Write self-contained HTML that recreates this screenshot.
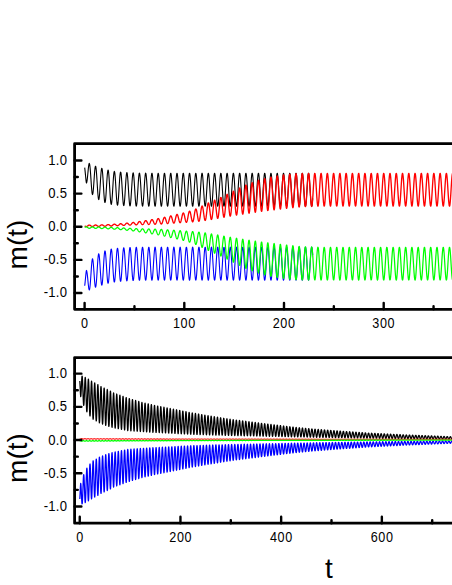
<!DOCTYPE html>
<html><head><meta charset="utf-8"><title>m(t)</title>
<style>html,body{margin:0;padding:0;background:#fff;}body{width:452px;height:585px;overflow:hidden;font-family:"Liberation Sans",sans-serif;}svg{display:block}</style>
</head><body>
<svg width="452" height="585" viewBox="0 0 452 585">
<rect width="452" height="585" fill="#fff"/>
<g fill="none" stroke-width="1.1" stroke-linejoin="round">
<path d="M84.70,167.62 84.90,169.23 85.10,171.08 85.30,173.11 85.50,175.22 85.70,177.32 85.90,179.31 86.10,181.07 86.30,182.51 86.50,182.98 86.70,182.49 86.90,181.62 87.10,180.38 87.30,178.84 87.50,177.04 87.70,175.06 87.90,172.99 88.10,170.91 88.30,168.93 88.50,167.13 88.70,165.61 88.90,164.43 89.10,163.68 89.30,163.41 89.50,163.75 89.70,164.61 89.90,165.97 90.10,167.79 90.30,170.02 90.50,172.58 90.70,175.39 90.90,178.35 91.10,181.35 91.30,184.27 91.50,187.00 91.70,189.44 91.90,191.50 92.10,193.08 92.30,194.12 92.50,194.59 92.70,194.25 92.90,193.33 93.10,191.87 93.30,189.92 93.50,187.58 93.70,184.94 93.90,182.10 94.10,179.19 94.30,176.32 94.50,173.63 94.70,171.22 94.90,169.19 95.10,167.64 95.30,166.63 95.50,166.21 95.70,166.41 95.90,167.21 96.10,168.59 96.30,170.52 96.50,172.92 96.70,175.71 96.90,178.78 97.10,182.01 97.30,185.29 97.50,188.47 97.70,191.44 97.90,194.08 98.10,196.29 98.30,197.98 98.50,199.09 98.70,199.56 98.90,199.35 99.10,198.48 99.30,197.00 99.50,194.98 99.70,192.51 99.90,189.69 100.10,186.62 100.30,183.45 100.50,180.29 100.70,177.28 100.90,174.54 101.10,172.19 101.30,170.32 101.50,169.02 101.70,168.33 101.90,168.30 102.10,168.92 102.30,170.18 102.50,172.03 102.70,174.40 102.90,177.20 103.10,180.32 103.30,183.64 103.50,187.03 103.70,190.36 103.90,193.49 104.10,196.31 104.30,198.70 104.50,200.58 104.70,201.85 104.90,202.48 105.10,202.45 105.30,201.71 105.50,200.35 105.70,198.41 105.90,195.97 106.10,193.15 106.30,190.04 106.50,186.78 106.70,183.51 106.90,180.35 107.10,177.44 107.30,174.89 107.50,172.81 107.70,171.28 107.90,170.37 108.10,170.11 108.30,170.53 108.50,171.59 108.70,173.25 108.90,175.47 109.10,178.15 109.30,181.19 109.50,184.47 109.70,187.86 109.90,191.22 110.10,194.43 110.30,197.36 110.50,199.89 110.70,201.91 110.90,203.36 111.10,204.17 111.30,204.32 111.50,203.77 111.70,202.57 111.90,200.76 112.10,198.43 112.30,195.68 112.50,192.60 112.70,189.34 112.90,186.01 113.10,182.76 113.30,179.72 113.50,177.01 113.70,174.73 113.90,172.99 114.10,171.85 114.30,171.36 114.50,171.54 114.70,172.37 114.90,173.83 115.10,175.86 115.30,178.38 115.50,181.30 115.70,184.49 115.90,187.84 116.10,191.20 116.30,194.44 116.50,197.44 116.70,200.07 116.90,202.24 117.10,203.84 117.30,204.83 117.50,205.16 117.70,204.82 117.90,203.81 118.10,202.18 118.30,200.01 118.50,197.38 118.70,194.40 118.90,191.18 119.10,187.85 119.30,184.56 119.50,181.43 119.70,178.60 119.90,176.16 120.10,174.23 120.30,172.87 120.50,172.16 120.70,172.10 120.90,172.71 121.10,173.96 121.30,175.81 121.50,178.17 121.70,180.96 121.90,184.07 122.10,187.37 122.30,190.72 122.50,194.00 122.70,197.07 122.90,199.82 123.10,202.13 123.30,203.90 123.50,205.08 123.70,205.61 123.90,205.48 124.10,204.68 124.30,203.25 124.50,201.26 124.70,198.77 124.90,195.89 125.10,192.74 125.30,189.44 125.50,186.14 125.70,182.95 125.90,180.01 126.10,177.44 126.30,175.34 126.50,173.80 126.70,172.87 126.90,172.59 127.10,172.97 127.30,174.01 127.50,175.65 127.70,177.84 127.90,180.49 128.10,183.48 128.30,186.71 128.50,190.04 128.70,193.34 128.90,196.47 129.10,199.32 129.30,201.76 129.50,203.70 129.70,205.07 129.90,205.80 130.10,205.87 130.30,205.28 130.50,204.05 130.70,202.23 130.90,199.89 131.10,197.13 131.30,194.06 131.50,190.80 131.70,187.48 131.90,184.24 132.10,181.21 132.30,178.50 132.50,176.23 132.70,174.50 132.90,173.36 133.10,172.86 133.30,173.03 133.50,173.86 133.70,175.32 133.90,177.34 134.10,179.85 134.30,182.74 134.50,185.91 134.70,189.22 134.90,192.53 135.10,195.73 135.30,198.67 135.50,201.25 135.70,203.35 135.90,204.90 136.10,205.84 136.30,206.12 136.50,205.73 136.70,204.70 136.90,203.06 137.10,200.87 137.30,198.24 137.50,195.26 137.70,192.05 137.90,188.75 138.10,185.48 138.30,182.37 138.50,179.56 138.70,177.15 138.90,175.24 139.10,173.91 139.30,173.20 139.50,173.16 139.70,173.77 139.90,175.02 140.10,176.85 140.30,179.19 140.50,181.96 140.70,185.03 140.90,188.28 141.10,191.59 141.30,194.82 141.50,197.84 141.70,200.53 141.90,202.79 142.10,204.52 142.30,205.65 142.50,206.14 142.70,205.97 142.90,205.14 143.10,203.70 143.30,201.69 143.50,199.19 143.70,196.32 143.90,193.17 144.10,189.89 144.30,186.60 144.50,183.43 144.70,180.51 144.90,177.96 145.10,175.87 145.30,174.34 145.50,173.43 145.70,173.16 145.90,173.56 146.10,174.61 146.30,176.26 146.50,178.44 146.70,181.08 146.90,184.06 147.10,187.27 147.30,190.57 147.50,193.84 147.70,196.94 147.90,199.75 148.10,202.16 148.30,204.07 148.50,205.40 148.70,206.10 148.90,206.14 149.10,205.52 149.30,204.27 149.50,202.43 149.70,200.09 149.90,197.32 150.10,194.25 150.30,191.00 150.50,187.70 150.70,184.48 150.90,181.47 151.10,178.78 151.30,176.54 151.50,174.83 151.70,173.71 151.90,173.23 152.10,173.42 152.30,174.26 152.50,175.72 152.70,177.74 152.90,180.24 153.10,183.12 153.30,186.27 153.50,189.56 153.70,192.85 153.90,196.02 154.10,198.93 154.30,201.48 154.50,203.55 154.70,205.08 154.90,205.98 155.10,206.24 155.30,205.83 155.50,204.78 155.70,203.12 155.90,200.93 156.10,198.29 156.30,195.30 156.50,192.10 156.70,188.79 156.90,185.53 157.10,182.44 157.30,179.63 157.50,177.24 157.70,175.34 157.90,174.03 158.10,173.34 158.30,173.31 158.50,173.94 158.70,175.20 158.90,177.05 159.10,179.40 159.30,182.17 159.50,185.25 159.70,188.50 159.90,191.80 160.10,195.02 160.30,198.03 160.50,200.71 160.70,202.94 160.90,204.65 161.10,205.76 161.30,206.23 161.50,206.03 161.70,205.18 161.90,203.71 162.10,201.69 162.30,199.18 162.50,196.29 162.70,193.14 162.90,189.86 163.10,186.57 163.30,183.41 163.50,180.50 163.70,177.96 163.90,175.89 164.10,174.38 164.30,173.49 164.50,173.25 164.70,173.66 164.90,174.73 165.10,176.39 165.30,178.59 165.50,181.24 165.70,184.23 165.90,187.44 166.10,190.74 166.30,194.00 166.50,197.09 166.70,199.89 166.90,202.28 167.10,204.16 167.30,205.47 167.50,206.15 167.70,206.17 167.90,205.53 168.10,204.25 168.30,202.40 168.50,200.03 168.70,197.26 168.90,194.18 169.10,190.92 169.30,187.62 169.50,184.40 169.70,181.40 169.90,178.73 170.10,176.50 170.30,174.80 170.50,173.71 170.70,173.25 170.90,173.46 171.10,174.32 171.30,175.80 171.50,177.83 171.70,180.35 171.90,183.24 172.10,186.39 172.30,189.68 172.50,192.97 172.70,196.13 172.90,199.03 173.10,201.56 173.30,203.62 173.50,205.12 173.70,206.00 173.90,206.23 174.10,205.80 174.30,204.73 174.50,203.05 174.70,200.84 174.90,198.19 175.10,195.20 175.30,191.98 175.50,188.68 175.70,185.42 175.90,182.33 176.10,179.55 176.30,177.16 176.50,175.29 176.70,173.99 176.90,173.33 177.10,173.32 177.30,173.97 177.50,175.26 177.70,177.12 177.90,179.49 178.10,182.27 178.30,185.36 178.50,188.61 178.70,191.92 178.90,195.13 179.10,198.13 179.30,200.79 179.50,203.01 179.70,204.70 179.90,205.79 180.10,206.23 180.30,206.01 180.50,205.14 180.70,203.65 180.90,201.61 181.10,199.09 181.30,196.19 181.50,193.03 181.70,189.75 181.90,186.46 182.10,183.30 182.30,180.40 182.50,177.88 182.70,175.83 182.90,174.34 183.10,173.47 183.30,173.25 183.50,173.69 183.70,174.78 183.90,176.46 184.10,178.68 184.30,181.34 184.50,184.34 184.70,187.55 184.90,190.86 185.10,194.11 185.30,197.20 185.50,199.98 185.70,202.35 185.90,204.22 186.10,205.51 186.30,206.16 186.50,206.15 186.70,205.49 186.90,204.20 187.10,202.32 187.30,199.94 187.50,197.16 187.70,194.07 187.90,190.81 188.10,187.51 188.30,184.30 188.50,181.30 188.70,178.65 188.90,176.43 189.10,174.76 189.30,173.68 189.50,173.25 189.70,173.48 189.90,174.36 190.10,175.86 190.30,177.91 190.50,180.44 190.70,183.34 190.90,186.50 191.10,189.79 191.30,193.08 191.50,196.23 191.70,199.12 191.90,201.64 192.10,203.68 192.30,205.16 192.50,206.02 192.70,206.23 192.90,205.78 193.10,204.68 193.30,202.99 193.50,200.76 193.70,198.09 193.90,195.09 194.10,191.87 194.30,188.57 194.50,185.31 194.70,182.23 194.90,179.46 195.10,177.09 195.30,175.23 195.50,173.96 195.70,173.32 195.90,173.33 196.10,174.00 196.30,175.31 196.50,177.19 196.70,179.58 196.90,182.37 197.10,185.46 197.30,188.73 197.50,192.03 197.70,195.24 197.90,198.23 198.10,200.88 198.30,203.08 198.50,204.75 198.70,205.81 198.90,206.23 199.10,205.99 199.30,205.10 199.50,203.59 199.70,201.53 199.90,198.99 200.10,196.09 200.30,192.92 200.50,189.63 200.70,186.35 200.90,183.20 201.10,180.31 201.30,177.80 201.50,175.77 201.70,174.30 201.90,173.45 202.10,173.25 202.30,173.72 202.50,174.82 202.70,176.53 202.90,178.76 203.10,181.44 203.30,184.44 203.50,187.66 203.70,190.97 203.90,194.22 204.10,197.30 204.30,200.07 204.50,202.42 204.70,204.27 204.90,205.54 205.10,206.17 205.30,206.14 205.50,205.46 205.70,204.14 205.90,202.25 206.10,199.86 206.30,197.05 206.50,193.96 206.70,190.70 206.90,187.40 207.10,184.19 207.30,181.20 207.50,178.56 207.70,176.37 207.90,174.71 208.10,173.65 208.30,173.24 208.50,173.50 208.70,174.40 208.90,175.92 209.10,177.99 209.30,180.53 209.50,183.45 209.70,186.61 209.90,189.90 210.10,193.19 210.30,196.33 210.50,199.22 210.70,201.72 210.90,203.74 211.10,205.20 211.30,206.04 211.50,206.22 211.70,205.75 211.90,204.63 212.10,202.92 212.30,200.68 212.50,197.99 212.70,194.98 212.90,191.76 213.10,188.46 213.30,185.20 213.50,182.13 213.70,179.37 213.90,177.02 214.10,175.18 214.30,173.93 214.50,173.30 214.70,173.34 214.90,174.04 215.10,175.36 215.30,177.27 215.50,179.67 215.70,182.48 215.90,185.57 216.10,188.84 216.30,192.14 216.50,195.34 216.70,198.32 216.90,200.96 217.10,203.15 217.30,204.79 217.50,205.84 217.70,206.24 217.90,205.97 218.10,205.06 218.30,203.53 218.50,201.45 218.70,198.90 218.90,195.98 219.10,192.81 219.30,189.52 219.50,186.24 219.70,183.09 219.90,180.22 220.10,177.72 220.30,175.71 220.50,174.26 220.70,173.43 220.90,173.26 221.10,173.74 221.30,174.87 221.50,176.60 221.70,178.85 221.90,181.53 222.10,184.55 222.30,187.78 222.50,191.08 222.70,194.33 222.90,197.40 223.10,200.16 223.30,202.50 223.50,204.33 223.70,205.57 223.90,206.18 224.10,206.13 224.30,205.42 224.50,204.09 224.70,202.18 224.90,199.77 225.10,196.95 225.30,193.85 225.50,190.59 225.70,187.29 225.90,184.08 226.10,181.11 226.30,178.48 226.50,176.30 226.70,174.66 226.90,173.63 227.10,173.24 227.30,173.52 227.50,174.44 227.70,175.98 227.90,178.07 228.10,180.63 228.30,183.55 228.50,186.72 228.70,190.02 228.90,193.30 229.10,196.44 229.30,199.31 229.50,201.79 229.70,203.80 229.90,205.24 230.10,206.06 230.30,206.22 230.50,205.72 230.70,204.58 230.90,202.85 231.10,200.59 231.30,197.90 231.50,194.87 231.70,191.65 231.90,188.34 232.10,185.10 232.30,182.03 232.50,179.28 232.70,176.95 232.90,175.13 233.10,173.89 233.30,173.30 233.50,173.36 233.70,174.07 233.90,175.42 234.10,177.34 234.30,179.76 234.50,182.58 234.70,185.68 234.90,188.95 235.10,192.25 235.30,195.45 235.50,198.42 235.70,201.04 235.90,203.21 236.10,204.84 236.30,205.86 236.50,206.24 236.70,205.95 236.90,205.02 237.10,203.47 237.30,201.37 237.50,198.81 237.70,195.88 237.90,192.70 238.10,189.41 238.30,186.13 238.50,182.99 238.70,180.13 238.90,177.65 239.10,175.65 239.30,174.22 239.50,173.42 239.70,173.26 239.90,173.77 240.10,174.92 240.30,176.66 240.50,178.93 240.70,181.63 240.90,184.66 241.10,187.89 241.30,191.19 241.50,194.44 241.70,197.50 241.90,200.24 242.10,202.57 242.30,204.38 242.50,205.60 242.70,206.19 242.90,206.12 243.10,205.39 243.30,204.03 243.50,202.10 243.70,199.68 243.90,196.85 244.10,193.74 244.30,190.47 244.50,187.17 244.70,183.98 244.90,181.01 245.10,178.40 245.30,176.24 245.50,174.62 245.70,173.61 245.90,173.24 246.10,173.54 246.30,174.48 246.50,176.04 246.70,178.15 246.90,180.72 247.10,183.66 247.30,186.83 247.50,190.13 247.70,193.41 247.90,196.54 248.10,199.40 248.30,201.87 248.50,203.86 248.70,205.28 248.90,206.07 249.10,206.21 249.30,205.69 249.50,204.53 249.70,202.78 249.90,200.51 250.10,197.80 250.30,194.77 250.50,191.54 250.70,188.23 250.90,184.99 251.10,181.93 251.30,179.19 251.50,176.88 251.70,175.08 251.90,173.86 252.10,173.29 252.30,173.37 252.50,174.11 252.70,175.48 252.90,177.42 253.10,179.85 253.30,182.68 253.50,185.79 253.70,189.06 253.90,192.36 254.10,195.56 254.30,198.52 254.50,201.12 254.70,203.28 254.90,204.88 255.10,205.89 255.30,206.24 255.50,205.93 255.70,204.97 255.90,203.41 256.10,201.29 256.30,198.71 256.50,195.77 256.70,192.59 256.90,189.29 257.10,186.02 257.30,182.89 257.50,180.04 257.70,177.57 257.90,175.59 258.10,174.19 258.30,173.40 258.50,173.27 258.70,173.80 258.90,174.97 259.10,176.73 259.30,179.02 259.50,181.73 259.70,184.77 259.90,188.00 260.10,191.31 260.30,194.55 260.50,197.60 260.70,200.33 260.90,202.64 261.10,204.43 261.30,205.63 261.50,206.20 261.70,206.10 261.90,205.35 262.10,203.97 262.30,202.03 262.50,199.59 262.70,196.75 262.90,193.63 263.10,190.36 263.30,187.06 263.50,183.87 263.70,180.92 263.90,178.32 264.10,176.17 264.30,174.57 264.50,173.58 264.70,173.24 264.90,173.56 265.10,174.53 265.30,176.11 265.50,178.23 265.70,180.82 265.90,183.76 266.10,186.95 266.30,190.24 266.50,193.52 266.70,196.64 266.90,199.49 267.10,201.95 267.30,203.91 267.50,205.31 267.70,206.09 267.90,206.21 268.10,205.66 268.30,204.48 268.50,202.71 268.70,200.42 268.90,197.70 269.10,194.66 269.30,191.42 269.50,188.12 269.70,184.88 269.90,181.83 270.10,179.11 270.30,176.81 270.50,175.02 270.70,173.83 270.90,173.28 271.10,173.38 271.30,174.15 271.50,175.53 271.70,177.49 271.90,179.94 272.10,182.78 272.30,185.90 272.50,189.18 272.70,192.47 272.90,195.66 273.10,198.61 273.30,201.21 273.50,203.34 273.70,204.93 273.90,205.91 274.10,206.24 274.30,205.91 274.50,204.93 274.70,203.34 274.90,201.21 275.10,198.62 275.30,195.67 275.50,192.48 275.70,189.18 275.90,185.91 276.10,182.79 276.30,179.94 276.50,177.49 276.70,175.54 276.90,174.15 277.10,173.39 277.30,173.28 277.50,173.83 277.70,175.02 277.90,176.80 278.10,179.10 278.30,181.83 278.50,184.87 278.70,188.11 278.90,191.42 279.10,194.65 279.30,197.69 279.50,200.42 279.70,202.71 279.90,204.48 280.10,205.66 280.30,206.21 280.50,206.09 280.70,205.31 280.90,203.92 281.10,201.95 281.30,199.49 281.50,196.65 281.70,193.52 281.90,190.25 282.10,186.95 282.30,183.77 282.50,180.82 282.70,178.23 282.90,176.11 283.10,174.53 283.30,173.56 283.50,173.24 283.70,173.58 283.90,174.57 284.10,176.17 284.30,178.31 284.50,180.91 284.70,183.87 284.90,187.06 285.10,190.35 285.30,193.63 285.50,196.75 285.70,199.58 285.90,202.02 286.10,203.97 286.30,205.35 286.50,206.10 286.70,206.20 286.90,205.63 287.10,204.43 287.30,202.64 287.50,200.33 287.70,197.60 287.90,194.55 288.10,191.31 288.30,188.01 288.50,184.77 288.70,181.74 288.90,179.02 289.10,176.74 289.30,174.97 289.50,173.80 289.70,173.27 289.90,173.40 290.10,174.18 290.30,175.59 290.50,177.57 290.70,180.03 290.90,182.88 291.10,186.01 291.30,189.29 291.50,192.58 291.70,195.77 291.90,198.71 292.10,201.29 292.30,203.40 292.50,204.97 292.70,205.93 292.90,206.24 293.10,205.89 293.30,204.89 293.50,203.28 293.70,201.13 293.90,198.52 294.10,195.56 294.30,192.37 294.50,189.07 294.70,185.80 294.90,182.68 295.10,179.85 295.30,177.42 295.50,175.48 295.70,174.11 295.90,173.37 296.10,173.29 296.30,173.86 296.50,175.07 296.70,176.87 296.90,179.19 297.10,181.93 297.30,184.98 297.50,188.23 297.70,191.53 297.90,194.76 298.10,197.79 298.30,200.50 298.50,202.78 298.70,204.53 298.90,205.69 299.10,206.21 299.30,206.07 299.50,205.28 299.70,203.86 299.90,201.87 300.10,199.40 300.30,196.54 300.50,193.41 300.70,190.13 300.90,186.84 301.10,183.66 301.30,180.73 301.50,178.15 301.70,176.05 301.90,174.49 302.10,173.54 302.30,173.24 302.50,173.60 302.70,174.62 302.90,176.23 303.10,178.39 303.30,181.01 303.50,183.97 303.70,187.17 303.90,190.47 304.10,193.74 304.30,196.85 304.50,199.67 304.70,202.10 304.90,204.03 305.10,205.39 305.30,206.12 305.50,206.19 305.70,205.60 305.90,204.38 306.10,202.57 306.30,200.25 306.50,197.50 306.70,194.44 306.90,191.20 307.10,187.89 307.30,184.66 307.50,181.64 307.70,178.94 307.90,176.67 308.10,174.92 308.30,173.77 308.50,173.26 308.70,173.42 308.90,174.22 309.10,175.65 309.30,177.64 309.50,180.12 309.70,182.99 309.90,186.12 310.10,189.40 310.30,192.70 310.50,195.87 310.70,198.80 310.90,201.37 311.10,203.47 311.30,205.02 311.50,205.95 311.70,206.24 311.90,205.86 312.10,204.84 312.30,203.21 312.50,201.05 312.70,198.42" stroke="#000"/>
<path d="M84.70,285.78 84.90,284.17 85.10,282.32 85.30,280.29 85.50,278.18 85.70,276.08 85.90,274.09 86.10,272.33 86.30,270.89 86.50,270.42 86.70,270.91 86.90,271.78 87.10,273.02 87.30,274.56 87.50,276.36 87.70,278.34 87.90,280.41 88.10,282.49 88.30,284.47 88.50,286.27 88.70,287.79 88.90,288.97 89.10,289.72 89.30,289.99 89.50,289.65 89.70,288.79 89.90,287.43 90.10,285.61 90.30,283.38 90.50,280.82 90.70,278.01 90.90,275.05 91.10,272.05 91.30,269.13 91.50,266.40 91.70,263.96 91.90,261.90 92.10,260.32 92.30,259.28 92.50,258.81 92.70,259.15 92.90,260.07 93.10,261.53 93.30,263.48 93.50,265.82 93.70,268.46 93.90,271.30 94.10,274.21 94.30,277.08 94.50,279.77 94.70,282.18 94.90,284.21 95.10,285.76 95.30,286.77 95.50,287.19 95.70,286.99 95.90,286.19 96.10,284.81 96.30,282.88 96.50,280.48 96.70,277.69 96.90,274.62 97.10,271.39 97.30,268.11 97.50,264.93 97.70,261.96 97.90,259.32 98.10,257.11 98.30,255.42 98.50,254.31 98.70,253.84 98.90,254.05 99.10,254.92 99.30,256.40 99.50,258.42 99.70,260.89 99.90,263.71 100.10,266.78 100.30,269.95 100.50,273.11 100.70,276.12 100.90,278.86 101.10,281.21 101.30,283.08 101.50,284.38 101.70,285.07 101.90,285.10 102.10,284.48 102.30,283.22 102.50,281.37 102.70,279.00 102.90,276.20 103.10,273.08 103.30,269.76 103.50,266.37 103.70,263.04 103.90,259.91 104.10,257.09 104.30,254.70 104.50,252.82 104.70,251.55 104.90,250.92 105.10,250.95 105.30,251.69 105.50,253.05 105.70,254.99 105.90,257.43 106.10,260.25 106.30,263.36 106.50,266.62 106.70,269.89 106.90,273.05 107.10,275.96 107.30,278.51 107.50,280.59 107.70,282.12 107.90,283.03 108.10,283.29 108.30,282.87 108.50,281.81 108.70,280.15 108.90,277.93 109.10,275.25 109.30,272.21 109.50,268.93 109.70,265.54 109.90,262.18 110.10,258.97 110.30,256.04 110.50,253.51 110.70,251.49 110.90,250.04 111.10,249.23 111.30,249.08 111.50,249.63 111.70,250.83 111.90,252.64 112.10,254.97 112.30,257.72 112.50,260.80 112.70,264.06 112.90,267.39 113.10,270.64 113.30,273.68 113.50,276.39 113.70,278.67 113.90,280.41 114.10,281.55 114.30,282.04 114.50,281.86 114.70,281.03 114.90,279.57 115.10,277.54 115.30,275.02 115.50,272.10 115.70,268.91 115.90,265.56 116.10,262.20 116.30,258.96 116.50,255.96 116.70,253.33 116.90,251.16 117.10,249.56 117.30,248.57 117.50,248.24 117.70,248.58 117.90,249.59 118.10,251.22 118.30,253.39 118.50,256.02 118.70,259.00 118.90,262.22 119.10,265.55 119.30,268.84 119.50,271.97 119.70,274.80 119.90,277.24 120.10,279.17 120.30,280.53 120.50,281.24 120.70,281.30 120.90,280.69 121.10,279.44 121.30,277.59 121.50,275.23 121.70,272.44 121.90,269.33 122.10,266.03 122.30,262.68 122.50,259.40 122.70,256.33 122.90,253.58 123.10,251.27 123.30,249.50 123.50,248.32 123.70,247.79 123.90,247.92 124.10,248.72 124.30,250.15 124.50,252.14 124.70,254.63 124.90,257.51 125.10,260.66 125.30,263.96 125.50,267.26 125.70,270.45 125.90,273.39 126.10,275.96 126.30,278.06 126.50,279.60 126.70,280.53 126.90,280.81 127.10,280.43 127.30,279.39 127.50,277.75 127.70,275.56 127.90,272.91 128.10,269.92 128.30,266.69 128.50,263.36 128.70,260.06 128.90,256.93 129.10,254.08 129.30,251.64 129.50,249.70 129.70,248.33 129.90,247.60 130.10,247.53 130.30,248.12 130.50,249.35 130.70,251.17 130.90,253.51 131.10,256.27 131.30,259.34 131.50,262.60 131.70,265.92 131.90,269.16 132.10,272.19 132.30,274.90 132.50,277.17 132.70,278.90 132.90,280.04 133.10,280.54 133.30,280.37 133.50,279.54 133.70,278.08 133.90,276.06 134.10,273.55 134.30,270.66 134.50,267.49 134.70,264.18 134.90,260.87 135.10,257.67 135.30,254.73 135.50,252.15 135.70,250.05 135.90,248.50 136.10,247.56 136.30,247.28 136.50,247.67 136.70,248.70 136.90,250.34 137.10,252.53 137.30,255.16 137.50,258.14 137.70,261.35 137.90,264.65 138.10,267.92 138.30,271.03 138.50,273.84 138.70,276.25 138.90,278.16 139.10,279.49 139.30,280.20 139.50,280.24 139.70,279.63 139.90,278.38 140.10,276.55 140.30,274.21 140.50,271.44 140.70,268.37 140.90,265.12 141.10,261.81 141.30,258.58 141.50,255.56 141.70,252.87 141.90,250.61 142.10,248.88 142.30,247.75 142.50,247.26 142.70,247.43 142.90,248.26 143.10,249.70 143.30,251.71 143.50,254.21 143.70,257.08 143.90,260.23 144.10,263.51 144.30,266.80 144.50,269.97 144.70,272.89 144.90,275.44 145.10,277.53 145.30,279.06 145.50,279.97 145.70,280.24 145.90,279.84 146.10,278.79 146.30,277.14 146.50,274.96 146.70,272.32 146.90,269.34 147.10,266.13 147.30,262.83 147.50,259.56 147.70,256.46 147.90,253.65 148.10,251.24 148.30,249.33 148.50,248.00 148.70,247.30 148.90,247.26 149.10,247.88 149.30,249.13 149.50,250.97 149.70,253.31 149.90,256.08 150.10,259.15 150.30,262.40 150.50,265.70 150.70,268.92 150.90,271.93 151.10,274.62 151.30,276.86 151.50,278.57 151.70,279.69 151.90,280.17 152.10,279.98 152.30,279.14 152.50,277.68 152.70,275.66 152.90,273.16 153.10,270.28 153.30,267.13 153.50,263.84 153.70,260.55 153.90,257.38 154.10,254.47 154.30,251.92 154.50,249.85 154.70,248.32 154.90,247.42 155.10,247.16 155.30,247.57 155.50,248.62 155.70,250.28 155.90,252.47 156.10,255.11 156.30,258.10 156.50,261.30 156.70,264.61 156.90,267.87 157.10,270.96 157.30,273.77 157.50,276.16 157.70,278.06 157.90,279.37 158.10,280.06 158.30,280.09 158.50,279.46 158.70,278.20 158.90,276.35 159.10,274.00 159.30,271.23 159.50,268.15 159.70,264.90 159.90,261.60 160.10,258.38 160.30,255.37 160.50,252.69 160.70,250.46 160.90,248.75 161.10,247.64 161.30,247.17 161.50,247.37 161.70,248.22 161.90,249.69 162.10,251.71 162.30,254.22 162.50,257.11 162.70,260.26 162.90,263.54 163.10,266.83 163.30,269.99 163.50,272.90 163.70,275.44 163.90,277.51 164.10,279.02 164.30,279.91 164.50,280.15 164.70,279.74 164.90,278.67 165.10,277.01 165.30,274.81 165.50,272.16 165.70,269.17 165.90,265.96 166.10,262.66 166.30,259.40 166.50,256.31 166.70,253.51 166.90,251.12 167.10,249.24 167.30,247.93 167.50,247.25 167.70,247.23 167.90,247.87 168.10,249.15 168.30,251.00 168.50,253.37 168.70,256.14 168.90,259.22 169.10,262.48 169.30,265.78 169.50,269.00 169.70,272.00 169.90,274.67 170.10,276.90 170.30,278.60 170.50,279.69 170.70,280.15 170.90,279.94 171.10,279.08 171.30,277.60 171.50,275.57 171.70,273.05 171.90,270.16 172.10,267.01 172.30,263.72 172.50,260.43 172.70,257.27 172.90,254.37 173.10,251.84 173.30,249.78 173.50,248.28 173.70,247.40 173.90,247.17 174.10,247.60 174.30,248.67 174.50,250.35 174.70,252.56 174.90,255.21 175.10,258.20 175.30,261.42 175.50,264.72 175.70,267.98 175.90,271.07 176.10,273.85 176.30,276.24 176.50,278.11 176.70,279.41 176.90,280.07 177.10,280.08 177.30,279.43 177.50,278.14 177.70,276.28 177.90,273.91 178.10,271.13 178.30,268.04 178.50,264.79 178.70,261.48 178.90,258.27 179.10,255.27 179.30,252.61 179.50,250.39 179.70,248.70 179.90,247.61 180.10,247.17 180.30,247.39 180.50,248.26 180.70,249.75 180.90,251.79 181.10,254.31 181.30,257.21 181.50,260.37 181.70,263.65 181.90,266.94 182.10,270.10 182.30,273.00 182.50,275.52 182.70,277.57 182.90,279.06 183.10,279.93 183.30,280.15 183.50,279.71 183.70,278.62 183.90,276.94 184.10,274.72 184.30,272.06 184.50,269.06 184.70,265.85 184.90,262.54 185.10,259.29 185.30,256.20 185.50,253.42 185.70,251.05 185.90,249.18 186.10,247.89 186.30,247.24 186.50,247.25 186.70,247.91 186.90,249.20 187.10,251.08 187.30,253.46 187.50,256.24 187.70,259.33 187.90,262.59 188.10,265.89 188.30,269.10 188.50,272.10 188.70,274.75 188.90,276.97 189.10,278.64 189.30,279.72 189.50,280.15 189.70,279.92 189.90,279.04 190.10,277.54 190.30,275.49 190.50,272.96 190.70,270.06 190.90,266.90 191.10,263.61 191.30,260.32 191.50,257.17 191.70,254.28 191.90,251.76 192.10,249.72 192.30,248.24 192.50,247.38 192.70,247.17 192.90,247.62 193.10,248.72 193.30,250.41 193.50,252.64 193.70,255.31 193.90,258.31 194.10,261.53 194.30,264.83 194.50,268.09 194.70,271.17 194.90,273.94 195.10,276.31 195.30,278.17 195.50,279.44 195.70,280.08 195.90,280.07 196.10,279.40 196.30,278.09 196.50,276.21 196.70,273.82 196.90,271.03 197.10,267.94 197.30,264.67 197.50,261.37 197.70,258.16 197.90,255.17 198.10,252.52 198.30,250.32 198.50,248.65 198.70,247.59 198.90,247.17 199.10,247.41 199.30,248.30 199.50,249.81 199.70,251.87 199.90,254.41 200.10,257.31 200.30,260.48 200.50,263.77 200.70,267.05 200.90,270.20 201.10,273.09 201.30,275.60 201.50,277.63 201.70,279.10 201.90,279.95 202.10,280.15 202.30,279.68 202.50,278.58 202.70,276.87 202.90,274.64 203.10,271.96 203.30,268.96 203.50,265.74 203.70,262.43 203.90,259.18 204.10,256.10 204.30,253.33 204.50,250.98 204.70,249.13 204.90,247.86 205.10,247.23 205.30,247.26 205.50,247.94 205.70,249.26 205.90,251.15 206.10,253.54 206.30,256.35 206.50,259.44 206.70,262.70 206.90,266.00 207.10,269.21 207.30,272.20 207.50,274.84 207.70,277.03 207.90,278.69 208.10,279.75 208.30,280.16 208.50,279.90 208.70,279.00 208.90,277.48 209.10,275.41 209.30,272.87 209.50,269.95 209.70,266.79 209.90,263.50 210.10,260.21 210.30,257.07 210.50,254.18 210.70,251.68 210.90,249.66 211.10,248.20 211.30,247.36 211.50,247.18 211.70,247.65 211.90,248.77 212.10,250.48 212.30,252.72 212.50,255.41 212.70,258.42 212.90,261.64 213.10,264.94 213.30,268.20 213.50,271.27 213.70,274.03 213.90,276.38 214.10,278.22 214.30,279.47 214.50,280.10 214.70,280.06 214.90,279.36 215.10,278.04 215.30,276.13 215.50,273.73 215.70,270.92 215.90,267.83 216.10,264.56 216.30,261.26 216.50,258.06 216.70,255.08 216.90,252.44 217.10,250.25 217.30,248.61 217.50,247.56 217.70,247.16 217.90,247.43 218.10,248.34 218.30,249.87 218.50,251.95 218.70,254.50 218.90,257.42 219.10,260.59 219.30,263.88 219.50,267.16 219.70,270.31 219.90,273.18 220.10,275.68 220.30,277.69 220.50,279.14 220.70,279.97 220.90,280.14 221.10,279.66 221.30,278.53 221.50,276.80 221.70,274.55 221.90,271.87 222.10,268.85 222.30,265.62 222.50,262.32 222.70,259.07 222.90,256.00 223.10,253.24 223.30,250.90 223.50,249.07 223.70,247.83 223.90,247.22 224.10,247.27 224.30,247.98 224.50,249.31 224.70,251.22 224.90,253.63 225.10,256.45 225.30,259.55 225.50,262.81 225.70,266.11 225.90,269.32 226.10,272.29 226.30,274.92 226.50,277.10 226.70,278.74 226.90,279.77 227.10,280.16 227.30,279.88 227.50,278.96 227.70,277.42 227.90,275.33 228.10,272.77 228.30,269.85 228.50,266.68 228.70,263.38 228.90,260.10 229.10,256.96 229.30,254.09 229.50,251.61 229.70,249.60 229.90,248.16 230.10,247.34 230.30,247.18 230.50,247.68 230.70,248.82 230.90,250.55 231.10,252.81 231.30,255.50 231.50,258.53 231.70,261.75 231.90,265.06 232.10,268.30 232.30,271.37 232.50,274.12 232.70,276.45 232.90,278.27 233.10,279.51 233.30,280.10 233.50,280.04 233.70,279.33 233.90,277.98 234.10,276.06 234.30,273.64 234.50,270.82 234.70,267.72 234.90,264.45 235.10,261.15 235.30,257.95 235.50,254.98 235.70,252.36 235.90,250.19 236.10,248.56 236.30,247.54 236.50,247.16 236.70,247.45 236.90,248.38 237.10,249.93 237.30,252.03 237.50,254.59 237.70,257.52 237.90,260.70 238.10,263.99 238.30,267.27 238.50,270.41 238.70,273.27 238.90,275.75 239.10,277.75 239.30,279.18 239.50,279.98 239.70,280.14 239.90,279.63 240.10,278.48 240.30,276.74 240.50,274.47 240.70,271.77 240.90,268.74 241.10,265.51 241.30,262.21 241.50,258.96 241.70,255.90 241.90,253.16 242.10,250.83 242.30,249.02 242.50,247.80 242.70,247.21 242.90,247.28 243.10,248.01 243.30,249.37 243.50,251.30 243.70,253.72 243.90,256.55 244.10,259.66 244.30,262.93 244.50,266.23 244.70,269.42 244.90,272.39 245.10,275.00 245.30,277.16 245.50,278.78 245.70,279.79 245.90,280.16 246.10,279.86 246.30,278.92 246.50,277.36 246.70,275.25 246.90,272.68 247.10,269.74 247.30,266.57 247.50,263.27 247.70,259.99 247.90,256.86 248.10,254.00 248.30,251.53 248.50,249.54 248.70,248.12 248.90,247.33 249.10,247.19 249.30,247.71 249.50,248.87 249.70,250.62 249.90,252.89 250.10,255.60 250.30,258.63 250.50,261.86 250.70,265.17 250.90,268.41 251.10,271.47 251.30,274.21 251.50,276.52 251.70,278.32 251.90,279.54 252.10,280.11 252.30,280.03 252.50,279.29 252.70,277.92 252.90,275.98 253.10,273.55 253.30,270.72 253.50,267.61 253.70,264.34 253.90,261.04 254.10,257.84 254.30,254.88 254.50,252.28 254.70,250.12 254.90,248.52 255.10,247.51 255.30,247.16 255.50,247.47 255.70,248.43 255.90,249.99 256.10,252.11 256.30,254.69 256.50,257.63 256.70,260.81 256.90,264.11 257.10,267.38 257.30,270.51 257.50,273.36 257.70,275.83 257.90,277.81 258.10,279.21 258.30,280.00 258.50,280.13 258.70,279.60 258.90,278.43 259.10,276.67 259.30,274.38 259.50,271.67 259.70,268.63 259.90,265.40 260.10,262.09 260.30,258.85 260.50,255.80 260.70,253.07 260.90,250.76 261.10,248.97 261.30,247.77 261.50,247.20 261.70,247.30 261.90,248.05 262.10,249.43 262.30,251.37 262.50,253.81 262.70,256.65 262.90,259.77 263.10,263.04 263.30,266.34 263.50,269.53 263.70,272.48 263.90,275.08 264.10,277.23 264.30,278.83 264.50,279.82 264.70,280.16 264.90,279.84 265.10,278.87 265.30,277.29 265.50,275.17 265.70,272.58 265.90,269.64 266.10,266.45 266.30,263.16 266.50,259.88 266.70,256.76 266.90,253.91 267.10,251.45 267.30,249.49 267.50,248.09 267.70,247.31 267.90,247.19 268.10,247.74 268.30,248.92 268.50,250.69 268.70,252.98 268.90,255.70 269.10,258.74 269.30,261.98 269.50,265.28 269.70,268.52 269.90,271.57 270.10,274.29 270.30,276.59 270.50,278.38 270.70,279.57 270.90,280.12 271.10,280.02 271.30,279.25 271.50,277.87 271.70,275.91 271.90,273.46 272.10,270.62 272.30,267.50 272.50,264.22 272.70,260.93 272.90,257.74 273.10,254.79 273.30,252.19 273.50,250.06 273.70,248.47 273.90,247.49 274.10,247.16 274.30,247.49 274.50,248.47 274.70,250.06 274.90,252.19 275.10,254.78 275.30,257.73 275.50,260.92 275.70,264.22 275.90,267.49 276.10,270.61 276.30,273.46 276.50,275.91 276.70,277.86 276.90,279.25 277.10,280.01 277.30,280.12 277.50,279.57 277.70,278.38 277.90,276.60 278.10,274.30 278.30,271.57 278.50,268.53 278.70,265.29 278.90,261.98 279.10,258.75 279.30,255.71 279.50,252.98 279.70,250.69 279.90,248.92 280.10,247.74 280.30,247.19 280.50,247.31 280.70,248.09 280.90,249.48 281.10,251.45 281.30,253.91 281.50,256.75 281.70,259.88 281.90,263.15 282.10,266.45 282.30,269.63 282.50,272.58 282.70,275.17 282.90,277.29 283.10,278.87 283.30,279.84 283.50,280.16 283.70,279.82 283.90,278.83 284.10,277.23 284.30,275.09 284.50,272.49 284.70,269.53 284.90,266.34 285.10,263.05 285.30,259.77 285.50,256.65 285.70,253.82 285.90,251.38 286.10,249.43 286.30,248.05 286.50,247.30 286.70,247.20 286.90,247.77 287.10,248.97 287.30,250.76 287.50,253.07 287.70,255.80 287.90,258.85 288.10,262.09 288.30,265.39 288.50,268.63 288.70,271.66 288.90,274.38 289.10,276.66 289.30,278.43 289.50,279.60 289.70,280.13 289.90,280.00 290.10,279.22 290.30,277.81 290.50,275.83 290.70,273.37 290.90,270.52 291.10,267.39 291.30,264.11 291.50,260.82 291.70,257.63 291.90,254.69 292.10,252.11 292.30,250.00 292.50,248.43 292.70,247.47 292.90,247.16 293.10,247.51 293.30,248.51 293.50,250.12 293.70,252.27 293.90,254.88 294.10,257.84 294.30,261.03 294.50,264.33 294.70,267.60 294.90,270.72 295.10,273.55 295.30,275.98 295.50,277.92 295.70,279.29 295.90,280.03 296.10,280.11 296.30,279.54 296.50,278.33 296.70,276.53 296.90,274.21 297.10,271.47 297.30,268.42 297.50,265.17 297.70,261.87 297.90,258.64 298.10,255.61 298.30,252.90 298.50,250.62 298.70,248.87 298.90,247.71 299.10,247.19 299.30,247.33 299.50,248.12 299.70,249.54 299.90,251.53 300.10,254.00 300.30,256.86 300.50,259.99 300.70,263.27 300.90,266.56 301.10,269.74 301.30,272.67 301.50,275.25 301.70,277.35 301.90,278.91 302.10,279.86 302.30,280.16 302.50,279.80 302.70,278.78 302.90,277.17 303.10,275.01 303.30,272.39 303.50,269.43 303.70,266.23 303.90,262.93 304.10,259.66 304.30,256.55 304.50,253.73 304.70,251.30 304.90,249.37 305.10,248.01 305.30,247.28 305.50,247.21 305.70,247.80 305.90,249.02 306.10,250.83 306.30,253.15 306.50,255.90 306.70,258.96 306.90,262.20 307.10,265.51 307.30,268.74 307.50,271.76 307.70,274.46 307.90,276.73 308.10,278.48 308.30,279.63 308.50,280.14 308.70,279.98 308.90,279.18 309.10,277.75 309.30,275.76 309.50,273.28 309.70,270.41 309.90,267.28 310.10,264.00 310.30,260.70 310.50,257.53 310.70,254.60 310.90,252.03 311.10,249.93 311.30,248.38 311.50,247.45 311.70,247.16 311.90,247.54 312.10,248.56 312.30,250.19 312.50,252.35 312.70,254.98" stroke="#00f"/>
<path d="M84.70,225.91 84.90,226.05 85.10,226.18 85.30,226.30 85.50,226.40 85.70,226.48 85.90,226.53 86.10,226.55 86.30,226.55 86.50,226.51 86.70,226.45 86.90,226.37 87.10,226.26 87.30,226.13 87.50,225.99 87.70,225.85 87.90,225.70 88.10,225.56 88.30,225.43 88.50,225.31 88.70,225.22 88.90,225.15 89.10,225.10 89.30,225.09 89.50,225.10 89.70,225.14 89.90,225.21 90.10,225.30 90.30,225.41 90.50,225.54 90.70,225.68 90.90,225.83 91.10,225.97 91.30,226.10 91.50,226.23 91.70,226.33 91.90,226.42 92.10,226.48 92.30,226.51 92.50,226.51 92.70,226.49 92.90,226.43 93.10,226.35 93.30,226.25 93.50,226.12 93.70,225.99 93.90,225.84 94.10,225.69 94.30,225.55 94.50,225.41 94.70,225.28 94.90,225.18 95.10,225.10 95.30,225.04 95.50,225.01 95.70,225.01 95.90,225.04 96.10,225.10 96.30,225.18 96.50,225.29 96.70,225.41 96.90,225.54 97.10,225.69 97.30,225.83 97.50,225.97 97.70,226.10 97.90,226.21 98.10,226.30 98.30,226.37 98.50,226.41 98.70,226.42 98.90,226.40 99.10,226.35 99.30,226.27 99.50,226.17 99.70,226.04 99.90,225.90 100.10,225.75 100.30,225.60 100.50,225.44 100.70,225.29 100.90,225.16 101.10,225.04 101.30,224.94 101.50,224.87 101.70,224.83 101.90,224.82 102.10,224.84 102.30,224.89 102.50,224.96 102.70,225.06 102.90,225.19 103.10,225.32 103.30,225.47 103.50,225.62 103.70,225.76 103.90,225.90 104.10,226.02 104.30,226.12 104.50,226.20 104.70,226.25 104.90,226.27 105.10,226.26 105.30,226.22 105.50,226.14 105.70,226.04 105.90,225.92 106.10,225.78 106.30,225.62 106.50,225.45 106.70,225.28 106.90,225.12 107.10,224.97 107.30,224.84 107.50,224.72 107.70,224.64 107.90,224.58 108.10,224.55 108.30,224.56 108.50,224.60 108.70,224.67 108.90,224.76 109.10,224.88 109.30,225.01 109.50,225.16 109.70,225.31 109.90,225.47 110.10,225.61 110.30,225.75 110.50,225.86 110.70,225.95 110.90,226.01 111.10,226.03 111.30,226.03 111.50,225.99 111.70,225.92 111.90,225.82 112.10,225.69 112.30,225.54 112.50,225.37 112.70,225.20 112.90,225.01 113.10,224.83 113.30,224.66 113.50,224.51 113.70,224.38 113.90,224.28 114.10,224.20 114.30,224.16 114.50,224.15 114.70,224.18 114.90,224.25 115.10,224.34 115.30,224.46 115.50,224.60 115.70,224.75 115.90,224.92 116.10,225.08 116.30,225.24 116.50,225.39 116.70,225.52 116.90,225.62 117.10,225.70 117.30,225.74 117.50,225.75 117.70,225.72 117.90,225.65 118.10,225.55 118.30,225.42 118.50,225.27 118.70,225.09 118.90,224.90 119.10,224.71 119.30,224.51 119.50,224.32 119.70,224.15 119.90,223.99 120.10,223.87 120.30,223.77 120.50,223.72 120.70,223.69 120.90,223.71 121.10,223.76 121.30,223.85 121.50,223.97 121.70,224.12 121.90,224.28 122.10,224.46 122.30,224.64 122.50,224.82 122.70,224.99 122.90,225.14 123.10,225.26 123.30,225.36 123.50,225.42 123.70,225.44 123.90,225.42 124.10,225.36 124.30,225.26 124.50,225.12 124.70,224.95 124.90,224.76 125.10,224.55 125.30,224.33 125.50,224.11 125.70,223.89 125.90,223.68 126.10,223.50 126.30,223.35 126.50,223.23 126.70,223.15 126.90,223.11 127.10,223.12 127.30,223.17 127.50,223.25 127.70,223.38 127.90,223.54 128.10,223.72 128.30,223.92 128.50,224.12 128.70,224.33 128.90,224.53 129.10,224.71 129.30,224.86 129.50,224.98 129.70,225.06 129.90,225.10 130.10,225.09 130.30,225.04 130.50,224.95 130.70,224.81 130.90,224.63 131.10,224.42 131.30,224.19 131.50,223.94 131.70,223.69 131.90,223.44 132.10,223.20 132.30,222.98 132.50,222.79 132.70,222.64 132.90,222.53 133.10,222.47 133.30,222.45 133.50,222.49 133.70,222.58 133.90,222.71 134.10,222.88 134.30,223.08 134.50,223.31 134.70,223.55 134.90,223.80 135.10,224.04 135.30,224.27 135.50,224.47 135.70,224.63 135.90,224.75 136.10,224.82 136.30,224.84 136.50,224.80 136.70,224.70 136.90,224.55 137.10,224.35 137.30,224.11 137.50,223.83 137.70,223.52 137.90,223.21 138.10,222.89 138.30,222.58 138.50,222.29 138.70,222.04 138.90,221.83 139.10,221.67 139.30,221.57 139.50,221.53 139.70,221.56 139.90,221.65 140.10,221.80 140.30,222.01 140.50,222.26 140.70,222.55 140.90,222.86 141.10,223.18 141.30,223.50 141.50,223.81 141.70,224.08 141.90,224.31 142.10,224.49 142.30,224.60 142.50,224.65 142.70,224.62 142.90,224.52 143.10,224.36 143.30,224.12 143.50,223.83 143.70,223.49 143.90,223.12 144.10,222.73 144.30,222.33 144.50,221.94 144.70,221.57 144.90,221.24 145.10,220.96 145.30,220.75 145.50,220.61 145.70,220.55 145.90,220.56 146.10,220.66 146.30,220.83 146.50,221.08 146.70,221.38 146.90,221.73 147.10,222.11 147.30,222.51 147.50,222.91 147.70,223.30 147.90,223.65 148.10,223.95 148.30,224.20 148.50,224.36 148.70,224.45 148.90,224.45 149.10,224.36 149.30,224.18 149.50,223.93 149.70,223.60 149.90,223.20 150.10,222.77 150.30,222.30 150.50,221.82 150.70,221.34 150.90,220.89 151.10,220.49 151.30,220.14 151.50,219.86 151.70,219.67 151.90,219.57 152.10,219.56 152.30,219.66 152.50,219.84 152.70,220.11 152.90,220.46 153.10,220.86 153.30,221.31 153.50,221.79 153.70,222.27 153.90,222.74 154.10,223.18 154.30,223.56 154.50,223.87 154.70,224.10 154.90,224.24 155.10,224.27 155.30,224.20 155.50,224.03 155.70,223.75 155.90,223.39 156.10,222.96 156.30,222.46 156.50,221.92 156.70,221.36 156.90,220.80 157.10,220.26 157.30,219.77 157.50,219.34 157.70,218.99 157.90,218.73 158.10,218.58 158.30,218.54 158.50,218.62 158.70,218.80 158.90,219.08 159.10,219.46 159.30,219.91 159.50,220.42 159.70,220.97 159.90,221.53 160.10,222.08 160.30,222.60 160.50,223.07 160.70,223.45 160.90,223.75 161.10,223.94 161.30,224.02 161.50,223.97 161.70,223.80 161.90,223.51 162.10,223.12 162.30,222.63 162.50,222.07 162.70,221.45 162.90,220.80 163.10,220.14 163.30,219.50 163.50,218.90 163.70,218.37 163.90,217.92 164.10,217.58 164.30,217.36 164.50,217.27 164.70,217.31 164.90,217.48 165.10,217.77 165.30,218.17 165.50,218.67 165.70,219.24 165.90,219.86 166.10,220.51 166.30,221.16 166.50,221.77 166.70,222.33 166.90,222.82 167.10,223.20 167.30,223.46 167.50,223.59 167.70,223.58 167.90,223.42 168.10,223.13 168.30,222.72 168.50,222.19 168.70,221.56 168.90,220.86 169.10,220.12 169.30,219.36 169.50,218.62 169.70,217.91 169.90,217.28 170.10,216.74 170.30,216.31 170.50,216.02 170.70,215.87 170.90,215.87 171.10,216.02 171.30,216.32 171.50,216.75 171.70,217.29 171.90,217.93 172.10,218.63 172.30,219.37 172.50,220.12 172.70,220.84 172.90,221.51 173.10,222.10 173.30,222.57 173.50,222.92 173.70,223.12 173.90,223.16 174.10,223.04 174.30,222.76 174.50,222.34 174.70,221.77 174.90,221.10 175.10,220.33 175.30,219.51 175.50,218.65 175.70,217.80 175.90,216.99 176.10,216.24 176.30,215.60 176.50,215.08 176.70,214.70 176.90,214.49 177.10,214.44 177.30,214.56 177.50,214.85 177.70,215.30 177.90,215.88 178.10,216.57 178.30,217.34 178.50,218.17 178.70,219.02 178.90,219.85 179.10,220.63 179.30,221.32 179.50,221.90 179.70,222.34 179.90,222.62 180.10,222.73 180.30,222.65 180.50,222.40 180.70,221.97 180.90,221.39 181.10,220.67 181.30,219.84 181.50,218.94 181.70,217.99 181.90,217.03 182.10,216.10 182.30,215.25 182.50,214.49 182.70,213.86 182.90,213.39 183.10,213.09 183.30,212.97 183.50,213.05 183.70,213.32 183.90,213.76 184.10,214.36 184.30,215.10 184.50,215.95 184.70,216.86 184.90,217.81 185.10,218.75 185.30,219.65 185.50,220.46 185.70,221.16 185.90,221.71 186.10,222.08 186.30,222.27 186.50,222.25 186.70,222.03 186.90,221.62 187.10,221.01 187.30,220.25 187.50,219.35 187.70,218.34 187.90,217.27 188.10,216.18 188.30,215.11 188.50,214.10 188.70,213.19 188.90,212.41 189.10,211.81 189.30,211.39 189.50,211.18 189.70,211.19 189.90,211.42 190.10,211.85 190.30,212.48 190.50,213.28 190.70,214.20 190.90,215.23 191.10,216.31 191.30,217.40 191.50,218.45 191.70,219.42 191.90,220.28 192.10,220.97 192.30,221.47 192.50,221.76 192.70,221.82 192.90,221.64 193.10,221.23 193.30,220.60 193.50,219.78 193.70,218.78 193.90,217.66 194.10,216.44 194.30,215.18 194.50,213.93 194.70,212.73 194.90,211.63 195.10,210.68 195.30,209.91 195.50,209.35 195.70,209.02 195.90,208.95 196.10,209.13 196.30,209.56 196.50,210.21 196.70,211.07 196.90,212.09 197.10,213.25 197.30,214.48 197.50,215.74 197.70,216.98 197.90,218.14 198.10,219.17 198.30,220.04 198.50,220.69 198.70,221.11 198.90,221.26 199.10,221.13 199.30,220.74 199.50,220.08 199.70,219.18 199.90,218.07 200.10,216.79 200.30,215.39 200.50,213.91 200.70,212.43 200.90,210.98 201.10,209.64 201.30,208.45 201.50,207.45 201.70,206.70 201.90,206.22 202.10,206.03 202.30,206.14 202.50,206.54 202.70,207.22 202.90,208.15 203.10,209.30 203.30,210.61 203.50,212.04 203.70,213.52 203.90,214.99 204.10,216.39 204.30,217.66 204.50,218.75 204.70,219.60 204.90,220.18 205.10,220.46 205.30,220.42 205.50,220.05 205.70,219.38 205.90,218.41 206.10,217.19 206.30,215.75 206.50,214.16 206.70,212.47 206.90,210.75 207.10,209.07 207.30,207.48 207.50,206.06 207.70,204.85 207.90,203.91 208.10,203.28 208.30,202.98 208.50,203.02 208.70,203.39 208.90,204.10 209.10,205.10 209.30,206.35 209.50,207.81 209.70,209.41 209.90,211.09 210.10,212.77 210.30,214.39 210.50,215.89 210.70,217.18 210.90,218.23 211.10,218.98 211.30,219.40 211.50,219.46 211.70,219.17 211.90,218.52 212.10,217.54 212.30,216.27 212.50,214.75 212.70,213.04 212.90,211.20 213.10,209.30 213.30,207.43 213.50,205.64 213.70,204.02 213.90,202.62 214.10,201.51 214.30,200.71 214.50,200.27 214.70,200.21 214.90,200.52 215.10,201.19 215.30,202.20 215.50,203.50 215.70,205.04 215.90,206.75 216.10,208.58 216.30,210.43 216.50,212.24 216.70,213.93 216.90,215.43 217.10,216.67 217.30,217.60 217.50,218.18 217.70,218.38 217.90,218.18 218.10,217.60 218.30,216.65 218.50,215.37 218.70,213.79 218.90,211.99 219.10,210.02 219.30,207.96 219.50,205.91 219.70,203.92 219.90,202.09 220.10,200.48 220.30,199.15 220.50,198.17 220.70,197.56 220.90,197.36 221.10,197.57 221.30,198.18 221.50,199.16 221.70,200.48 221.90,202.09 222.10,203.91 222.30,205.88 222.50,207.91 222.70,209.91 222.90,211.81 223.10,213.53 223.30,214.99 223.50,216.12 223.70,216.89 223.90,217.25 224.10,217.18 224.30,216.68 224.50,215.77 224.70,214.48 224.90,212.85 225.10,210.94 225.30,208.84 225.50,206.61 225.70,204.34 225.90,202.13 226.10,200.06 226.30,198.21 226.50,196.65 226.70,195.45 226.90,194.65 227.10,194.29 227.30,194.37 227.50,194.90 227.70,195.86 227.90,197.20 228.10,198.88 228.30,200.82 228.50,202.94 228.70,205.15 228.90,207.38 229.10,209.51 229.30,211.47 229.50,213.17 229.70,214.54 229.90,215.52 230.10,216.06 230.30,216.14 230.50,215.75 230.70,214.90 230.90,213.62 231.10,211.96 231.30,209.97 231.50,207.73 231.70,205.33 231.90,202.87 232.10,200.43 232.30,198.11 232.50,196.01 232.70,194.21 232.90,192.77 233.10,191.76 233.30,191.22 233.50,191.17 233.70,191.60 233.90,192.51 234.10,193.86 234.30,195.58 234.50,197.62 234.70,199.89 234.90,202.29 235.10,204.73 235.30,207.11 235.50,209.32 235.70,211.28 235.90,212.91 236.10,214.12 236.30,214.88 236.50,215.14 236.70,214.89 236.90,214.13 237.10,212.89 237.30,211.21 237.50,209.15 237.70,206.80 237.90,204.25 238.10,201.58 238.30,198.91 238.50,196.35 238.70,193.99 238.90,191.92 239.10,190.23 239.30,188.99 239.50,188.24 239.70,188.02 239.90,188.33 240.10,189.17 240.30,190.49 240.50,192.25 240.70,194.37 240.90,196.77 241.10,199.35 241.30,202.00 241.50,204.62 241.70,207.10 241.90,209.33 242.10,211.23 242.30,212.70 242.50,213.69 242.70,214.15 242.90,214.06 243.10,213.41 243.30,212.24 243.50,210.57 243.70,208.47 243.90,206.02 244.10,203.32 244.30,200.47 244.50,197.58 244.70,194.77 244.90,192.15 245.10,189.81 245.30,187.87 245.50,186.38 245.70,185.41 245.90,185.01 246.10,185.18 246.30,185.92 246.50,187.20 246.70,188.96 246.90,191.14 247.10,193.65 247.30,196.39 247.50,199.23 247.70,202.08 247.90,204.80 248.10,207.30 248.30,209.45 248.50,211.19 248.70,212.42 248.90,213.10 249.10,213.19 249.30,212.70 249.50,211.62 249.70,210.01 249.90,207.93 250.10,205.45 250.30,202.67 250.50,199.70 250.70,196.65 250.90,193.65 251.10,190.82 251.30,188.27 251.50,186.09 251.70,184.38 251.90,183.20 252.10,182.60 252.30,182.60 252.50,183.21 252.70,184.39 252.90,186.11 253.10,188.28 253.30,190.83 253.50,193.65 253.70,196.62 253.90,199.62 254.10,202.54 254.30,205.25 254.50,207.63 254.70,209.60 254.90,211.07 255.10,211.97 255.30,212.27 255.50,211.95 255.70,211.02 255.90,209.52 256.10,207.49 256.30,205.02 256.50,202.21 256.70,199.16 256.90,196.00 257.10,192.84 257.30,189.82 257.50,187.06 257.70,184.65 257.90,182.71 258.10,181.30 258.30,180.49 258.50,180.30 258.70,180.75 258.90,181.80 259.10,183.43 259.30,185.56 259.50,188.11 259.70,190.98 259.90,194.05 260.10,197.19 260.30,200.27 260.50,203.18 260.70,205.79 260.90,207.99 261.10,209.69 261.30,210.83 261.50,211.35 261.70,211.24 261.90,210.48 262.10,209.11 262.30,207.19 262.50,204.78 262.70,201.99 262.90,198.91 263.10,195.68 263.30,192.42 263.50,189.26 263.70,186.32 263.90,183.73 264.10,181.58 264.30,179.97 264.50,178.95 264.70,178.56 264.90,178.83 265.10,179.74 265.30,181.24 265.50,183.29 265.70,185.80 265.90,188.67 266.10,191.77 266.30,195.00 266.50,198.20 266.70,201.26 266.90,204.05 267.10,206.46 267.30,208.39 267.50,209.75 267.70,210.50 267.90,210.59 268.10,210.03 268.30,208.83 268.50,207.04 268.70,204.72 268.90,201.98 269.10,198.91 269.30,195.65 269.50,192.31 269.70,189.03 269.90,185.94 270.10,183.16 270.30,180.81 270.50,178.98 270.70,177.74 270.90,177.14 271.10,177.20 271.30,177.93 271.50,179.28 271.70,181.21 271.90,183.64 272.10,186.47 272.30,189.58 272.50,192.85 272.70,196.15 272.90,199.34 273.10,202.29 273.30,204.89 273.50,207.03 273.70,208.61 273.90,209.58 274.10,209.89 274.30,209.53 274.50,208.51 274.70,206.88 274.90,204.69 275.10,202.03 275.30,199.01 275.50,195.74 275.70,192.36 275.90,189.00 276.10,185.80 276.30,182.87 276.50,180.35 276.70,178.32 276.90,176.88 277.10,176.07 277.30,175.93 277.50,176.46 277.70,177.64 277.90,179.43 278.10,181.74 278.30,184.49 278.50,187.57 278.70,190.85 278.90,194.19 279.10,197.47 279.30,200.55 279.50,203.30 279.70,205.62 279.90,207.40 280.10,208.59 280.30,209.12 280.50,208.97 280.70,208.16 280.90,206.71 281.10,204.67 281.30,202.13 281.50,199.19 281.70,195.96 281.90,192.58 282.10,189.18 282.30,185.88 282.50,182.84 282.70,180.15 282.90,177.94 283.10,176.29 283.30,175.27 283.50,174.91 283.70,175.23 283.90,176.22 284.10,177.83 284.30,180.00 284.50,182.64 284.70,185.65 284.90,188.90 285.10,192.27 285.30,195.60 285.50,198.78 285.70,201.67 285.90,204.16 286.10,206.14 286.30,207.53 286.50,208.28 286.70,208.36 286.90,207.75 287.10,206.49 287.30,204.63 287.50,202.24 287.70,199.40 287.90,196.25 288.10,192.89 288.30,189.48 288.50,186.13 288.70,182.99 288.90,180.18 289.10,177.81 289.30,175.98 289.50,174.76 289.70,174.20 289.90,174.31 290.10,175.10 290.30,176.53 290.50,178.54 290.70,181.05 290.90,183.96 291.10,187.14 291.30,190.49 291.50,193.85 291.70,197.09 291.90,200.08 292.10,202.70 292.30,204.85 292.50,206.43 292.70,207.39 292.90,207.69 293.10,207.30 293.30,206.26 293.50,204.59 293.70,202.37 293.90,199.68 294.10,196.63 294.30,193.34 294.50,189.95 294.70,186.59 294.90,183.39 295.10,180.49 295.30,177.99 295.50,176.00 295.70,174.59 295.90,173.82 296.10,173.72 296.30,174.30 296.50,175.52 296.70,177.34 296.90,179.69 297.10,182.47 297.30,185.56 297.50,188.85 297.70,192.20 297.90,195.47 298.10,198.53 298.30,201.27 298.50,203.57 298.70,205.33 298.90,206.49 299.10,207.00 299.30,206.84 299.50,206.02 299.70,204.57 299.90,202.54 300.10,200.03 300.30,197.12 300.50,193.94 300.70,190.61 300.90,187.27 301.10,184.04 301.30,181.07 301.50,178.47 301.70,176.33 301.90,174.75 302.10,173.79 302.30,173.49 302.50,173.85 302.70,174.87 302.90,176.50 303.10,178.67 303.30,181.31 303.50,184.29 303.70,187.51 303.90,190.83 304.10,194.12 304.30,197.25 304.50,200.09 304.70,202.53 304.90,204.47 305.10,205.83 305.30,206.56 305.50,206.62 305.70,206.03 305.90,204.79 306.10,202.96 306.30,200.61 306.50,197.84 306.70,194.76 306.90,191.48 307.10,188.16 307.30,184.90 307.50,181.85 307.70,179.13 307.90,176.85 308.10,175.10 308.30,173.94 308.50,173.42 308.70,173.57 308.90,174.38 309.10,175.81 309.30,177.81 309.50,180.30 309.70,183.17 309.90,186.31 310.10,189.60 310.30,192.90 310.50,196.08 310.70,199.01 310.90,201.58 311.10,203.67 311.30,205.22 311.50,206.15 311.70,206.43 311.90,206.04 312.10,205.01 312.30,203.38 312.50,201.20 312.70,198.57 312.90,195.59 313.10,192.39 313.30,189.08 313.50,185.81 313.70,182.71 313.90,179.89 314.10,177.47 314.30,175.55 314.50,174.21 314.70,173.49 314.90,173.43 315.10,174.02 315.30,175.25 315.50,177.07 315.70,179.39 315.90,182.13 316.10,185.18 316.30,188.41 316.50,191.70 316.70,194.91 316.90,197.91 317.10,200.59 317.30,202.84 317.50,204.56 317.70,205.68 317.90,206.17 318.10,206.01 318.30,205.19 318.50,203.75 318.70,201.76 318.90,199.28 319.10,196.43 319.30,193.30 319.50,190.04 319.70,186.77 319.90,183.62 320.10,180.71 320.30,178.17 320.50,176.09 320.70,174.57 320.90,173.65 321.10,173.37 321.30,173.76 321.50,174.78 321.70,176.41 321.90,178.57 322.10,181.17 322.30,184.13 322.50,187.30 322.70,190.58 322.90,193.82 323.10,196.89 323.30,199.68 323.50,202.07 323.70,203.97 323.90,205.30 324.10,206.00 324.30,206.05 324.50,205.45 324.70,204.21 324.90,202.40 325.10,200.08 325.30,197.34 325.50,194.30 325.70,191.07 325.90,187.80 326.10,184.60 326.30,181.60 326.50,178.94 326.70,176.70 326.90,174.99 327.10,173.87 327.30,173.39 327.50,173.56 327.70,174.38 327.90,175.82 328.10,177.82 328.30,180.29 328.50,183.14 328.70,186.26 328.90,189.52 329.10,192.78 329.30,195.93 329.50,198.82 329.70,201.35 329.90,203.42 330.10,204.94 330.30,205.84 330.50,206.10 330.70,205.71 330.90,204.67 331.10,203.04 331.30,200.87 331.50,198.26 331.70,195.30 331.90,192.12 332.10,188.85 332.30,185.61 332.50,182.54 332.70,179.75 332.90,177.37 333.10,175.48 333.30,174.17 333.50,173.47 333.70,173.44 333.90,174.05 334.10,175.29 334.30,177.12 334.50,179.45 334.70,182.19 334.90,185.24 335.10,188.46 335.30,191.74 335.50,194.94 335.70,197.92 335.90,200.58 336.10,202.81 336.30,204.51 336.50,205.62 336.70,206.09 336.90,205.91 337.10,205.08 337.30,203.63 337.50,201.62 337.70,199.14 337.90,196.29 338.10,193.16 338.30,189.91 338.50,186.64 338.70,183.50 338.90,180.61 339.10,178.09 339.30,176.03 339.50,174.52 339.70,173.63 339.90,173.38 340.10,173.78 340.30,174.83 340.50,176.47 340.70,178.65 340.90,181.27 341.10,184.23 341.30,187.41 341.50,190.69 341.70,193.92 341.90,196.99 342.10,199.77 342.30,202.15 342.50,204.03 342.70,205.33 342.90,206.01 343.10,206.04 343.30,205.41 343.50,204.16 343.70,202.33 343.90,199.99 344.10,197.24 344.30,194.19 344.50,190.96 344.70,187.69 344.90,184.49 345.10,181.51 345.30,178.85 345.50,176.64 345.70,174.94 345.90,173.85 346.10,173.39 346.30,173.58 346.50,174.42 346.70,175.88 346.90,177.89 347.10,180.38 347.30,183.25 347.50,186.37 347.70,189.63 347.90,192.89 348.10,196.03 348.30,198.91 348.50,201.43 348.70,203.48 348.90,204.98 349.10,205.86 349.30,206.10 349.50,205.69 349.70,204.63 349.90,202.98 350.10,200.79 350.30,198.16 350.50,195.20 350.70,192.01 350.90,188.74 351.10,185.50 351.30,182.44 351.50,179.67 351.70,177.30 351.90,175.43 352.10,174.13 352.30,173.46 352.50,173.45 352.70,174.08 352.90,175.35 353.10,177.19 353.30,179.54 353.50,182.29 353.70,185.34 353.90,188.57 354.10,191.85 354.30,195.04 354.50,198.02 354.70,200.67 354.90,202.88 355.10,204.56 355.30,205.65 355.50,206.10 355.70,205.89 355.90,205.04 356.10,203.57 356.30,201.55 356.50,199.05 356.70,196.18 356.90,193.06 357.10,189.80 357.30,186.53 357.50,183.40 357.70,180.52 357.90,178.01 358.10,175.97 358.30,174.48 358.50,173.61 358.70,173.38 358.90,173.81 359.10,174.87 359.30,176.54 359.50,178.73 359.70,181.36 359.90,184.33 360.10,187.52 360.30,190.80 360.50,194.03 360.70,197.09 360.90,199.86 361.10,202.22 361.30,204.08 361.50,205.36 361.70,206.02 361.90,206.03 362.10,205.38 362.30,204.11 362.50,202.25 362.70,199.90 362.90,197.14 363.10,194.08 363.30,190.85 363.50,187.58 363.70,184.39 363.90,181.41 364.10,178.77 364.30,176.57 364.50,174.90 364.70,173.82 364.90,173.38 365.10,173.60 365.30,174.46 365.50,175.94 365.70,177.97 365.90,180.47 366.10,183.35 366.30,186.48 366.50,189.74 366.70,193.00 366.90,196.13 367.10,199.01 367.30,201.51 367.50,203.54 367.70,205.02 367.90,205.88 368.10,206.10 368.30,205.66 368.50,204.58 368.70,202.91 368.90,200.71 369.10,198.07 369.30,195.09 369.50,191.90 369.70,188.63 369.90,185.40 370.10,182.34 370.30,179.58 370.50,177.22 370.70,175.37 370.90,174.10 371.10,173.45 371.30,173.46 371.50,174.12 371.70,175.40 371.90,177.26 372.10,179.62 372.30,182.39 372.50,185.45 372.70,188.68 372.90,191.96 373.10,195.15 373.30,198.12 373.50,200.75 373.70,202.94 373.90,204.61 374.10,205.67 374.30,206.10 374.50,205.87 374.70,205.00 374.90,203.51 375.10,201.47 375.30,198.96 375.50,196.08 375.70,192.95 375.90,189.68 376.10,186.42 376.30,183.30 376.50,180.43 376.70,177.93 376.90,175.91 377.10,174.44 377.30,173.59 377.50,173.38 377.70,173.83 377.90,174.92 378.10,176.60 378.30,178.81 378.50,181.46 378.70,184.44 378.90,187.63 379.10,190.91 379.30,194.14 379.50,197.19 379.70,199.95 379.90,202.29 380.10,204.13 380.30,205.40 380.50,206.03 380.70,206.02 380.90,205.35 381.10,204.05 381.30,202.18 381.50,199.81 381.70,197.04 381.90,193.97 382.10,190.74 382.30,187.46 382.50,184.28 382.70,181.31 382.90,178.69 383.10,176.50 383.30,174.85 383.50,173.79 383.70,173.38 383.90,173.62 384.10,174.50 384.30,176.00 384.50,178.05 384.70,180.57 384.90,183.45 385.10,186.59 385.30,189.85 385.50,193.11 385.70,196.24 385.90,199.10 386.10,201.59 386.30,203.60 386.50,205.06 386.70,205.90 386.90,206.09 387.10,205.63 387.30,204.53 387.50,202.84 387.70,200.62 387.90,197.97 388.10,194.99 388.30,191.79 388.50,188.51 388.70,185.29 388.90,182.24 389.10,179.49 389.30,177.15 389.50,175.32 389.70,174.07 389.90,173.44 390.10,173.47 390.30,174.15 390.50,175.46 390.70,177.33 390.90,179.71 391.10,182.49 391.30,185.56 391.50,188.80 391.70,192.07 391.90,195.25 392.10,198.21 392.30,200.83 392.50,203.01 392.70,204.65 392.90,205.70 393.10,206.10 393.30,205.85 393.50,204.96 393.70,203.45 393.90,201.39 394.10,198.87 394.30,195.98 394.50,192.84 394.70,189.57 394.90,186.31 395.10,183.19 395.30,180.33 395.50,177.85 395.70,175.85 395.90,174.40 396.10,173.57 396.30,173.39 396.50,173.86 396.70,174.97 396.90,176.67 397.10,178.90 397.30,181.56 397.50,184.55 397.70,187.74 397.90,191.02 398.10,194.25 398.30,197.29 398.50,200.03 398.70,202.36 398.90,204.19 399.10,205.43 399.30,206.04 399.50,206.00 399.70,205.31 399.90,204.00 400.10,202.11 400.30,199.72 400.50,196.94 400.70,193.87 400.90,190.63 401.10,187.35 401.30,184.17 401.50,181.22 401.70,178.61 401.90,176.44 402.10,174.80 402.30,173.77 402.50,173.38 402.70,173.64 402.90,174.55 403.10,176.06 403.30,178.13 403.50,180.66 403.70,183.56 403.90,186.70 404.10,189.97 404.30,193.22 404.50,196.34 404.70,199.19 404.90,201.66 405.10,203.66 405.30,205.10 405.50,205.92 405.70,206.09 405.90,205.61 406.10,204.49 406.30,202.77 406.50,200.54 406.70,197.87 406.90,194.88 407.10,191.68 407.30,188.40 407.50,185.18 407.70,182.14 407.90,179.40 408.10,177.08 408.30,175.27 408.50,174.03 408.70,173.43 408.90,173.48 409.10,174.18 409.30,175.51 409.50,177.41 409.70,179.80 409.90,182.59 410.10,185.67 410.30,188.91 410.50,192.18 410.70,195.36 410.90,198.31 411.10,200.92 411.30,203.07 411.50,204.70 411.70,205.72 411.90,206.11 412.10,205.83 412.30,204.91 412.50,203.39 412.70,201.31 412.90,198.77 413.10,195.87 413.30,192.73 413.50,189.46 413.70,186.20 413.90,183.09 414.10,180.24 414.30,177.78 414.50,175.79 414.70,174.36 414.90,173.55 415.10,173.39 415.30,173.89 415.50,175.02 415.70,176.74 415.90,178.98 416.10,181.66 416.30,184.65 416.50,187.85 416.70,191.13 416.90,194.35 417.10,197.39 417.30,200.12 417.50,202.43 417.70,204.24 417.90,205.46 418.10,206.05 418.30,205.99 418.50,205.28 418.70,203.94 418.90,202.03 419.10,199.64 419.30,196.84 419.50,193.76 419.70,190.52 419.90,187.24 420.10,184.07 420.30,181.12 420.50,178.52 420.70,176.37 420.90,174.76 421.10,173.75 421.30,173.37 421.50,173.66 421.70,174.59 421.90,176.12 422.10,178.21 422.30,180.75 422.50,183.66 422.70,186.81 422.90,190.08 423.10,193.33 423.30,196.44 423.50,199.28 423.70,201.74 423.90,203.72 424.10,205.13 424.30,205.93 424.50,206.08 424.70,205.58 424.90,204.44 425.10,202.71 425.30,200.46 425.50,197.78 425.70,194.77 425.90,191.57 426.10,188.29 426.30,185.07 426.50,182.04 426.70,179.32 426.90,177.01 427.10,175.22 427.30,174.00 427.50,173.42 427.70,173.49 427.90,174.22 428.10,175.57 428.30,177.48 428.50,179.89 428.70,182.69 428.90,185.78 429.10,189.02 429.30,192.29 429.50,195.46 429.70,198.40 429.90,201.00 430.10,203.14 430.30,204.74 430.50,205.75 430.70,206.11 430.90,205.81 431.10,204.87 431.30,203.32 431.50,201.23 431.70,198.68 431.90,195.77 432.10,192.62 432.30,189.35 432.50,186.09 432.70,182.99 432.90,180.15 433.10,177.70 433.30,175.73 433.50,174.33 433.70,173.54 433.90,173.40 434.10,173.92 434.30,175.07 434.50,176.81 434.70,179.07 434.90,181.75 435.10,184.76 435.30,187.97 435.50,191.24 435.70,194.46 435.90,197.49 436.10,200.21 436.30,202.50 436.50,204.29 436.70,205.49 436.90,206.06 437.10,205.98 437.30,205.24 437.50,203.89 437.70,201.96 437.90,199.55 438.10,196.74 438.30,193.65 438.50,190.40 438.70,187.13 438.90,183.96 439.10,181.03 439.30,178.44 439.50,176.31 439.70,174.71 439.90,173.72 440.10,173.37 440.30,173.68 440.50,174.63 440.70,176.19 440.90,178.29 441.10,180.85 441.30,183.76 441.50,186.92 441.70,190.19 441.90,193.44 442.10,196.54 442.30,199.37 442.50,201.82 442.70,203.78 442.90,205.17 443.10,205.95 443.30,206.08 443.50,205.55 443.70,204.39 443.90,202.64 444.10,200.37 444.30,197.68 444.50,194.67 444.70,191.46 444.90,188.18 445.10,184.96 445.30,181.94 445.50,179.23 445.70,176.94 445.90,175.16 446.10,173.97 446.30,173.41 446.50,173.51 446.70,174.26 446.90,175.62 447.10,177.56 447.30,179.98 447.50,182.79 447.70,185.89 447.90,189.13 448.10,192.40 448.30,195.57 448.50,198.50 448.70,201.08 448.90,203.20 449.10,204.79 449.30,205.77 449.50,206.11 449.70,205.79 449.90,204.83 450.10,203.26 450.30,201.15 450.50,198.59 450.70,195.66 450.90,192.50 451.10,189.23 451.30,185.99 451.50,182.89 451.70,180.06 451.90,177.63 452.10,175.68 452.30,174.29 452.50,173.52 452.70,173.41 452.90,173.95 453.10,175.12 453.30,176.88 453.50,179.15 453.70,181.85 453.90,184.87 454.10,188.08 454.30,191.36 454.50,194.57 454.70,197.59 454.90,200.29 455.10,202.57 455.30,204.34 455.50,205.52 455.70,206.07 455.90,205.96 456.10,205.21 456.30,203.83 456.50,201.89" stroke="#f00" stroke-width="1.35"/>
<path d="M84.70,227.49 84.90,227.35 85.10,227.22 85.30,227.10 85.50,227.00 85.70,226.92 85.90,226.87 86.10,226.85 86.30,226.85 86.50,226.89 86.70,226.95 86.90,227.03 87.10,227.14 87.30,227.27 87.50,227.41 87.70,227.55 87.90,227.70 88.10,227.84 88.30,227.97 88.50,228.09 88.70,228.18 88.90,228.25 89.10,228.30 89.30,228.31 89.50,228.30 89.70,228.26 89.90,228.19 90.10,228.10 90.30,227.99 90.50,227.86 90.70,227.72 90.90,227.57 91.10,227.43 91.30,227.30 91.50,227.17 91.70,227.07 91.90,226.98 92.10,226.92 92.30,226.89 92.50,226.89 92.70,226.91 92.90,226.97 93.10,227.05 93.30,227.15 93.50,227.28 93.70,227.41 93.90,227.56 94.10,227.71 94.30,227.85 94.50,227.99 94.70,228.12 94.90,228.22 95.10,228.30 95.30,228.36 95.50,228.39 95.70,228.39 95.90,228.36 96.10,228.30 96.30,228.22 96.50,228.11 96.70,227.99 96.90,227.86 97.10,227.71 97.30,227.57 97.50,227.43 97.70,227.30 97.90,227.19 98.10,227.10 98.30,227.03 98.50,226.99 98.70,226.98 98.90,227.00 99.10,227.05 99.30,227.13 99.50,227.23 99.70,227.36 99.90,227.50 100.10,227.65 100.30,227.80 100.50,227.96 100.70,228.11 100.90,228.24 101.10,228.36 101.30,228.46 101.50,228.53 101.70,228.57 101.90,228.58 102.10,228.56 102.30,228.51 102.50,228.44 102.70,228.34 102.90,228.21 103.10,228.08 103.30,227.93 103.50,227.78 103.70,227.64 103.90,227.50 104.10,227.38 104.30,227.28 104.50,227.20 104.70,227.15 104.90,227.13 105.10,227.14 105.30,227.18 105.50,227.26 105.70,227.36 105.90,227.48 106.10,227.62 106.30,227.78 106.50,227.95 106.70,228.12 106.90,228.28 107.10,228.43 107.30,228.56 107.50,228.68 107.70,228.76 107.90,228.82 108.10,228.85 108.30,228.84 108.50,228.80 108.70,228.73 108.90,228.64 109.10,228.52 109.30,228.39 109.50,228.24 109.70,228.09 109.90,227.93 110.10,227.79 110.30,227.65 110.50,227.54 110.70,227.45 110.90,227.39 111.10,227.37 111.30,227.37 111.50,227.41 111.70,227.48 111.90,227.58 112.10,227.71 112.30,227.86 112.50,228.03 112.70,228.20 112.90,228.39 113.10,228.57 113.30,228.74 113.50,228.89 113.70,229.02 113.90,229.12 114.10,229.20 114.30,229.24 114.50,229.25 114.70,229.22 114.90,229.15 115.10,229.06 115.30,228.94 115.50,228.80 115.70,228.65 115.90,228.48 116.10,228.32 116.30,228.16 116.50,228.01 116.70,227.88 116.90,227.78 117.10,227.70 117.30,227.66 117.50,227.65 117.70,227.68 117.90,227.75 118.10,227.85 118.30,227.98 118.50,228.13 118.70,228.31 118.90,228.50 119.10,228.69 119.30,228.89 119.50,229.08 119.70,229.25 119.90,229.41 120.10,229.53 120.30,229.63 120.50,229.68 120.70,229.71 120.90,229.69 121.10,229.64 121.30,229.55 121.50,229.43 121.70,229.28 121.90,229.12 122.10,228.94 122.30,228.76 122.50,228.58 122.70,228.41 122.90,228.26 123.10,228.14 123.30,228.04 123.50,227.98 123.70,227.96 123.90,227.98 124.10,228.04 124.30,228.14 124.50,228.28 124.70,228.45 124.90,228.64 125.10,228.85 125.30,229.07 125.50,229.29 125.70,229.51 125.90,229.72 126.10,229.90 126.30,230.05 126.50,230.17 126.70,230.25 126.90,230.29 127.10,230.28 127.30,230.23 127.50,230.15 127.70,230.02 127.90,229.86 128.10,229.68 128.30,229.48 128.50,229.28 128.70,229.07 128.90,228.87 129.10,228.69 129.30,228.54 129.50,228.42 129.70,228.34 129.90,228.30 130.10,228.31 130.30,228.36 130.50,228.45 130.70,228.59 130.90,228.77 131.10,228.98 131.30,229.21 131.50,229.46 131.70,229.71 131.90,229.96 132.10,230.20 132.30,230.42 132.50,230.61 132.70,230.76 132.90,230.87 133.10,230.93 133.30,230.95 133.50,230.91 133.70,230.82 133.90,230.69 134.10,230.52 134.30,230.32 134.50,230.09 134.70,229.85 134.90,229.60 135.10,229.36 135.30,229.13 135.50,228.93 135.70,228.77 135.90,228.65 136.10,228.58 136.30,228.56 136.50,228.60 136.70,228.70 136.90,228.85 137.10,229.05 137.30,229.29 137.50,229.57 137.70,229.88 137.90,230.19 138.10,230.51 138.30,230.82 138.50,231.11 138.70,231.36 138.90,231.57 139.10,231.73 139.30,231.83 139.50,231.87 139.70,231.84 139.90,231.75 140.10,231.60 140.30,231.39 140.50,231.14 140.70,230.85 140.90,230.54 141.10,230.22 141.30,229.90 141.50,229.59 141.70,229.32 141.90,229.09 142.10,228.91 142.30,228.80 142.50,228.75 142.70,228.78 142.90,228.88 143.10,229.04 143.30,229.28 143.50,229.57 143.70,229.91 143.90,230.28 144.10,230.67 144.30,231.07 144.50,231.46 144.70,231.83 144.90,232.16 145.10,232.44 145.30,232.65 145.50,232.79 145.70,232.85 145.90,232.84 146.10,232.74 146.30,232.57 146.50,232.32 146.70,232.02 146.90,231.67 147.10,231.29 147.30,230.89 147.50,230.49 147.70,230.10 147.90,229.75 148.10,229.45 148.30,229.20 148.50,229.04 148.70,228.95 148.90,228.95 149.10,229.04 149.30,229.22 149.50,229.47 149.70,229.80 149.90,230.20 150.10,230.63 150.30,231.10 150.50,231.58 150.70,232.06 150.90,232.51 151.10,232.91 151.30,233.26 151.50,233.54 151.70,233.73 151.90,233.83 152.10,233.84 152.30,233.74 152.50,233.56 152.70,233.29 152.90,232.94 153.10,232.54 153.30,232.09 153.50,231.61 153.70,231.13 153.90,230.66 154.10,230.22 154.30,229.84 154.50,229.53 154.70,229.30 154.90,229.16 155.10,229.13 155.30,229.20 155.50,229.37 155.70,229.65 155.90,230.01 156.10,230.44 156.30,230.94 156.50,231.48 156.70,232.04 156.90,232.60 157.10,233.14 157.30,233.63 157.50,234.06 157.70,234.41 157.90,234.67 158.10,234.82 158.30,234.86 158.50,234.78 158.70,234.60 158.90,234.32 159.10,233.94 159.30,233.49 159.50,232.98 159.70,232.43 159.90,231.87 160.10,231.32 160.30,230.80 160.50,230.33 160.70,229.95 160.90,229.65 161.10,229.46 161.30,229.38 161.50,229.43 161.70,229.60 161.90,229.89 162.10,230.28 162.30,230.77 162.50,231.33 162.70,231.95 162.90,232.60 163.10,233.26 163.30,233.90 163.50,234.50 163.70,235.03 163.90,235.48 164.10,235.82 164.30,236.04 164.50,236.13 164.70,236.09 164.90,235.92 165.10,235.63 165.30,235.23 165.50,234.73 165.70,234.16 165.90,233.54 166.10,232.89 166.30,232.24 166.50,231.63 166.70,231.07 166.90,230.58 167.10,230.20 167.30,229.94 167.50,229.81 167.70,229.82 167.90,229.98 168.10,230.27 168.30,230.68 168.50,231.21 168.70,231.84 168.90,232.54 169.10,233.28 169.30,234.04 169.50,234.78 169.70,235.49 169.90,236.12 170.10,236.66 170.30,237.09 170.50,237.38 170.70,237.53 170.90,237.53 171.10,237.38 171.30,237.08 171.50,236.65 171.70,236.11 171.90,235.47 172.10,234.77 172.30,234.03 172.50,233.28 172.70,232.56 172.90,231.89 173.10,231.30 173.30,230.83 173.50,230.48 173.70,230.28 173.90,230.24 174.10,230.36 174.30,230.64 174.50,231.06 174.70,231.63 174.90,232.30 175.10,233.07 175.30,233.89 175.50,234.75 175.70,235.60 175.90,236.41 176.10,237.16 176.30,237.80 176.50,238.32 176.70,238.70 176.90,238.91 177.10,238.96 177.30,238.84 177.50,238.55 177.70,238.10 177.90,237.52 178.10,236.83 178.30,236.06 178.50,235.23 178.70,234.38 178.90,233.55 179.10,232.77 179.30,232.08 179.50,231.50 179.70,231.06 179.90,230.78 180.10,230.67 180.30,230.75 180.50,231.00 180.70,231.43 180.90,232.01 181.10,232.73 181.30,233.56 181.50,234.46 181.70,235.41 181.90,236.37 182.10,237.30 182.30,238.15 182.50,238.91 182.70,239.54 182.90,240.01 183.10,240.31 183.30,240.43 183.50,240.35 183.70,240.08 183.90,239.64 184.10,239.04 184.30,238.30 184.50,237.45 184.70,236.54 184.90,235.59 185.10,234.65 185.30,233.75 185.50,232.94 185.70,232.24 185.90,231.69 186.10,231.32 186.30,231.13 186.50,231.15 186.70,231.37 186.90,231.78 187.10,232.39 187.30,233.15 187.50,234.05 187.70,235.06 187.90,236.13 188.10,237.22 188.30,238.29 188.50,239.30 188.70,240.21 188.90,240.99 189.10,241.59 189.30,242.01 189.50,242.22 189.70,242.21 189.90,241.98 190.10,241.55 190.30,240.92 190.50,240.12 190.70,239.20 190.90,238.17 191.10,237.09 191.30,236.00 191.50,234.95 191.70,233.98 191.90,233.12 192.10,232.43 192.30,231.93 192.50,231.64 192.70,231.58 192.90,231.76 193.10,232.17 193.30,232.80 193.50,233.62 193.70,234.62 193.90,235.74 194.10,236.96 194.30,238.22 194.50,239.47 194.70,240.67 194.90,241.77 195.10,242.72 195.30,243.49 195.50,244.05 195.70,244.38 195.90,244.45 196.10,244.27 196.30,243.84 196.50,243.19 196.70,242.33 196.90,241.31 197.10,240.15 197.30,238.92 197.50,237.66 197.70,236.42 197.90,235.26 198.10,234.23 198.30,233.36 198.50,232.71 198.70,232.29 198.90,232.14 199.10,232.27 199.30,232.66 199.50,233.32 199.70,234.22 199.90,235.33 200.10,236.61 200.30,238.01 200.50,239.49 200.70,240.97 200.90,242.42 201.10,243.76 201.30,244.95 201.50,245.95 201.70,246.70 201.90,247.18 202.10,247.37 202.30,247.26 202.50,246.86 202.70,246.18 202.90,245.25 203.10,244.10 203.30,242.79 203.50,241.36 203.70,239.88 203.90,238.41 204.10,237.01 204.30,235.74 204.50,234.65 204.70,233.80 204.90,233.22 205.10,232.94 205.30,232.98 205.50,233.35 205.70,234.02 205.90,234.99 206.10,236.21 206.30,237.65 206.50,239.24 206.70,240.93 206.90,242.65 207.10,244.33 207.30,245.92 207.50,247.34 207.70,248.55 207.90,249.49 208.10,250.12 208.30,250.42 208.50,250.38 208.70,250.01 208.90,249.30 209.10,248.30 209.30,247.05 209.50,245.59 209.70,243.99 209.90,242.31 210.10,240.63 210.30,239.01 210.50,237.51 210.70,236.22 210.90,235.17 211.10,234.42 211.30,234.00 211.50,233.94 211.70,234.23 211.90,234.88 212.10,235.86 212.30,237.13 212.50,238.65 212.70,240.36 212.90,242.20 213.10,244.10 213.30,245.97 213.50,247.76 213.70,249.38 213.90,250.78 214.10,251.89 214.30,252.69 214.50,253.13 214.70,253.19 214.90,252.88 215.10,252.21 215.30,251.20 215.50,249.90 215.70,248.36 215.90,246.65 216.10,244.82 216.30,242.97 216.50,241.16 216.70,239.47 216.90,237.97 217.10,236.73 217.30,235.80 217.50,235.22 217.70,235.02 217.90,235.22 218.10,235.80 218.30,236.75 218.50,238.03 218.70,239.61 218.90,241.41 219.10,243.38 219.30,245.44 219.50,247.49 219.70,249.48 219.90,251.31 220.10,252.92 220.30,254.25 220.50,255.23 220.70,255.84 220.90,256.04 221.10,255.83 221.30,255.22 221.50,254.24 221.70,252.92 221.90,251.31 222.10,249.49 222.30,247.52 222.50,245.49 222.70,243.49 222.90,241.59 223.10,239.87 223.30,238.41 223.50,237.28 223.70,236.51 223.90,236.15 224.10,236.22 224.30,236.72 224.50,237.63 224.70,238.92 224.90,240.55 225.10,242.46 225.30,244.56 225.50,246.79 225.70,249.06 225.90,251.27 226.10,253.34 226.30,255.19 226.50,256.75 226.70,257.95 226.90,258.75 227.10,259.11 227.30,259.03 227.50,258.50 227.70,257.54 227.90,256.20 228.10,254.52 228.30,252.58 228.50,250.46 228.70,248.25 228.90,246.02 229.10,243.89 229.30,241.93 229.50,240.23 229.70,238.86 229.90,237.88 230.10,237.34 230.30,237.26 230.50,237.65 230.70,238.50 230.90,239.78 231.10,241.44 231.30,243.43 231.50,245.67 231.70,248.07 231.90,250.53 232.10,252.97 232.30,255.29 232.50,257.39 232.70,259.19 232.90,260.63 233.10,261.64 233.30,262.18 233.50,262.23 233.70,261.80 233.90,260.89 234.10,259.54 234.30,257.82 234.50,255.78 234.70,253.51 234.90,251.11 235.10,248.67 235.30,246.29 235.50,244.08 235.70,242.12 235.90,240.49 236.10,239.28 236.30,238.52 236.50,238.26 236.70,238.51 236.90,239.27 237.10,240.51 237.30,242.19 237.50,244.25 237.70,246.60 237.90,249.15 238.10,251.82 238.30,254.49 238.50,257.05 238.70,259.41 238.90,261.48 239.10,263.17 239.30,264.41 239.50,265.16 239.70,265.38 239.90,265.07 240.10,264.23 240.30,262.91 240.50,261.15 240.70,259.03 240.90,256.63 241.10,254.05 241.30,251.40 241.50,248.78 241.70,246.30 241.90,244.07 242.10,242.17 242.30,240.70 242.50,239.71 242.70,239.25 242.90,239.34 243.10,239.99 243.30,241.16 243.50,242.83 243.70,244.93 243.90,247.38 244.10,250.08 244.30,252.93 244.50,255.82 244.70,258.63 244.90,261.25 245.10,263.59 245.30,265.53 245.50,267.02 245.70,267.99 245.90,268.39 246.10,268.22 246.30,267.48 246.50,266.20 246.70,264.44 246.90,262.26 247.10,259.75 247.30,257.01 247.50,254.17 247.70,251.32 247.90,248.60 248.10,246.10 248.30,243.95 248.50,242.21 248.70,240.98 248.90,240.30 249.10,240.21 249.30,240.70 249.50,241.78 249.70,243.39 249.90,245.47 250.10,247.95 250.30,250.73 250.50,253.70 250.70,256.75 250.90,259.75 251.10,262.58 251.30,265.13 251.50,267.31 251.70,269.02 251.90,270.20 252.10,270.80 252.30,270.80 252.50,270.19 252.70,269.01 252.90,267.29 253.10,265.12 253.30,262.57 253.50,259.75 253.70,256.78 253.90,253.78 254.10,250.86 254.30,248.15 254.50,245.77 254.70,243.80 254.90,242.33 255.10,241.43 255.30,241.13 255.50,241.45 255.70,242.38 255.90,243.88 256.10,245.91 256.30,248.38 256.50,251.19 256.70,254.24 256.90,257.40 257.10,260.56 257.30,263.58 257.50,266.34 257.70,268.75 257.90,270.69 258.10,272.10 258.30,272.91 258.50,273.10 258.70,272.65 258.90,271.60 259.10,269.97 259.30,267.84 259.50,265.29 259.70,262.42 259.90,259.35 260.10,256.21 260.30,253.13 260.50,250.22 260.70,247.61 260.90,245.41 261.10,243.71 261.30,242.57 261.50,242.05 261.70,242.16 261.90,242.92 262.10,244.29 262.30,246.21 262.50,248.62 262.70,251.41 262.90,254.49 263.10,257.72 263.30,260.98 263.50,264.14 263.70,267.08 263.90,269.67 264.10,271.82 264.30,273.43 264.50,274.45 264.70,274.84 264.90,274.57 265.10,273.66 265.30,272.16 265.50,270.11 265.70,267.60 265.90,264.73 266.10,261.63 266.30,258.40 266.50,255.20 266.70,252.14 266.90,249.35 267.10,246.94 267.30,245.01 267.50,243.65 267.70,242.90 267.90,242.81 268.10,243.37 268.30,244.57 268.50,246.36 268.70,248.68 268.90,251.42 269.10,254.49 269.30,257.75 269.50,261.09 269.70,264.37 269.90,267.46 270.10,270.24 270.30,272.59 270.50,274.42 270.70,275.66 270.90,276.26 271.10,276.20 271.30,275.47 271.50,274.12 271.70,272.19 271.90,269.76 272.10,266.93 272.30,263.82 272.50,260.55 272.70,257.25 272.90,254.06 273.10,251.11 273.30,248.51 273.50,246.37 273.70,244.79 273.90,243.82 274.10,243.51 274.30,243.87 274.50,244.89 274.70,246.52 274.90,248.71 275.10,251.37 275.30,254.39 275.50,257.66 275.70,261.04 275.90,264.40 276.10,267.60 276.30,270.53 276.50,273.05 276.70,275.08 276.90,276.52 277.10,277.33 277.30,277.47 277.50,276.94 277.70,275.76 277.90,273.97 278.10,271.66 278.30,268.91 278.50,265.83 278.70,262.55 278.90,259.21 279.10,255.93 279.30,252.85 279.50,250.10 279.70,247.78 279.90,246.00 280.10,244.81 280.30,244.28 280.50,244.43 280.70,245.24 280.90,246.69 281.10,248.73 281.30,251.27 281.50,254.21 281.70,257.44 281.90,260.82 282.10,264.22 282.30,267.52 282.50,270.56 282.70,273.25 282.90,275.46 283.10,277.11 283.30,278.13 283.50,278.49 283.70,278.17 283.90,277.18 284.10,275.57 284.30,273.40 284.50,270.76 284.70,267.75 284.90,264.50 285.10,261.13 285.30,257.80 285.50,254.62 285.70,251.73 285.90,249.24 286.10,247.26 286.30,245.87 286.50,245.12 286.70,245.04 286.90,245.65 287.10,246.91 287.30,248.77 287.50,251.16 287.70,254.00 287.90,257.15 288.10,260.51 288.30,263.92 288.50,267.27 288.70,270.41 288.90,273.22 289.10,275.59 289.30,277.42 289.50,278.64 289.70,279.20 289.90,279.09 290.10,278.30 290.30,276.87 290.50,274.86 290.70,272.35 290.90,269.44 291.10,266.26 291.30,262.91 291.50,259.55 291.70,256.31 291.90,253.32 292.10,250.70 292.30,248.55 292.50,246.97 292.70,246.01 292.90,245.71 293.10,246.10 293.30,247.14 293.50,248.81 293.70,251.03 293.90,253.72 294.10,256.77 294.30,260.06 294.50,263.45 294.70,266.81 294.90,270.01 295.10,272.91 295.30,275.41 295.50,277.40 295.70,278.81 295.90,279.58 296.10,279.68 296.30,279.10 296.50,277.88 296.70,276.06 296.90,273.71 297.10,270.93 297.30,267.84 297.50,264.55 297.70,261.20 297.90,257.93 298.10,254.87 298.30,252.13 298.50,249.83 298.70,248.07 298.90,246.91 299.10,246.40 299.30,246.56 299.50,247.38 299.70,248.83 299.90,250.86 300.10,253.37 300.30,256.28 300.50,259.46 300.70,262.79 300.90,266.13 301.10,269.36 301.30,272.33 301.50,274.93 301.70,277.07 301.90,278.65 302.10,279.61 302.30,279.91 302.50,279.55 302.70,278.53 302.90,276.90 303.10,274.73 303.30,272.09 303.50,269.11 303.70,265.89 303.90,262.57 304.10,259.28 304.30,256.15 304.50,253.31 304.70,250.87 304.90,248.93 305.10,247.57 305.30,246.84 305.50,246.78 305.70,247.37 305.90,248.61 306.10,250.44 306.30,252.79 306.50,255.56 306.70,258.64 306.90,261.92 307.10,265.24 307.30,268.50 307.50,271.55 307.70,274.27 307.90,276.55 308.10,278.30 308.30,279.46 308.50,279.98 308.70,279.83 308.90,279.02 309.10,277.59 309.30,275.59 309.50,273.10 309.70,270.23 309.90,267.09 310.10,263.80 310.30,260.50 310.50,257.32 310.70,254.39 310.90,251.82 311.10,249.73 311.30,248.18 311.50,247.25 311.70,246.97 311.90,247.36 312.10,248.39 312.30,250.02 312.50,252.20 312.70,254.83 312.90,257.81 313.10,261.01 313.30,264.32 313.50,267.59 313.70,270.69 313.90,273.51 314.10,275.93 314.30,277.85 314.50,279.19 314.70,279.91 314.90,279.97 315.10,279.38 315.30,278.15 315.50,276.33 315.70,274.01 315.90,271.27 316.10,268.22 316.30,264.99 316.50,261.70 316.70,258.49 316.90,255.49 317.10,252.81 317.30,250.56 317.50,248.84 317.70,247.72 317.90,247.23 318.10,247.39 318.30,248.21 318.50,249.65 318.70,251.64 318.90,254.12 319.10,256.97 319.30,260.10 319.50,263.36 319.70,266.63 319.90,269.78 320.10,272.69 320.30,275.23 320.50,277.31 320.70,278.83 320.90,279.75 321.10,280.03 321.30,279.64 321.50,278.62 321.70,276.99 321.90,274.83 322.10,272.23 322.30,269.27 322.50,266.10 322.70,262.82 322.90,259.58 323.10,256.51 323.30,253.72 323.50,251.33 323.70,249.43 323.90,248.10 324.10,247.40 324.30,247.35 324.50,247.95 324.70,249.19 324.90,251.00 325.10,253.32 325.30,256.06 325.50,259.10 325.70,262.33 325.90,265.60 326.10,268.80 326.30,271.80 326.50,274.46 326.70,276.70 326.90,278.41 327.10,279.53 327.30,280.01 327.50,279.84 327.70,279.02 327.90,277.58 328.10,275.58 328.30,273.11 328.50,270.26 328.70,267.14 328.90,263.88 329.10,260.62 329.30,257.47 329.50,254.58 329.70,252.05 329.90,249.98 330.10,248.46 330.30,247.56 330.50,247.30 330.70,247.69 330.90,248.73 331.10,250.36 331.30,252.53 331.50,255.14 331.70,258.10 331.90,261.28 332.10,264.55 332.30,267.79 332.50,270.86 332.70,273.65 332.90,276.03 333.10,277.92 333.30,279.23 333.50,279.93 333.70,279.96 333.90,279.35 334.10,278.11 334.30,276.28 334.50,273.95 334.70,271.21 334.90,268.16 335.10,264.94 335.30,261.66 335.50,258.46 335.70,255.48 335.90,252.82 336.10,250.59 336.30,248.89 336.50,247.78 336.70,247.31 336.90,247.49 337.10,248.32 337.30,249.77 337.50,251.78 337.70,254.26 337.90,257.11 338.10,260.24 338.30,263.49 338.50,266.76 338.70,269.90 338.90,272.79 339.10,275.31 339.30,277.37 339.50,278.88 339.70,279.77 339.90,280.02 340.10,279.62 340.30,278.57 340.50,276.93 340.70,274.75 340.90,272.13 341.10,269.17 341.30,265.99 341.50,262.71 341.70,259.48 341.90,256.41 342.10,253.63 342.30,251.25 342.50,249.37 342.70,248.07 342.90,247.39 343.10,247.36 343.30,247.99 343.50,249.24 343.70,251.07 343.90,253.41 344.10,256.16 344.30,259.21 344.50,262.44 344.70,265.71 344.90,268.91 345.10,271.89 345.30,274.55 345.50,276.76 345.70,278.46 345.90,279.55 346.10,280.01 346.30,279.82 346.50,278.98 346.70,277.52 346.90,275.51 347.10,273.02 347.30,270.15 347.50,267.03 347.70,263.77 347.90,260.51 348.10,257.37 348.30,254.49 348.50,251.97 348.70,249.92 348.90,248.42 349.10,247.54 349.30,247.30 349.50,247.71 349.70,248.77 349.90,250.42 350.10,252.61 350.30,255.24 350.50,258.20 350.70,261.39 350.90,264.66 351.10,267.90 351.30,270.96 351.50,273.73 351.70,276.10 351.90,277.97 352.10,279.27 352.30,279.94 352.50,279.95 352.70,279.32 352.90,278.05 353.10,276.21 353.30,273.86 353.50,271.11 353.70,268.06 353.90,264.83 354.10,261.55 354.30,258.36 354.50,255.38 354.70,252.73 354.90,250.52 355.10,248.84 355.30,247.75 355.50,247.30 355.70,247.51 355.90,248.36 356.10,249.83 356.30,251.85 356.50,254.35 356.70,257.22 356.90,260.34 357.10,263.60 357.30,266.87 357.50,270.00 357.70,272.88 357.90,275.39 358.10,277.43 358.30,278.92 358.50,279.79 358.70,280.02 358.90,279.59 359.10,278.53 359.30,276.86 359.50,274.67 359.70,272.04 359.90,269.07 360.10,265.88 360.30,262.60 360.50,259.37 360.70,256.31 360.90,253.54 361.10,251.18 361.30,249.32 361.50,248.04 361.70,247.38 361.90,247.37 362.10,248.02 362.30,249.29 362.50,251.15 362.70,253.50 362.90,256.26 363.10,259.32 363.30,262.55 363.50,265.82 363.70,269.01 363.90,271.99 364.10,274.63 364.30,276.83 364.50,278.50 364.70,279.58 364.90,280.02 365.10,279.80 365.30,278.94 365.50,277.46 365.70,275.43 365.90,272.93 366.10,270.05 366.30,266.92 366.50,263.66 366.70,260.40 366.90,257.27 367.10,254.39 367.30,251.89 367.50,249.86 367.70,248.38 367.90,247.52 368.10,247.30 368.30,247.74 368.50,248.82 368.70,250.49 368.90,252.69 369.10,255.33 369.30,258.31 369.50,261.50 369.70,264.77 369.90,268.00 370.10,271.06 370.30,273.82 370.50,276.18 370.70,278.03 370.90,279.30 371.10,279.95 371.30,279.94 371.50,279.28 371.70,278.00 371.90,276.14 372.10,273.78 372.30,271.01 372.50,267.95 372.70,264.72 372.90,261.44 373.10,258.25 373.30,255.28 373.50,252.65 373.70,250.46 373.90,248.79 374.10,247.73 374.30,247.30 374.50,247.53 374.70,248.40 374.90,249.89 375.10,251.93 375.30,254.44 375.50,257.32 375.70,260.45 375.90,263.72 376.10,266.98 376.30,270.10 376.50,272.97 376.70,275.47 376.90,277.49 377.10,278.96 377.30,279.81 377.50,280.02 377.70,279.57 377.90,278.48 378.10,276.80 378.30,274.59 378.50,271.94 378.70,268.96 378.90,265.77 379.10,262.49 379.30,259.26 379.50,256.21 379.70,253.45 379.90,251.11 380.10,249.27 380.30,248.00 380.50,247.37 380.70,247.38 380.90,248.05 381.10,249.35 381.30,251.22 381.50,253.59 381.70,256.36 381.90,259.43 382.10,262.66 382.30,265.94 382.50,269.12 382.70,272.09 382.90,274.71 383.10,276.90 383.30,278.55 383.50,279.61 383.70,280.02 383.90,279.78 384.10,278.90 384.30,277.40 384.50,275.35 384.70,272.83 384.90,269.95 385.10,266.81 385.30,263.55 385.50,260.29 385.70,257.16 385.90,254.30 386.10,251.81 386.30,249.80 386.50,248.34 386.70,247.50 386.90,247.31 387.10,247.77 387.30,248.87 387.50,250.56 387.70,252.78 387.90,255.43 388.10,258.41 388.30,261.61 388.50,264.89 388.70,268.11 388.90,271.16 389.10,273.91 389.30,276.25 389.50,278.08 389.70,279.33 389.90,279.96 390.10,279.93 390.30,279.25 390.50,277.94 390.70,276.07 390.90,273.69 391.10,270.91 391.30,267.84 391.50,264.60 391.70,261.33 391.90,258.15 392.10,255.19 392.30,252.57 392.50,250.39 392.70,248.75 392.90,247.70 393.10,247.30 393.30,247.55 393.50,248.44 393.70,249.95 393.90,252.01 394.10,254.53 394.30,257.42 394.50,260.56 394.70,263.83 394.90,267.09 395.10,270.21 395.30,273.07 395.50,275.55 395.70,277.55 395.90,279.00 396.10,279.83 396.30,280.01 396.50,279.54 396.70,278.43 396.90,276.73 397.10,274.50 397.30,271.84 397.50,268.85 397.70,265.66 397.90,262.38 398.10,259.15 398.30,256.11 398.50,253.37 398.70,251.04 398.90,249.21 399.10,247.97 399.30,247.36 399.50,247.40 399.70,248.09 399.90,249.40 400.10,251.29 400.30,253.68 400.50,256.46 400.70,259.53 400.90,262.77 401.10,266.05 401.30,269.23 401.50,272.18 401.70,274.79 401.90,276.96 402.10,278.60 402.30,279.63 402.50,280.02 402.70,279.76 402.90,278.85 403.10,277.34 403.30,275.27 403.50,272.74 403.70,269.84 403.90,266.70 404.10,263.43 404.30,260.18 404.50,257.06 404.70,254.21 404.90,251.74 405.10,249.74 405.30,248.30 405.50,247.48 405.70,247.31 405.90,247.79 406.10,248.91 406.30,250.63 406.50,252.86 406.70,255.53 406.90,258.52 407.10,261.72 407.30,265.00 407.50,268.22 407.70,271.26 407.90,274.00 408.10,276.32 408.30,278.13 408.50,279.37 408.70,279.97 408.90,279.92 409.10,279.22 409.30,277.89 409.50,275.99 409.70,273.60 409.90,270.81 410.10,267.73 410.30,264.49 410.50,261.22 410.70,258.04 410.90,255.09 411.10,252.48 411.30,250.33 411.50,248.70 411.70,247.68 411.90,247.29 412.10,247.57 412.30,248.49 412.50,250.01 412.70,252.09 412.90,254.63 413.10,257.53 413.30,260.67 413.50,263.94 413.70,267.20 413.90,270.31 414.10,273.16 414.30,275.62 414.50,277.61 414.70,279.04 414.90,279.85 415.10,280.01 415.30,279.51 415.50,278.38 415.70,276.66 415.90,274.42 416.10,271.74 416.30,268.75 416.50,265.55 416.70,262.27 416.90,259.05 417.10,256.01 417.30,253.28 417.50,250.97 417.70,249.16 417.90,247.94 418.10,247.35 418.30,247.41 418.50,248.12 418.70,249.46 418.90,251.37 419.10,253.76 419.30,256.56 419.50,259.64 419.70,262.88 419.90,266.16 420.10,269.33 420.30,272.28 420.50,274.88 420.70,277.03 420.90,278.64 421.10,279.65 421.30,280.03 421.50,279.74 421.70,278.81 421.90,277.28 422.10,275.19 422.30,272.65 422.50,269.74 422.70,266.59 422.90,263.32 423.10,260.07 423.30,256.96 423.50,254.12 423.70,251.66 423.90,249.68 424.10,248.27 424.30,247.47 424.50,247.32 424.70,247.82 424.90,248.96 425.10,250.69 425.30,252.94 425.50,255.62 425.70,258.63 425.90,261.83 426.10,265.11 426.30,268.33 426.50,271.36 426.70,274.08 426.90,276.39 427.10,278.18 427.30,279.40 427.50,279.98 427.70,279.91 427.90,279.18 428.10,277.83 428.30,275.92 428.50,273.51 428.70,270.71 428.90,267.62 429.10,264.38 429.30,261.11 429.50,257.94 429.70,255.00 429.90,252.40 430.10,250.26 430.30,248.66 430.50,247.65 430.70,247.29 430.90,247.59 431.10,248.53 431.30,250.08 431.50,252.17 431.70,254.72 431.90,257.63 432.10,260.78 432.30,264.05 432.50,267.31 432.70,270.41 432.90,273.25 433.10,275.70 433.30,277.67 433.50,279.07 433.70,279.86 433.90,280.00 434.10,279.48 434.30,278.33 434.50,276.59 434.70,274.33 434.90,271.65 435.10,268.64 435.30,265.43 435.50,262.16 435.70,258.94 435.90,255.91 436.10,253.19 436.30,250.90 436.50,249.11 436.70,247.91 436.90,247.34 437.10,247.42 437.30,248.16 437.50,249.51 437.70,251.44 437.90,253.85 438.10,256.66 438.30,259.75 438.50,263.00 438.70,266.27 438.90,269.44 439.10,272.37 439.30,274.96 439.50,277.09 439.70,278.69 439.90,279.68 440.10,280.03 440.30,279.72 440.50,278.77 440.70,277.21 440.90,275.11 441.10,272.55 441.30,269.64 441.50,266.48 441.70,263.21 441.90,259.96 442.10,256.86 442.30,254.03 442.50,251.58 442.70,249.62 442.90,248.23 443.10,247.45 443.30,247.32 443.50,247.85 443.70,249.01 443.90,250.76 444.10,253.03 444.30,255.72 444.50,258.73 444.70,261.94 444.90,265.22 445.10,268.44 445.30,271.46 445.50,274.17 445.70,276.46 445.90,278.24 446.10,279.43 446.30,279.99 446.50,279.89 446.70,279.14 446.90,277.78 447.10,275.84 447.30,273.42 447.50,270.61 447.70,267.51 447.90,264.27 448.10,261.00 448.30,257.83 448.50,254.90 448.70,252.32 448.90,250.20 449.10,248.61 449.30,247.63 449.50,247.29 449.70,247.61 449.90,248.57 450.10,250.14 450.30,252.25 450.50,254.81 450.70,257.74 450.90,260.90 451.10,264.17 451.30,267.41 451.50,270.51 451.70,273.34 451.90,275.77 452.10,277.72 452.30,279.11 452.50,279.88 452.70,279.99 452.90,279.45 453.10,278.28 453.30,276.52 453.50,274.25 453.70,271.55 453.90,268.53 454.10,265.32 454.30,262.04 454.50,258.83 454.70,255.81 454.90,253.11 455.10,250.83 455.30,249.06 455.50,247.88 455.70,247.33 455.90,247.44 456.10,248.19 456.30,249.57 456.50,251.51" stroke="#0f0" stroke-width="1.25"/>
<path d="M79.80,380.92 79.95,383.39 80.10,386.33 80.25,389.46 80.40,392.45 80.55,394.94 80.70,396.60 80.86,396.07 81.01,394.10 81.16,391.43 81.31,388.30 81.46,384.99 81.61,381.84 81.76,379.13 81.91,377.17 82.06,376.18 82.21,376.29 82.36,377.60 82.51,380.08 82.66,383.45 82.81,387.44 82.97,391.72 83.12,395.93 83.27,399.70 83.42,402.70 83.57,404.66 83.72,405.39 83.87,404.81 84.02,402.94 84.17,399.99 84.32,396.24 84.47,392.02 84.62,387.74 84.77,383.80 84.93,380.57 85.08,378.39 85.23,377.47 85.38,377.95 85.53,379.81 85.68,382.93 85.83,387.06 85.98,391.86 86.13,396.91 86.28,401.78 86.43,406.05 86.58,409.33 86.73,411.34 86.89,411.88 87.04,410.92 87.19,408.42 87.34,404.74 87.49,400.22 87.64,395.26 87.79,390.32 87.94,385.86 88.09,382.30 88.24,379.98 88.39,379.13 88.54,379.84 88.69,382.08 88.84,385.68 89.00,390.32 89.15,395.59 89.30,401.05 89.45,406.22 89.60,410.63 89.75,413.90 89.90,415.75 90.05,416.00 90.20,414.65 90.35,411.80 90.50,407.71 90.65,402.79 90.80,397.49 90.96,392.28 91.11,387.66 91.26,384.05 91.41,381.79 91.56,381.10 91.71,382.05 91.86,384.58 92.01,388.46 92.16,393.38 92.31,398.90 92.46,404.54 92.61,409.80 92.76,414.23 92.92,417.42 93.07,419.09 93.22,419.11 93.37,417.46 93.52,414.25 93.67,409.84 93.82,404.64 93.97,399.11 94.12,393.76 94.27,389.08 94.42,385.50 94.57,383.35 94.72,382.82 94.88,383.97 95.03,386.71 95.18,390.80 95.33,395.87 95.48,401.48 95.63,407.12 95.78,412.30 95.93,416.57 96.08,419.54 96.23,420.96 96.38,420.70 96.53,418.80 96.68,415.45 96.83,410.94 96.99,405.69 97.14,400.17 97.29,394.89 97.44,390.34 97.59,386.92 97.74,384.96 97.89,384.64 98.04,385.99 98.19,388.91 98.34,393.14 98.49,398.30 98.64,403.94 98.79,409.57 98.95,414.68 99.10,418.82 99.25,421.63 99.40,422.86 99.55,422.42 99.70,420.33 99.85,416.79 100.00,412.15 100.15,406.83 100.30,401.31 100.45,396.11 100.60,391.68 100.75,388.45 100.91,386.69 101.06,386.57 101.21,388.11 101.36,391.15 101.51,395.45 101.66,400.62 101.81,406.21 101.96,411.71 102.11,416.64 102.26,420.57 102.41,423.14 102.56,424.13 102.71,423.46 102.86,421.20 103.02,417.56 103.17,412.87 103.32,407.55 103.47,402.10 103.62,397.00 103.77,392.73 103.92,389.66 104.07,388.09 104.22,388.15 104.37,389.85 104.52,393.04 104.67,397.43 104.82,402.65 104.98,408.22 105.13,413.65 105.28,418.46 105.43,422.22 105.58,424.60 105.73,425.40 105.88,424.54 106.03,422.11 106.18,418.34 106.33,413.57 106.48,408.25 106.63,402.84 106.78,397.85 106.94,393.73 107.09,390.84 107.24,389.47 107.39,389.73 107.54,391.60 107.69,394.93 107.84,399.41 107.99,404.64 108.14,410.17 108.29,415.50 108.44,420.15 108.59,423.72 108.74,425.89 108.89,426.47 109.05,425.43 109.20,422.86 109.35,418.99 109.50,414.19 109.65,408.90 109.80,403.60 109.95,398.76 110.10,394.83 110.25,392.17 110.40,391.01 110.55,391.47 110.70,393.49 110.85,396.92 111.01,401.44 111.16,406.65 111.31,412.07 111.46,417.24 111.61,421.68 111.76,425.02 111.91,426.96 112.06,427.33 112.21,426.12 112.36,423.44 112.51,419.55 112.66,414.80 112.81,409.63 112.97,404.50 113.12,399.90 113.27,396.22 113.42,393.81 113.57,392.86 113.72,393.47 113.87,395.60 114.02,399.05 114.17,403.52 114.32,408.61 114.47,413.87 114.62,418.83 114.77,423.04 114.92,426.13 115.08,427.84 115.23,428.01 115.38,426.63 115.53,423.84 115.68,419.89 115.83,415.14 115.98,410.02 116.13,405.00 116.28,400.52 116.43,397.01 116.58,394.77 116.73,394.00 116.88,394.78 117.04,397.05 117.19,400.58 117.34,405.08 117.49,410.14 117.64,415.31 117.79,420.13 117.94,424.17 118.09,427.06 118.24,428.57 118.39,428.56 118.54,427.03 118.69,424.12 118.84,420.12 118.99,415.37 119.15,410.32 119.30,405.42 119.45,401.11 119.60,397.78 119.75,395.74 119.90,395.16 120.05,396.11 120.20,398.50 120.35,402.12 120.50,406.64 120.65,411.66 120.80,416.73 120.95,421.41 121.11,425.27 121.26,427.97 121.41,429.28 121.56,429.08 121.71,427.41 121.86,424.41 122.01,420.36 122.16,415.62 122.31,410.64 122.46,405.86 122.61,401.71 122.76,398.57 122.91,396.73 123.07,396.34 123.22,397.46 123.37,399.97 123.52,403.65 123.67,408.18 123.82,413.16 123.97,418.13 124.12,422.66 124.27,426.34 124.42,428.85 124.57,429.96 124.72,429.60 124.87,427.78 125.02,424.69 125.18,420.60 125.33,415.89 125.48,410.99 125.63,406.33 125.78,402.35 125.93,399.40 126.08,397.75 126.23,397.55 126.38,398.81 126.53,401.44 126.68,405.18 126.83,409.72 126.98,414.64 127.14,419.49 127.29,423.85 127.44,427.34 127.59,429.63 127.74,430.54 127.89,429.99 128.04,428.03 128.19,424.84 128.34,420.72 128.49,416.04 128.64,411.22 128.79,406.70 128.94,402.89 129.10,400.13 129.25,398.67 129.40,398.63 129.55,400.03 129.70,402.74 129.85,406.51 130.00,411.00 130.15,415.82 130.30,420.53 130.45,424.71 130.60,427.99 130.75,430.09 130.90,430.81 131.06,430.10 131.21,428.03 131.36,424.79 131.51,420.67 131.66,416.06 131.81,411.36 131.96,407.01 132.11,403.39 132.26,400.83 132.41,399.56 132.56,399.70 132.71,401.22 132.86,404.01 133.01,407.80 133.17,412.25 133.32,416.97 133.47,421.53 133.62,425.53 133.77,428.62 133.92,430.51 134.07,431.05 134.22,430.20 134.37,428.03 134.52,424.74 134.67,420.64 134.82,416.10 134.97,411.53 135.13,407.34 135.28,403.91 135.43,401.55 135.58,400.47 135.73,400.77 135.88,402.42 136.03,405.27 136.18,409.07 136.33,413.48 136.48,418.09 136.63,422.51 136.78,426.33 136.93,429.21 137.08,430.91 137.24,431.28 137.39,430.29 137.54,428.02 137.69,424.70 137.84,420.63 137.99,416.17 138.14,411.73 138.29,407.71 138.44,404.47 138.59,402.30 138.74,401.41 138.89,401.86 139.04,403.62 139.20,406.53 139.35,410.33 139.50,414.68 139.65,419.18 139.80,423.45 139.95,427.09 140.10,429.78 140.25,431.29 140.40,431.49 140.55,430.36 140.70,428.02 140.85,424.68 141.00,420.63 141.16,416.25 141.31,411.93 141.46,408.07 141.61,405.01 141.76,403.02 141.91,402.30 142.06,402.89 142.21,404.74 142.36,407.70 142.51,411.49 142.66,415.78 142.81,420.17 142.96,424.28 143.11,427.75 143.27,430.25 143.42,431.58 143.57,431.62 143.72,430.36 143.87,427.93 144.02,424.55 144.17,420.52 144.32,416.22 144.47,412.02 144.62,408.31 144.77,405.42 144.92,403.61 145.07,403.05 145.23,403.78 145.38,405.74 145.53,408.75 145.68,412.55 145.83,416.78 145.98,421.08 146.13,425.05 146.28,428.35 146.43,430.68 146.58,431.84 146.73,431.72 146.88,430.35 147.03,427.84 147.19,424.43 147.34,420.43 147.49,416.20 147.64,412.13 147.79,408.57 147.94,405.86 148.09,404.22 148.24,403.82 148.39,404.69 148.54,406.75 148.69,409.80 148.84,413.59 148.99,417.77 149.14,421.96 149.30,425.80 149.45,428.93 149.60,431.09 149.75,432.08 149.90,431.81 150.05,430.32 150.20,427.75 150.35,424.33 150.50,420.36 150.65,416.22 150.80,412.26 150.95,408.86 151.10,406.32 151.26,404.86 151.41,404.61 151.56,405.61 151.71,407.75 151.86,410.85 152.01,414.62 152.16,418.74 152.31,422.82 152.46,426.51 152.61,429.48 152.76,431.47 152.91,432.29 153.06,431.89 153.22,430.30 153.37,427.66 153.52,424.23 153.67,420.31 153.82,416.25 153.97,412.43 154.12,409.18 154.27,406.81 154.42,405.51 154.57,405.42 154.72,406.53 154.87,408.75 155.02,411.87 155.17,415.63 155.33,419.67 155.48,423.64 155.63,427.19 155.78,430.00 155.93,431.82 156.08,432.49 156.23,431.95 156.38,430.25 156.53,427.56 156.68,424.11 156.83,420.23 156.98,416.25 157.13,412.54 157.29,409.44 157.44,407.22 157.59,406.08 157.74,406.12 157.89,407.35 158.04,409.65 158.19,412.81 158.34,416.55 158.49,420.53 158.64,424.41 158.79,427.83 158.94,430.48 159.09,432.14 159.25,432.66 159.40,431.99 159.55,430.20 159.70,427.45 159.85,423.99 160.00,420.14 160.15,416.25 160.30,412.66 160.45,409.70 160.60,407.63 160.75,406.65 160.90,406.84 161.05,408.17 161.20,410.55 161.36,413.73 161.51,417.46 161.66,421.38 161.81,425.15 161.96,428.44 162.11,430.94 162.26,432.44 162.41,432.81 162.56,432.02 162.71,430.14 162.86,427.34 163.01,423.88 163.16,420.08 163.32,416.27 163.47,412.80 163.62,409.98 163.77,408.07 163.92,407.24 164.07,407.56 164.22,409.01 164.37,411.44 164.52,414.66 164.67,418.35 164.82,422.21 164.97,425.87 165.12,429.02 165.28,431.38 165.43,432.72 165.58,432.95 165.73,432.04 165.88,430.07 166.03,427.24 166.18,423.78 166.33,420.03 166.48,416.31 166.63,412.96 166.78,410.29 166.93,408.53 167.08,407.85 167.23,408.30 167.39,409.84 167.54,412.34 167.69,415.57 167.84,419.24 167.99,423.02 168.14,426.57 168.29,429.59 168.44,431.79 168.59,432.99 168.74,433.08 168.89,432.05 169.04,430.01 169.19,427.14 169.35,423.69 169.50,419.99 169.65,416.37 169.80,413.15 169.95,410.62 170.10,409.02 170.25,408.48 170.40,409.05 170.55,410.68 170.70,413.24 170.85,416.47 171.00,420.10 171.15,423.81 171.31,427.25 171.46,430.13 171.61,432.18 171.76,433.23 171.91,433.19 172.06,432.06 172.21,429.94 172.36,427.04 172.51,423.62 172.66,419.98 172.81,416.45 172.96,413.36 173.11,410.97 173.26,409.52 173.42,409.12 173.57,409.81 173.72,411.53 173.87,414.13 174.02,417.36 174.17,420.95 174.32,424.57 174.47,427.90 174.62,430.64 174.77,432.54 174.92,433.45 175.07,433.27 175.22,432.04 175.38,429.87 175.53,426.95 175.68,423.54 175.83,419.97 175.98,416.55 176.13,413.58 176.28,411.35 176.43,410.04 176.58,409.77 176.73,410.58 176.88,412.37 177.03,415.01 177.18,418.24 177.34,421.78 177.49,425.31 177.64,428.52 177.79,431.12 177.94,432.88 178.09,433.64 178.24,433.35 178.39,432.02 178.54,429.79 178.69,426.86 178.84,423.49 178.99,419.98 179.14,416.67 179.29,413.83 179.45,411.74 179.60,410.57 179.75,410.44 179.90,411.35 180.05,413.22 180.20,415.89 180.35,419.11 180.50,422.59 180.65,426.03 180.80,429.12 180.95,431.58 181.10,433.19 181.25,433.82 181.41,433.41 181.56,432.00 181.71,429.72 181.86,426.78 182.01,423.44 182.16,420.02 182.31,416.81 182.46,414.11 182.61,412.16 182.76,411.13 182.91,411.12 183.06,412.13 183.21,414.07 183.37,416.76 183.52,419.96 183.67,423.38 183.82,426.73 183.97,429.69 184.12,432.02 184.27,433.49 184.42,433.98 184.57,433.46 184.72,431.97 184.87,429.65 185.02,426.71 185.17,423.41 185.32,420.07 185.48,416.97 185.63,414.40 185.78,412.59 185.93,411.70 186.08,411.82 186.23,412.92 186.38,414.91 186.53,417.62 186.68,420.80 186.83,424.16 186.98,427.41 187.13,430.25 187.28,432.43 187.44,433.77 187.59,434.13 187.74,433.50 187.89,431.94 188.04,429.58 188.19,426.65 188.34,423.40 188.49,420.14 188.64,417.16 188.79,414.72 188.94,413.05 189.09,412.29 189.24,412.52 189.40,413.71 189.55,415.76 189.70,418.48 189.85,421.62 190.00,424.92 190.15,428.06 190.30,430.78 190.45,432.83 190.60,434.02 190.75,434.27 190.90,433.54 191.05,431.91 191.20,429.52 191.35,426.60 191.51,423.41 191.66,420.23 191.81,417.36 191.96,415.06 192.11,413.52 192.26,412.90 192.41,413.24 192.56,414.51 192.71,416.60 192.86,419.32 193.01,422.44 193.16,425.66 193.31,428.70 193.47,431.29 193.62,433.20 193.77,434.27 193.92,434.39 194.07,433.56 194.22,431.87 194.37,429.45 194.52,426.55 194.67,423.41 194.82,420.32 194.97,417.56 195.12,415.38 195.27,413.97 195.43,413.47 195.58,413.91 195.73,415.25 195.88,417.38 196.03,420.10 196.18,423.17 196.33,426.31 196.48,429.25 196.63,431.72 196.78,433.49 196.93,434.43 197.08,434.43 197.23,433.52 197.38,431.76 197.54,429.33 197.69,426.45 197.84,423.36 197.99,420.36 198.14,417.72 198.29,415.66 198.44,414.39 198.59,414.00 198.74,414.54 198.89,415.96 199.04,418.12 199.19,420.84 199.34,423.87 199.50,426.93 199.65,429.77 199.80,432.11 199.95,433.76 200.10,434.57 200.25,434.47 200.40,433.47 200.55,431.66 200.70,429.22 200.85,426.36 201.00,423.33 201.15,420.43 201.30,417.90 201.46,415.97 201.61,414.82 201.76,414.55 201.91,415.18 202.06,416.66 202.21,418.86 202.36,421.57 202.51,424.55 202.66,427.54 202.81,430.27 202.96,432.49 203.11,434.01 203.26,434.70 203.41,434.49 203.57,433.42 203.72,431.57 203.87,429.11 204.02,426.28 204.17,423.32 204.32,420.51 204.47,418.09 204.62,416.29 204.77,415.26 204.92,415.11 205.07,415.83 205.22,417.37 205.37,419.59 205.53,422.28 205.68,425.22 205.83,428.12 205.98,430.74 206.13,432.85 206.28,434.25 206.43,434.82 206.58,434.51 206.73,433.36 206.88,431.47 207.03,429.02 207.18,426.22 207.33,423.33 207.49,420.61 207.64,418.31 207.79,416.63 207.94,415.73 208.09,415.68 208.24,416.48 208.39,418.08 208.54,420.31 208.69,422.99 208.84,425.87 208.99,428.69 209.14,431.20 209.29,433.19 209.44,434.46 209.60,434.92 209.75,434.52 209.90,433.30 210.05,431.38 210.20,428.93 210.35,426.17 210.50,423.35 210.65,420.73 210.80,418.55 210.95,416.99 211.10,416.20 211.25,416.26 211.40,417.14 211.56,418.78 211.71,421.03 211.86,423.68 212.01,426.50 212.16,429.23 212.31,431.64 212.46,433.50 212.61,434.66 212.76,435.01 212.91,434.52 213.06,433.24 213.21,431.29 213.36,428.85 213.52,426.14 213.67,423.40 213.82,420.88 213.97,418.81 214.12,417.37 214.27,416.69 214.42,416.84 214.57,417.80 214.72,419.48 214.87,421.74 215.02,424.36 215.17,427.12 215.32,429.76 215.47,432.06 215.63,433.80 215.78,434.84 215.93,435.09 216.08,434.51 216.23,433.18 216.38,431.21 216.53,428.78 216.68,426.12 216.83,423.46 216.98,421.04 217.13,419.08 217.28,417.76 217.43,417.20 217.59,417.44 217.74,418.47 217.89,420.18 218.04,422.44 218.19,425.03 218.34,427.72 218.49,430.27 218.64,432.46 218.79,434.09 218.94,435.01 219.09,435.15 219.24,434.50 219.39,433.12 219.55,431.14 219.70,428.73 219.85,426.12 220.00,423.54 220.15,421.22 220.30,419.38 220.45,418.17 220.60,417.72 220.75,418.05 220.90,419.13 221.05,420.88 221.20,423.13 221.35,425.68 221.50,428.30 221.66,430.76 221.81,432.84 221.96,434.35 222.11,435.17 222.26,435.21 222.41,434.49 222.56,433.07 222.71,431.07 222.86,428.69 223.01,426.13 223.16,423.63 223.31,421.42 223.46,419.69 223.62,418.60 223.77,418.24 223.92,418.66 224.07,419.80 224.22,421.57 224.37,423.81 224.52,426.32 224.67,428.87 224.82,431.23 224.97,433.20 225.12,434.60 225.27,435.31 225.42,435.26 225.58,434.47 225.73,433.01 225.88,431.01 226.03,428.66 226.18,426.16 226.33,423.75 226.48,421.64 226.63,420.02 226.78,419.04 226.93,418.78 227.08,419.28 227.23,420.47 227.38,422.26 227.53,424.48 227.69,426.94 227.84,429.41 227.99,431.67 228.14,433.53 228.29,434.82 228.44,435.43 228.59,435.29 228.74,434.44 228.89,432.94 229.04,430.93 229.19,428.60 229.34,426.16 229.49,423.82 229.65,421.81 229.80,420.29 229.95,419.40 230.10,419.23 230.25,419.79 230.40,421.03 230.55,422.84 230.70,425.05 230.85,427.47 231.00,429.87 231.15,432.06 231.30,433.82 231.45,435.01 231.61,435.51 231.76,435.30 231.91,434.38 232.06,432.84 232.21,430.83 232.36,428.53 232.51,426.14 232.66,423.88 232.81,421.95 232.96,420.53 233.11,419.75 233.26,419.67 233.41,420.30 233.56,421.59 233.72,423.41 233.87,425.61 234.02,427.98 234.17,430.33 234.32,432.42 234.47,434.09 234.62,435.17 234.77,435.59 234.92,435.29 235.07,434.32 235.22,432.75 235.37,430.74 235.52,428.46 235.68,426.13 235.83,423.95 235.98,422.11 236.13,420.79 236.28,420.11 236.43,420.11 236.58,420.81 236.73,422.14 236.88,423.98 237.03,426.16 237.18,428.49 237.33,430.76 237.48,432.77 237.64,434.34 237.79,435.33 237.94,435.65 238.09,435.28 238.24,434.25 238.39,432.66 238.54,430.66 238.69,428.41 238.84,426.14 238.99,424.03 239.14,422.29 239.29,421.07 239.44,420.48 239.59,420.56 239.75,421.32 239.90,422.69 240.05,424.54 240.20,426.70 240.35,428.98 240.50,431.18 240.65,433.11 240.80,434.58 240.95,435.47 241.10,435.71 241.25,435.27 241.40,434.19 241.55,432.58 241.71,430.58 241.86,428.37 242.01,426.16 242.16,424.13 242.31,422.48 242.46,421.36 242.61,420.86 242.76,421.02 242.91,421.84 243.06,423.24 243.21,425.09 243.36,427.23 243.51,429.46 243.67,431.59 243.82,433.43 243.97,434.80 244.12,435.60 244.27,435.75 244.42,435.25 244.57,434.13 244.72,432.50 244.87,430.51 245.02,428.34 245.17,426.19 245.32,424.25 245.47,422.69 245.62,421.66 245.78,421.25 245.93,421.49 246.08,422.36 246.23,423.79 246.38,425.64 246.53,427.75 246.68,429.93 246.83,431.98 246.98,433.73 247.13,435.01 247.28,435.72 247.43,435.79 247.58,435.22 247.74,434.06 247.89,432.42 248.04,430.45 248.19,428.33 248.34,426.24 248.49,424.38 248.64,422.92 248.79,421.98 248.94,421.65 249.09,421.96 249.24,422.88 249.39,424.33 249.54,426.18 249.70,428.25 249.85,430.38 250.00,432.36 250.15,434.02 250.30,435.21 250.45,435.83 250.60,435.82 250.75,435.19 250.90,434.00 251.05,432.35 251.20,430.40 251.35,428.32 251.50,426.30 251.65,424.53 251.81,423.15 251.96,422.31 252.11,422.06 252.26,422.44 252.41,423.40 252.56,424.87 252.71,426.71 252.86,428.75 253.01,430.81 253.16,432.72 253.31,434.29 253.46,435.39 253.61,435.92 253.77,435.84 253.92,435.16 254.07,433.94 254.22,432.29 254.37,430.36 254.52,428.33 254.67,426.38 254.82,424.69 254.97,423.41 255.12,422.65 255.27,422.48 255.42,422.92 255.57,423.92 255.73,425.41 255.88,427.23 256.03,429.23 256.18,431.24 256.33,433.06 256.48,434.55 256.63,435.56 256.78,436.01 256.93,435.86 257.08,435.13 257.23,433.88 257.38,432.23 257.53,430.33 257.69,428.36 257.84,426.48 257.99,424.87 258.14,423.67 258.29,423.00 258.44,422.91 258.59,423.40 258.74,424.44 258.89,425.94 259.04,427.74 259.19,429.71 259.34,431.65 259.49,433.39 259.64,434.79 259.80,435.72 259.95,436.09 260.10,435.87 260.25,435.10 260.40,433.83 260.55,432.18 260.70,430.32 260.85,428.39 261.00,426.58 261.15,425.06 261.30,423.95 261.45,423.36 261.60,423.33 261.76,423.88 261.91,424.95 262.06,426.45 262.21,428.24 262.36,430.16 262.51,432.04 262.66,433.71 262.81,435.02 262.96,435.86 263.11,436.16 263.26,435.88 263.41,435.06 263.56,433.78 263.71,432.14 263.87,430.30 264.02,428.43 264.17,426.69 264.32,425.24 264.47,424.21 264.62,423.70 264.77,423.75 264.92,424.35 265.07,425.45 265.22,426.95 265.37,428.72 265.52,430.60 265.67,432.41 265.83,434.01 265.98,435.24 266.13,436.00 266.28,436.22 266.43,435.89 266.58,435.03 266.73,433.73 266.88,432.10 267.03,430.30 267.18,428.48 267.33,426.81 267.48,425.44 267.63,424.49 267.79,424.05 267.94,424.16 268.09,424.81 268.24,425.94 268.39,427.44 268.54,429.19 268.69,431.02 268.84,432.78 268.99,434.30 269.14,435.45 269.29,436.13 269.44,436.28 269.59,435.89 269.75,435.00 269.90,433.69 270.05,432.07 270.20,430.30 270.35,428.54 270.50,426.94 270.65,425.65 270.80,424.78 270.95,424.42 271.10,424.59 271.25,425.28 271.40,426.43 271.55,427.93 271.70,429.65 271.86,431.43 272.01,433.12 272.16,434.57 272.31,435.64 272.46,436.25 272.61,436.33 272.76,435.89 272.91,434.97 273.06,433.65 273.21,432.05 273.36,430.32 273.51,428.61 273.66,427.08 273.82,425.87 273.97,425.08 274.12,424.79 274.27,425.02 274.42,425.75 274.57,426.91 274.72,428.41 274.87,430.10 275.02,431.83 275.17,433.46 275.32,434.83 275.47,435.83 275.62,436.36 275.77,436.38 275.93,435.89 276.08,434.94 276.23,433.62 276.38,432.04 276.53,430.35 276.68,428.70 276.83,427.24 276.98,426.10 277.13,425.39 277.28,425.17 277.43,425.45 277.58,426.22 277.73,427.39 277.89,428.88 278.04,430.54 278.19,432.22 278.34,433.78 278.49,435.08 278.64,436.00 278.79,436.46 278.94,436.42 279.09,435.89 279.24,434.91 279.39,433.59 279.54,432.03 279.69,430.39 279.85,428.80 280.00,427.41 280.15,426.35 280.30,425.71 280.45,425.55 280.60,425.89 280.75,426.68 280.90,427.87 281.05,429.34 281.20,430.97 281.35,432.60 281.50,434.09 281.65,435.31 281.80,436.16 281.96,436.55 282.11,436.45 282.26,435.88 282.41,434.89 282.56,433.57 282.71,432.04 282.86,430.44 283.01,428.91 283.16,427.60 283.31,426.61 283.46,426.04 283.61,425.95 283.76,426.33 283.92,427.15 284.07,428.34 284.22,429.80 284.37,431.39 284.52,432.96 284.67,434.39 284.82,435.54 284.97,436.30 285.12,436.63 285.27,436.48 285.42,435.88 285.57,434.87 285.72,433.56 285.88,432.06 286.03,430.50 286.18,429.04 286.33,427.79 286.48,426.88 286.63,426.38 286.78,426.35 286.93,426.77 287.08,427.62 287.23,428.81 287.38,430.25 287.53,431.79 287.68,433.31 287.83,434.67 287.99,435.75 288.14,436.44 288.29,436.70 288.44,436.51 288.59,435.87 288.74,434.85 288.89,433.55 289.04,432.08 289.19,430.58 289.34,429.18 289.49,428.00 289.64,427.16 289.79,426.73 289.95,426.75 290.10,427.21 290.25,428.08 290.40,429.27 290.55,430.68 290.70,432.19 290.85,433.65 291.00,434.94 291.15,435.94 291.30,436.57 291.45,436.77 291.60,436.53 291.75,435.86 291.91,434.84 292.06,433.55 292.21,432.12 292.36,430.67 292.51,429.33 292.66,428.22 292.81,427.46 292.96,427.09 293.11,427.16 293.26,427.66 293.41,428.54 293.56,429.73 293.71,431.11 293.86,432.57 294.02,433.97 294.17,435.20 294.32,436.13 294.47,436.69 294.62,436.84 294.77,436.55 294.92,435.86 295.07,434.83 295.22,433.55 295.37,432.15 295.52,430.75 295.67,429.46 295.82,428.42 295.98,427.72 296.13,427.41 296.28,427.52 296.43,428.05 296.58,428.95 296.73,430.13 296.88,431.49 297.03,432.91 297.18,434.26 297.33,435.42 297.48,436.29 297.63,436.80 297.78,436.89 297.94,436.56 298.09,435.84 298.24,434.81 298.39,433.54 298.54,432.17 298.69,430.81 298.84,429.58 298.99,428.60 299.14,427.96 299.29,427.71 299.44,427.87 299.59,428.43 299.74,429.34 299.89,430.52 300.05,431.86 300.20,433.24 300.35,434.54 300.50,435.64 300.65,436.45 300.80,436.89 300.95,436.93 301.10,436.56 301.25,435.83 301.40,434.79 301.55,433.54 301.70,432.20 301.85,430.88 302.01,429.71 302.16,428.80 302.31,428.21 302.46,428.01 302.61,428.22 302.76,428.81 302.91,429.73 303.06,430.90 303.21,432.22 303.36,433.56 303.51,434.81 303.66,435.85 303.81,436.60 303.97,436.98 304.12,436.97 304.27,436.57 304.42,435.81 304.57,434.77 304.72,433.54 304.87,432.23 305.02,430.97 305.17,429.85 305.32,429.00 305.47,428.47 305.62,428.33 305.77,428.57 305.92,429.19 306.08,430.12 306.23,431.28 306.38,432.57 306.53,433.87 306.68,435.06 306.83,436.05 306.98,436.73 307.13,437.06 307.28,437.01 307.43,436.57 307.58,435.80 307.73,434.76 307.88,433.55 308.04,432.28 308.19,431.06 308.34,430.00 308.49,429.21 308.64,428.74 308.79,428.64 308.94,428.93 309.09,429.57 309.24,430.50 309.39,431.65 309.54,432.91 309.69,434.17 309.84,435.31 310.00,436.23 310.15,436.86 310.30,437.14 310.45,437.04 310.60,436.58 310.75,435.79 310.90,434.76 311.05,433.57 311.20,432.33 311.35,431.16 311.50,430.16 311.65,429.41 311.80,429.00 311.95,428.94 312.11,429.26 312.26,429.92 312.41,430.86 312.56,431.99 312.71,433.22 312.86,434.44 313.01,435.53 313.16,436.40 313.31,436.98 313.46,437.21 313.61,437.07 313.76,436.57 313.91,435.77 314.07,434.74 314.22,433.56 314.37,432.36 314.52,431.22 314.67,430.27 314.82,429.58 314.97,429.21 315.12,429.20 315.27,429.56 315.42,430.24 315.57,431.18 315.72,432.31 315.87,433.51 316.03,434.69 316.18,435.74 316.33,436.56 316.48,437.08 316.63,437.26 316.78,437.09 316.93,436.57 317.08,435.75 317.23,434.72 317.38,433.56 317.53,432.39 317.68,431.30 317.83,430.39 317.98,429.75 318.14,429.43 318.29,429.47 318.44,429.85 318.59,430.55 318.74,431.50 318.89,432.62 319.04,433.80 319.19,434.94 319.34,435.94 319.49,436.71 319.64,437.18 319.79,437.32 319.94,437.10 320.10,436.56 320.25,435.73 320.40,434.71 320.55,433.57 320.70,432.43 320.85,431.38 321.00,430.52 321.15,429.93 321.30,429.66 321.45,429.74 321.60,430.15 321.75,430.87 321.90,431.82 322.06,432.92 322.21,434.07 322.36,435.18 322.51,436.13 322.66,436.85 322.81,437.28 322.96,437.37 323.11,437.12 323.26,436.55 323.41,435.72 323.56,434.70 323.71,433.58 323.86,432.47 324.01,431.47 324.17,430.66 324.32,430.12 324.47,429.90 324.62,430.01 324.77,430.45 324.92,431.18 325.07,432.13 325.22,433.22 325.37,434.34 325.52,435.41 325.67,436.32 325.82,436.99 325.97,437.36 326.13,437.41 326.28,437.13 326.43,436.54 326.58,435.71 326.73,434.70 326.88,433.60 327.03,432.53 327.18,431.57 327.33,430.81 327.48,430.31 327.63,430.14 327.78,430.29 327.93,430.75 328.09,431.49 328.24,432.44 328.39,433.51 328.54,434.60 328.69,435.63 328.84,436.49 328.99,437.12 329.14,437.45 329.29,437.45 329.44,437.14 329.59,436.54 329.74,435.70 329.89,434.70 330.04,433.63 330.20,432.59 330.35,431.67 330.50,430.96 330.65,430.52 330.80,430.38 330.95,430.56 331.10,431.05 331.25,431.80 331.40,432.74 331.55,433.79 331.70,434.86 331.85,435.84 332.00,436.66 332.16,437.24 332.31,437.52 332.46,437.49 332.61,437.15 332.76,436.53 332.91,435.69 333.06,434.71 333.21,433.66 333.36,432.66 333.51,431.79 333.66,431.12 333.81,430.72 333.96,430.63 334.12,430.85 334.27,431.35 334.42,432.11 334.57,433.04 334.72,434.07 334.87,435.11 335.02,436.05 335.17,436.82 335.32,437.35 335.47,437.59 335.62,437.53 335.77,437.16 335.92,436.53 336.07,435.69 336.23,434.72 336.38,433.71 336.53,432.74 336.68,431.91 336.83,431.29 336.98,430.93 337.13,430.88 337.28,431.12 337.43,431.65 337.58,432.41 337.73,433.33 337.88,434.34 338.03,435.34 338.19,436.24 338.34,436.97 338.49,437.45 338.64,437.65 338.79,437.55 338.94,437.16 339.09,436.52 339.24,435.68 339.39,434.73 339.54,433.74 339.69,432.80 339.84,432.01 339.99,431.44 340.15,431.12 340.30,431.10 340.45,431.38 340.60,431.92 340.75,432.69 340.90,433.60 341.05,434.59 341.20,435.56 341.35,436.42 341.50,437.10 341.65,437.54 341.80,437.71 341.95,437.57 342.10,437.16 342.26,436.51 342.41,435.67 342.56,434.73 342.71,433.77 342.86,432.88 343.01,432.13 343.16,431.59 343.31,431.32 343.46,431.34 343.61,431.64 343.76,432.20 343.91,432.96 344.06,433.87 344.22,434.83 344.37,435.77 344.52,436.59 344.67,437.23 344.82,437.63 344.97,437.75 345.12,437.59 345.27,437.16 345.42,436.50 345.57,435.67 345.72,434.75 345.87,433.81 346.02,432.96 346.18,432.25 346.33,431.76 346.48,431.52 346.63,431.57 346.78,431.90 346.93,432.47 347.08,433.23 347.23,434.13 347.38,435.07 347.53,435.97 347.68,436.76 347.83,437.35 347.98,437.71 348.13,437.80 348.29,437.61 348.44,437.16 348.59,436.50 348.74,435.67 348.89,434.77 349.04,433.86 349.19,433.04 349.34,432.37 349.49,431.92 349.64,431.73 349.79,431.81 349.94,432.16 350.09,432.74 350.25,433.50 350.40,434.38 350.55,435.30 350.70,436.17 350.85,436.91 351.00,437.47 351.15,437.79 351.30,437.84 351.45,437.63 351.60,437.16 351.75,436.49 351.90,435.68 352.05,434.79 352.21,433.92 352.36,433.13 352.51,432.51 352.66,432.10 352.81,431.94 352.96,432.05 353.11,432.42 353.26,433.01 353.41,433.77 353.56,434.63 353.71,435.52 353.86,436.36 354.01,437.06 354.16,437.58 354.32,437.86 354.47,437.88 354.62,437.64 354.77,437.16 354.92,436.49 355.07,435.69 355.22,434.83 355.37,433.98 355.52,433.23 355.67,432.65 355.82,432.28 355.97,432.16 356.12,432.29 356.28,432.68 356.43,433.28 356.58,434.03 356.73,434.88 356.88,435.74 357.03,436.54 357.18,437.21 357.33,437.68 357.48,437.93 357.63,437.92 357.78,437.65 357.93,437.16 358.08,436.49 358.24,435.70 358.39,434.86 358.54,434.05 358.69,433.34 358.84,432.80 358.99,432.46 359.14,432.38 359.29,432.54 359.44,432.94 359.59,433.54 359.74,434.29 359.89,435.12 360.04,435.95 360.19,436.71 360.35,437.34 360.50,437.78 360.65,437.99 360.80,437.95 360.95,437.67 361.10,437.17 361.25,436.50 361.40,435.72 361.55,434.91 361.70,434.13 361.85,433.46 362.00,432.95 362.15,432.65 362.31,432.60 362.46,432.78 362.61,433.20 362.76,433.80 362.91,434.54 363.06,435.35 363.21,436.15 363.36,436.88 363.51,437.47 363.66,437.87 363.81,438.05 363.96,437.98 364.11,437.68 364.27,437.17 364.42,436.51 364.57,435.75 364.72,434.96 364.87,434.21 365.02,433.58 365.17,433.11 365.32,432.85 365.47,432.82 365.62,433.03 365.77,433.46 365.92,434.06 366.07,434.79 366.22,435.57 366.38,436.35 366.53,437.04 366.68,437.60 366.83,437.96 366.98,438.10 367.13,438.01 367.28,437.69 367.43,437.18 367.58,436.52 367.73,435.78 367.88,435.02 368.03,434.30 368.18,433.70 368.34,433.27 368.49,433.05 368.64,433.05 368.79,433.28 368.94,433.71 369.09,434.32 369.24,435.03 369.39,435.79 369.54,436.54 369.69,437.20 369.84,437.71 369.99,438.04 370.14,438.15 370.30,438.03 370.45,437.70 370.60,437.19 370.75,436.54 370.90,435.81 371.05,435.07 371.20,434.39 371.35,433.82 371.50,433.42 371.65,433.23 371.80,433.25 371.95,433.50 372.10,433.94 372.25,434.54 372.41,435.24 372.56,435.99 372.71,436.71 372.86,437.33 373.01,437.82 373.16,438.11 373.31,438.19 373.46,438.05 373.61,437.71 373.76,437.19 373.91,436.54 374.06,435.82 374.21,435.10 374.37,434.44 374.52,433.91 374.67,433.54 374.82,433.37 374.97,433.43 375.12,433.69 375.27,434.14 375.42,434.74 375.57,435.44 375.72,436.17 375.87,436.86 376.02,437.46 376.17,437.91 376.33,438.18 376.48,438.23 376.63,438.07 376.78,437.71 376.93,437.18 377.08,436.54 377.23,435.84 377.38,435.14 377.53,434.51 377.68,434.00 377.83,433.66 377.98,433.52 378.13,433.60 378.28,433.88 378.44,434.34 378.59,434.95 378.74,435.63 378.89,436.34 379.04,437.01 379.19,437.58 379.34,438.01 379.49,438.24 379.64,438.27 379.79,438.09 379.94,437.71 380.09,437.18 380.24,436.54 380.40,435.85 380.55,435.18 380.70,434.57 380.85,434.09 381.00,433.79 381.15,433.68 381.30,433.78 381.45,434.08 381.60,434.55 381.75,435.15 381.90,435.82 382.05,436.51 382.20,437.16 382.36,437.70 382.51,438.09 382.66,438.30 382.81,438.30 382.96,438.10 383.11,437.72 383.26,437.18 383.41,436.55 383.56,435.88 383.71,435.22 383.86,434.64 384.01,434.20 384.16,433.92 384.31,433.84 384.47,433.96 384.62,434.27 384.77,434.75 384.92,435.34 385.07,436.01 385.22,436.68 385.37,437.30 385.52,437.82 385.67,438.18 385.82,438.35 385.97,438.33 386.12,438.11 386.27,437.72 386.43,437.19 386.58,436.56 386.73,435.90 386.88,435.27 387.03,434.72 387.18,434.30 387.33,434.05 387.48,434.00 387.63,434.14 387.78,434.46 387.93,434.94 388.08,435.54 388.23,436.19 388.39,436.84 388.54,437.44 388.69,437.92 388.84,438.26 388.99,438.41 389.14,438.36 389.29,438.13 389.44,437.73 389.59,437.19 389.74,436.58 389.89,435.94 390.04,435.33 390.19,434.80 390.34,434.41 390.50,434.19 390.65,434.16 390.80,434.32 390.95,434.66 391.10,435.14 391.25,435.73 391.40,436.37 391.55,437.00 391.70,437.57 391.85,438.03 392.00,438.33 392.15,438.46 392.30,438.39 392.46,438.14 392.61,437.73 392.76,437.20 392.91,436.60 393.06,435.97 393.21,435.38 393.36,434.89 393.51,434.53 393.66,434.33 393.81,434.32 393.96,434.50 394.11,434.85 394.26,435.33 394.42,435.92 394.57,436.54 394.72,437.15 394.87,437.70 395.02,438.13 395.17,438.40 395.32,438.50 395.47,438.42 395.62,438.15 395.77,437.74 395.92,437.21 396.07,436.62 396.22,436.01 396.38,435.45 396.53,434.98 396.68,434.65 396.83,434.48 396.98,434.49 397.13,434.69 397.28,435.04 397.43,435.53 397.58,436.10 397.73,436.71 397.88,437.30 398.03,437.82 398.18,438.22 398.33,438.47 398.49,438.54 398.64,438.44 398.79,438.17 398.94,437.75 399.09,437.22 399.24,436.64 399.39,436.06 399.54,435.52 399.69,435.07 399.84,434.77 399.99,434.63 400.14,434.66 400.29,434.87 400.45,435.23 400.60,435.72 400.75,436.28 400.90,436.87 401.05,437.44 401.20,437.94 401.35,438.31 401.50,438.53 401.65,438.59 401.80,438.46 401.95,438.18 402.10,437.76 402.25,437.24 402.40,436.67 402.56,436.11 402.71,435.59 402.86,435.18 403.01,434.90 403.16,434.78 403.31,434.83 403.46,435.05 403.61,435.42 403.76,435.90 403.91,436.46 404.06,437.03 404.21,437.58 404.36,438.04 404.52,438.39 404.67,438.59 404.82,438.62 404.97,438.48 405.12,438.19 405.27,437.76 405.42,437.25 405.57,436.69 405.72,436.14 405.87,435.65 406.02,435.26 406.17,435.00 406.32,434.90 406.48,434.97 406.63,435.21 406.78,435.58 406.93,436.06 407.08,436.61 407.23,437.17 407.38,437.70 407.53,438.14 407.68,438.47 407.83,438.64 407.98,438.65 408.13,438.50 408.28,438.19 408.44,437.77 408.59,437.26 408.74,436.71 408.89,436.18 409.04,435.70 409.19,435.33 409.34,435.10 409.49,435.03 409.64,435.12 409.79,435.36 409.94,435.74 410.09,436.22 410.24,436.76 410.39,437.31 410.55,437.81 410.70,438.24 410.85,438.54 411.00,438.69 411.15,438.68 411.30,438.51 411.45,438.20 411.60,437.77 411.75,437.27 411.90,436.73 412.05,436.21 412.20,435.76 412.35,435.42 412.51,435.21 412.66,435.15 412.81,435.26 412.96,435.52 413.11,435.90 413.26,436.38 413.41,436.91 413.56,437.44 413.71,437.93 413.86,438.33 414.01,438.60 414.16,438.73 414.31,438.71 414.46,438.52 414.62,438.20 414.77,437.77 414.92,437.28 415.07,436.75 415.22,436.26 415.37,435.82 415.52,435.50 415.67,435.31 415.82,435.28 415.97,435.40 416.12,435.67 416.27,436.06 416.42,436.53 416.58,437.05 416.73,437.57 416.88,438.04 417.03,438.41 417.18,438.67 417.33,438.78 417.48,438.73 417.63,438.54 417.78,438.21 417.93,437.78 418.08,437.29 418.23,436.78 418.38,436.30 418.54,435.89 418.69,435.59 418.84,435.43 418.99,435.41 419.14,435.55 419.29,435.82 419.44,436.21 419.59,436.69 419.74,437.19 419.89,437.69 420.04,438.14 420.19,438.50 420.34,438.73 420.49,438.82 420.65,438.76 420.80,438.55 420.95,438.22 421.10,437.79 421.25,437.31 421.40,436.81 421.55,436.35 421.70,435.96 421.85,435.68 422.00,435.54 422.15,435.54 422.30,435.69 422.45,435.98 422.61,436.37 422.76,436.83 422.91,437.33 423.06,437.81 423.21,438.24 423.36,438.58 423.51,438.79 423.66,438.86 423.81,438.78 423.96,438.56 424.11,438.22 424.26,437.80 424.41,437.33 424.57,436.85 424.72,436.40 424.87,436.04 425.02,435.78 425.17,435.66 425.32,435.68 425.47,435.84 425.62,436.13 425.77,436.52 425.92,436.98 426.07,437.47 426.22,437.93 426.37,438.34 426.52,438.65 426.68,438.84 426.83,438.89 426.98,438.80 427.13,438.57 427.28,438.23 427.43,437.81 427.58,437.35 427.73,436.88 427.88,436.46 428.03,436.11 428.18,435.88 428.33,435.77 428.48,435.81 428.64,435.99 428.79,436.28 428.94,436.67 429.09,437.13 429.24,437.60 429.39,438.05 429.54,438.43 429.69,438.72 429.84,438.89 429.99,438.93 430.14,438.82 430.29,438.59 430.44,438.24 430.60,437.83 430.75,437.37 430.90,436.92 431.05,436.52 431.20,436.19 431.35,435.98 431.50,435.90 431.65,435.95 431.80,436.13 431.95,436.43 432.10,436.82 432.25,437.27 432.40,437.73 432.55,438.16 432.71,438.52 432.86,438.79 433.01,438.94 433.16,438.96 433.31,438.84 433.46,438.60 433.61,438.26 433.76,437.85 433.91,437.40 434.06,436.97 434.21,436.58 434.36,436.28 434.51,436.09 434.67,436.02 434.82,436.09 434.97,436.28 435.12,436.58 435.27,436.97 435.42,437.41 435.57,437.85 435.72,438.26 435.87,438.61 436.02,438.86 436.17,438.99 436.32,438.99 436.47,438.86 436.63,438.61 436.78,438.27 436.93,437.87 437.08,437.43 437.23,437.02 437.38,436.65 437.53,436.37 437.68,436.20 437.83,436.15 437.98,436.23 438.13,436.43 438.28,436.74 438.43,437.12 438.58,437.54 438.74,437.97 438.89,438.36 439.04,438.69 439.19,438.91 439.34,439.02 439.49,439.01 439.64,438.87 439.79,438.62 439.94,438.28 440.09,437.89 440.24,437.47 440.39,437.07 440.54,436.73 440.70,436.47 440.85,436.32 441.00,436.29 441.15,436.38 441.30,436.59 441.45,436.89 441.60,437.26 441.75,437.67 441.90,438.08 442.05,438.45 442.20,438.76 442.35,438.96 442.50,439.05 442.66,439.02 442.81,438.87 442.96,438.62 443.11,438.29 443.26,437.91 443.41,437.51 443.56,437.13 443.71,436.81 443.86,436.58 444.01,436.44 444.16,436.43 444.31,436.53 444.46,436.74 444.61,437.04 444.77,437.41 444.92,437.80 445.07,438.19 445.22,438.54 445.37,438.82 445.52,439.01 445.67,439.08 445.82,439.04 445.97,438.88 446.12,438.63 446.27,438.31 446.42,437.94 446.57,437.56 446.73,437.20 446.88,436.90 447.03,436.68 447.18,436.57 447.33,436.57 447.48,436.68 447.63,436.89 447.78,437.19 447.93,437.55 448.08,437.93 448.23,438.30 448.38,438.62 448.53,438.88 448.69,439.05 448.84,439.10 448.99,439.05 449.14,438.89 449.29,438.64 449.44,438.32 449.59,437.97 449.74,437.61 449.89,437.27 450.04,436.99 450.19,436.80 450.34,436.70 450.49,436.71 450.64,436.83 450.80,437.05 450.95,437.34 451.10,437.68 451.25,438.04 451.40,438.40 451.55,438.70 451.70,438.94 451.85,439.09 452.00,439.13 452.15,439.06 452.30,438.90 452.45,438.65 452.60,438.34 452.76,438.00 452.91,437.66 453.06,437.34 453.21,437.09 453.36,436.91 453.51,436.83 453.66,436.86 453.81,436.98 453.96,437.19 454.11,437.48" stroke="#000" stroke-width="1.25"/>
<path d="M79.80,499.08 79.95,496.61 80.10,493.67 80.25,490.54 80.40,487.55 80.55,485.06 80.70,483.40 80.86,483.93 81.01,485.90 81.16,488.57 81.31,491.70 81.46,495.01 81.61,498.16 81.76,500.87 81.91,502.83 82.06,503.82 82.21,503.71 82.36,502.40 82.51,499.92 82.66,496.55 82.81,492.56 82.97,488.28 83.12,484.07 83.27,480.30 83.42,477.30 83.57,475.34 83.72,474.61 83.87,475.19 84.02,477.06 84.17,480.01 84.32,483.76 84.47,487.98 84.62,492.26 84.77,496.20 84.93,499.43 85.08,501.61 85.23,502.53 85.38,502.05 85.53,500.19 85.68,497.07 85.83,492.94 85.98,488.14 86.13,483.09 86.28,478.22 86.43,473.95 86.58,470.67 86.73,468.66 86.89,468.12 87.04,469.08 87.19,471.58 87.34,475.26 87.49,479.78 87.64,484.74 87.79,489.68 87.94,494.14 88.09,497.70 88.24,500.02 88.39,500.87 88.54,500.16 88.69,497.92 88.84,494.32 89.00,489.68 89.15,484.41 89.30,478.95 89.45,473.78 89.60,469.37 89.75,466.10 89.90,464.25 90.05,464.00 90.20,465.35 90.35,468.20 90.50,472.29 90.65,477.21 90.80,482.51 90.96,487.72 91.11,492.34 91.26,495.95 91.41,498.21 91.56,498.90 91.71,497.95 91.86,495.42 92.01,491.54 92.16,486.62 92.31,481.10 92.46,475.46 92.61,470.20 92.76,465.77 92.92,462.58 93.07,460.91 93.22,460.89 93.37,462.54 93.52,465.75 93.67,470.16 93.82,475.36 93.97,480.89 94.12,486.24 94.27,490.92 94.42,494.50 94.57,496.65 94.72,497.18 94.88,496.03 95.03,493.29 95.18,489.20 95.33,484.13 95.48,478.52 95.63,472.88 95.78,467.70 95.93,463.43 96.08,460.46 96.23,459.04 96.38,459.30 96.53,461.20 96.68,464.55 96.83,469.06 96.99,474.31 97.14,479.83 97.29,485.11 97.44,489.66 97.59,493.08 97.74,495.04 97.89,495.36 98.04,494.01 98.19,491.09 98.34,486.86 98.49,481.70 98.64,476.06 98.79,470.43 98.95,465.32 99.10,461.18 99.25,458.37 99.40,457.14 99.55,457.58 99.70,459.67 99.85,463.21 100.00,467.85 100.15,473.17 100.30,478.69 100.45,483.89 100.60,488.32 100.75,491.55 100.91,493.31 101.06,493.43 101.21,491.89 101.36,488.85 101.51,484.55 101.66,479.38 101.81,473.79 101.96,468.29 102.11,463.36 102.26,459.43 102.41,456.86 102.56,455.87 102.71,456.54 102.86,458.80 103.02,462.44 103.17,467.13 103.32,472.45 103.47,477.90 103.62,483.00 103.77,487.27 103.92,490.34 104.07,491.91 104.22,491.85 104.37,490.15 104.52,486.96 104.67,482.57 104.82,477.35 104.98,471.78 105.13,466.35 105.28,461.54 105.43,457.78 105.58,455.40 105.73,454.60 105.88,455.46 106.03,457.89 106.18,461.66 106.33,466.43 106.48,471.75 106.63,477.16 106.78,482.15 106.94,486.27 107.09,489.16 107.24,490.53 107.39,490.27 107.54,488.40 107.69,485.07 107.84,480.59 107.99,475.36 108.14,469.83 108.29,464.50 108.44,459.85 108.59,456.28 108.74,454.11 108.89,453.53 109.05,454.57 109.20,457.14 109.35,461.01 109.50,465.81 109.65,471.10 109.80,476.40 109.95,481.24 110.10,485.17 110.25,487.83 110.40,488.99 110.55,488.53 110.70,486.51 110.85,483.08 111.01,478.56 111.16,473.35 111.31,467.93 111.46,462.76 111.61,458.32 111.76,454.98 111.91,453.04 112.06,452.67 112.21,453.88 112.36,456.56 112.51,460.45 112.66,465.20 112.81,470.37 112.97,475.50 113.12,480.10 113.27,483.78 113.42,486.19 113.57,487.14 113.72,486.53 113.87,484.40 114.02,480.95 114.17,476.48 114.32,471.39 114.47,466.13 114.62,461.17 114.77,456.96 114.92,453.87 115.08,452.16 115.23,451.99 115.38,453.37 115.53,456.16 115.68,460.11 115.83,464.86 115.98,469.98 116.13,475.00 116.28,479.48 116.43,482.99 116.58,485.23 116.73,486.00 116.88,485.22 117.04,482.95 117.19,479.42 117.34,474.92 117.49,469.86 117.64,464.69 117.79,459.87 117.94,455.83 118.09,452.94 118.24,451.43 118.39,451.44 118.54,452.97 118.69,455.88 118.84,459.88 118.99,464.63 119.15,469.68 119.30,474.58 119.45,478.89 119.60,482.22 119.75,484.26 119.90,484.84 120.05,483.89 120.20,481.50 120.35,477.88 120.50,473.36 120.65,468.34 120.80,463.27 120.95,458.59 121.11,454.73 121.26,452.03 121.41,450.72 121.56,450.92 121.71,452.59 121.86,455.59 122.01,459.64 122.16,464.38 122.31,469.36 122.46,474.14 122.61,478.29 122.76,481.43 122.91,483.27 123.07,483.66 123.22,482.54 123.37,480.03 123.52,476.35 123.67,471.82 123.82,466.84 123.97,461.87 124.12,457.34 124.27,453.66 124.42,451.15 124.57,450.04 124.72,450.40 124.87,452.22 125.02,455.31 125.18,459.40 125.33,464.11 125.48,469.01 125.63,473.67 125.78,477.65 125.93,480.60 126.08,482.25 126.23,482.45 126.38,481.19 126.53,478.56 126.68,474.82 126.83,470.28 126.98,465.36 127.14,460.51 127.29,456.15 127.44,452.66 127.59,450.37 127.74,449.46 127.89,450.01 128.04,451.97 128.19,455.16 128.34,459.28 128.49,463.96 128.64,468.78 128.79,473.30 128.94,477.11 129.10,479.87 129.25,481.33 129.40,481.37 129.55,479.97 129.70,477.26 129.85,473.49 130.00,469.00 130.15,464.18 130.30,459.47 130.45,455.29 130.60,452.01 130.75,449.91 130.90,449.19 131.06,449.90 131.21,451.97 131.36,455.21 131.51,459.33 131.66,463.94 131.81,468.64 131.96,472.99 132.11,476.61 132.26,479.17 132.41,480.44 132.56,480.30 132.71,478.78 132.86,475.99 133.01,472.20 133.17,467.75 133.32,463.03 133.47,458.47 133.62,454.47 133.77,451.38 133.92,449.49 134.07,448.95 134.22,449.80 134.37,451.97 134.52,455.26 134.67,459.36 134.82,463.90 134.97,468.47 135.13,472.66 135.28,476.09 135.43,478.45 135.58,479.53 135.73,479.23 135.88,477.58 136.03,474.73 136.18,470.93 136.33,466.52 136.48,461.91 136.63,457.49 136.78,453.67 136.93,450.79 137.08,449.09 137.24,448.72 137.39,449.71 137.54,451.98 137.69,455.30 137.84,459.37 137.99,463.83 138.14,468.27 138.29,472.29 138.44,475.53 138.59,477.70 138.74,478.59 138.89,478.14 139.04,476.38 139.20,473.47 139.35,469.67 139.50,465.32 139.65,460.82 139.80,456.55 139.95,452.91 140.10,450.22 140.25,448.71 140.40,448.51 140.55,449.64 140.70,451.98 140.85,455.32 141.00,459.37 141.16,463.75 141.31,468.07 141.46,471.93 141.61,474.99 141.76,476.98 141.91,477.70 142.06,477.11 142.21,475.26 142.36,472.30 142.51,468.51 142.66,464.22 142.81,459.83 142.96,455.72 143.11,452.25 143.27,449.75 143.42,448.42 143.57,448.38 143.72,449.64 143.87,452.07 144.02,455.45 144.17,459.48 144.32,463.78 144.47,467.98 144.62,471.69 144.77,474.58 144.92,476.39 145.07,476.95 145.23,476.22 145.38,474.26 145.53,471.25 145.68,467.45 145.83,463.22 145.98,458.92 146.13,454.95 146.28,451.65 146.43,449.32 146.58,448.16 146.73,448.28 146.88,449.65 147.03,452.16 147.19,455.57 147.34,459.57 147.49,463.80 147.64,467.87 147.79,471.43 147.94,474.14 148.09,475.78 148.24,476.18 148.39,475.31 148.54,473.25 148.69,470.20 148.84,466.41 148.99,462.23 149.14,458.04 149.30,454.20 149.45,451.07 149.60,448.91 149.75,447.92 149.90,448.19 150.05,449.68 150.20,452.25 150.35,455.67 150.50,459.64 150.65,463.78 150.80,467.74 150.95,471.14 151.10,473.68 151.26,475.14 151.41,475.39 151.56,474.39 151.71,472.25 151.86,469.15 152.01,465.38 152.16,461.26 152.31,457.18 152.46,453.49 152.61,450.52 152.76,448.53 152.91,447.71 153.06,448.11 153.22,449.70 153.37,452.34 153.52,455.77 153.67,459.69 153.82,463.75 153.97,467.57 154.12,470.82 154.27,473.19 154.42,474.49 154.57,474.58 154.72,473.47 154.87,471.25 155.02,468.13 155.17,464.37 155.33,460.33 155.48,456.36 155.63,452.81 155.78,450.00 155.93,448.18 156.08,447.51 156.23,448.05 156.38,449.75 156.53,452.44 156.68,455.89 156.83,459.77 156.98,463.75 157.13,467.46 157.29,470.56 157.44,472.78 157.59,473.92 157.74,473.88 157.89,472.65 158.04,470.35 158.19,467.19 158.34,463.45 158.49,459.47 158.64,455.59 158.79,452.17 158.94,449.52 159.09,447.86 159.25,447.34 159.40,448.01 159.55,449.80 159.70,452.55 159.85,456.01 160.00,459.86 160.15,463.75 160.30,467.34 160.45,470.30 160.60,472.37 160.75,473.35 160.90,473.16 161.05,471.83 161.20,469.45 161.36,466.27 161.51,462.54 161.66,458.62 161.81,454.85 161.96,451.56 162.11,449.06 162.26,447.56 162.41,447.19 162.56,447.98 162.71,449.86 162.86,452.66 163.01,456.12 163.16,459.92 163.32,463.73 163.47,467.20 163.62,470.02 163.77,471.93 163.92,472.76 164.07,472.44 164.22,470.99 164.37,468.56 164.52,465.34 164.67,461.65 164.82,457.79 164.97,454.13 165.12,450.98 165.28,448.62 165.43,447.28 165.58,447.05 165.73,447.96 165.88,449.93 166.03,452.76 166.18,456.22 166.33,459.97 166.48,463.69 166.63,467.04 166.78,469.71 166.93,471.47 167.08,472.15 167.23,471.70 167.39,470.16 167.54,467.66 167.69,464.43 167.84,460.76 167.99,456.98 168.14,453.43 168.29,450.41 168.44,448.21 168.59,447.01 168.74,446.92 168.89,447.95 169.04,449.99 169.19,452.86 169.35,456.31 169.50,460.01 169.65,463.63 169.80,466.85 169.95,469.38 170.10,470.98 170.25,471.52 170.40,470.95 170.55,469.32 170.70,466.76 170.85,463.53 171.00,459.90 171.15,456.19 171.31,452.75 171.46,449.87 171.61,447.82 171.76,446.77 171.91,446.81 172.06,447.94 172.21,450.06 172.36,452.96 172.51,456.38 172.66,460.02 172.81,463.55 172.96,466.64 173.11,469.03 173.26,470.48 173.42,470.88 173.57,470.19 173.72,468.47 173.87,465.87 174.02,462.64 174.17,459.05 174.32,455.43 174.47,452.10 174.62,449.36 174.77,447.46 174.92,446.55 175.07,446.73 175.22,447.96 175.38,450.13 175.53,453.05 175.68,456.46 175.83,460.03 175.98,463.45 176.13,466.42 176.28,468.65 176.43,469.96 176.58,470.23 176.73,469.42 176.88,467.63 177.03,464.99 177.18,461.76 177.34,458.22 177.49,454.69 177.64,451.48 177.79,448.88 177.94,447.12 178.09,446.36 178.24,446.65 178.39,447.98 178.54,450.21 178.69,453.14 178.84,456.51 178.99,460.02 179.14,463.33 179.29,466.17 179.45,468.26 179.60,469.43 179.75,469.56 179.90,468.65 180.05,466.78 180.20,464.11 180.35,460.89 180.50,457.41 180.65,453.97 180.80,450.88 180.95,448.42 181.10,446.81 181.25,446.18 181.41,446.59 181.56,448.00 181.71,450.28 181.86,453.22 182.01,456.56 182.16,459.98 182.31,463.19 182.46,465.89 182.61,467.84 182.76,468.87 182.91,468.88 183.06,467.87 183.21,465.93 183.37,463.24 183.52,460.04 183.67,456.62 183.82,453.27 183.97,450.31 184.12,447.98 184.27,446.51 184.42,446.02 184.57,446.54 184.72,448.03 184.87,450.35 185.02,453.29 185.17,456.59 185.32,459.93 185.48,463.03 185.63,465.60 185.78,467.41 185.93,468.30 186.08,468.18 186.23,467.08 186.38,465.09 186.53,462.38 186.68,459.20 186.83,455.84 186.98,452.59 187.13,449.75 187.28,447.57 187.44,446.23 187.59,445.87 187.74,446.50 187.89,448.06 188.04,450.42 188.19,453.35 188.34,456.60 188.49,459.86 188.64,462.84 188.79,465.28 188.94,466.95 189.09,467.71 189.24,467.48 189.40,466.29 189.55,464.24 189.70,461.52 189.85,458.38 190.00,455.08 190.15,451.94 190.30,449.22 190.45,447.17 190.60,445.98 190.75,445.73 190.90,446.46 191.05,448.09 191.20,450.48 191.35,453.40 191.51,456.59 191.66,459.77 191.81,462.64 191.96,464.94 192.11,466.48 192.26,467.10 192.41,466.76 192.56,465.49 192.71,463.40 192.86,460.68 193.01,457.56 193.16,454.34 193.31,451.30 193.47,448.71 193.62,446.80 193.77,445.73 193.92,445.61 194.07,446.44 194.22,448.13 194.37,450.55 194.52,453.45 194.67,456.59 194.82,459.68 194.97,462.44 195.12,464.62 195.27,466.03 195.43,466.53 195.58,466.09 195.73,464.75 195.88,462.62 196.03,459.90 196.18,456.83 196.33,453.69 196.48,450.75 196.63,448.28 196.78,446.51 196.93,445.57 197.08,445.57 197.23,446.48 197.38,448.24 197.54,450.67 197.69,453.55 197.84,456.64 197.99,459.64 198.14,462.28 198.29,464.34 198.44,465.61 198.59,466.00 198.74,465.46 198.89,464.04 199.04,461.88 199.19,459.16 199.34,456.13 199.50,453.07 199.65,450.23 199.80,447.89 199.95,446.24 200.10,445.43 200.25,445.53 200.40,446.53 200.55,448.34 200.70,450.78 200.85,453.64 201.00,456.67 201.15,459.57 201.30,462.10 201.46,464.03 201.61,465.18 201.76,465.45 201.91,464.82 202.06,463.34 202.21,461.14 202.36,458.43 202.51,455.45 202.66,452.46 202.81,449.73 202.96,447.51 203.11,445.99 203.26,445.30 203.41,445.51 203.57,446.58 203.72,448.43 203.87,450.89 204.02,453.72 204.17,456.68 204.32,459.49 204.47,461.91 204.62,463.71 204.77,464.74 204.92,464.89 205.07,464.17 205.22,462.63 205.37,460.41 205.53,457.72 205.68,454.78 205.83,451.88 205.98,449.26 206.13,447.15 206.28,445.75 206.43,445.18 206.58,445.49 206.73,446.64 206.88,448.53 207.03,450.98 207.18,453.78 207.33,456.67 207.49,459.39 207.64,461.69 207.79,463.37 207.94,464.27 208.09,464.32 208.24,463.52 208.39,461.92 208.54,459.69 208.69,457.01 208.84,454.13 208.99,451.31 209.14,448.80 209.29,446.81 209.44,445.54 209.60,445.08 209.75,445.48 209.90,446.70 210.05,448.62 210.20,451.07 210.35,453.83 210.50,456.65 210.65,459.27 210.80,461.45 210.95,463.01 211.10,463.80 211.25,463.74 211.40,462.86 211.56,461.22 211.71,458.97 211.86,456.32 212.01,453.50 212.16,450.77 212.31,448.36 212.46,446.50 212.61,445.34 212.76,444.99 212.91,445.48 213.06,446.76 213.21,448.71 213.36,451.15 213.52,453.86 213.67,456.60 213.82,459.12 213.97,461.19 214.12,462.63 214.27,463.31 214.42,463.16 214.57,462.20 214.72,460.52 214.87,458.26 215.02,455.64 215.17,452.88 215.32,450.24 215.47,447.94 215.63,446.20 215.78,445.16 215.93,444.91 216.08,445.49 216.23,446.82 216.38,448.79 216.53,451.22 216.68,453.88 216.83,456.54 216.98,458.96 217.13,460.92 217.28,462.24 217.43,462.80 217.59,462.56 217.74,461.53 217.89,459.82 218.04,457.56 218.19,454.97 218.34,452.28 218.49,449.73 218.64,447.54 218.79,445.91 218.94,444.99 219.09,444.85 219.24,445.50 219.39,446.88 219.55,448.86 219.70,451.27 219.85,453.88 220.00,456.46 220.15,458.78 220.30,460.62 220.45,461.83 220.60,462.28 220.75,461.95 220.90,460.87 221.05,459.12 221.20,456.87 221.35,454.32 221.50,451.70 221.66,449.24 221.81,447.16 221.96,445.65 222.11,444.83 222.26,444.79 222.41,445.51 222.56,446.93 222.71,448.93 222.86,451.31 223.01,453.87 223.16,456.37 223.31,458.58 223.46,460.31 223.62,461.40 223.77,461.76 223.92,461.34 224.07,460.20 224.22,458.43 224.37,456.19 224.52,453.68 224.67,451.13 224.82,448.77 224.97,446.80 225.12,445.40 225.27,444.69 225.42,444.74 225.58,445.53 225.73,446.99 225.88,448.99 226.03,451.34 226.18,453.84 226.33,456.25 226.48,458.36 226.63,459.98 226.78,460.96 226.93,461.22 227.08,460.72 227.23,459.53 227.38,457.74 227.53,455.52 227.69,453.06 227.84,450.59 227.99,448.33 228.14,446.47 228.29,445.18 228.44,444.57 228.59,444.71 228.74,445.56 228.89,447.06 229.04,449.07 229.19,451.40 229.34,453.84 229.49,456.18 229.65,458.19 229.80,459.71 229.95,460.60 230.10,460.77 230.25,460.21 230.40,458.97 230.55,457.16 230.70,454.95 230.85,452.53 231.00,450.13 231.15,447.94 231.30,446.18 231.45,444.99 231.61,444.49 231.76,444.70 231.91,445.62 232.06,447.16 232.21,449.17 232.36,451.47 232.51,453.86 232.66,456.12 232.81,458.05 232.96,459.47 233.11,460.25 233.26,460.33 233.41,459.70 233.56,458.41 233.72,456.59 233.87,454.39 234.02,452.02 234.17,449.67 234.32,447.58 234.47,445.91 234.62,444.83 234.77,444.41 234.92,444.71 235.07,445.68 235.22,447.25 235.37,449.26 235.52,451.54 235.68,453.87 235.83,456.05 235.98,457.89 236.13,459.21 236.28,459.89 236.43,459.89 236.58,459.19 236.73,457.86 236.88,456.02 237.03,453.84 237.18,451.51 237.33,449.24 237.48,447.23 237.64,445.66 237.79,444.67 237.94,444.35 238.09,444.72 238.24,445.75 238.39,447.34 238.54,449.34 238.69,451.59 238.84,453.86 238.99,455.97 239.14,457.71 239.29,458.93 239.44,459.52 239.59,459.44 239.75,458.68 239.90,457.31 240.05,455.46 240.20,453.30 240.35,451.02 240.50,448.82 240.65,446.89 240.80,445.42 240.95,444.53 241.10,444.29 241.25,444.73 241.40,445.81 241.55,447.42 241.71,449.42 241.86,451.63 242.01,453.84 242.16,455.87 242.31,457.52 242.46,458.64 242.61,459.14 242.76,458.98 242.91,458.16 243.06,456.76 243.21,454.91 243.36,452.77 243.51,450.54 243.67,448.41 243.82,446.57 243.97,445.20 244.12,444.40 244.27,444.25 244.42,444.75 244.57,445.87 244.72,447.50 244.87,449.49 245.02,451.66 245.17,453.81 245.32,455.75 245.47,457.31 245.62,458.34 245.78,458.75 245.93,458.51 246.08,457.64 246.23,456.21 246.38,454.36 246.53,452.25 246.68,450.07 246.83,448.02 246.98,446.27 247.13,444.99 247.28,444.28 247.43,444.21 247.58,444.78 247.74,445.94 247.89,447.58 248.04,449.55 248.19,451.67 248.34,453.76 248.49,455.62 248.64,457.08 248.79,458.02 248.94,458.35 249.09,458.04 249.24,457.12 249.39,455.67 249.54,453.82 249.70,451.75 249.85,449.62 250.00,447.64 250.15,445.98 250.30,444.79 250.45,444.17 250.60,444.18 250.75,444.81 250.90,446.00 251.05,447.65 251.20,449.60 251.35,451.68 251.50,453.70 251.65,455.47 251.81,456.85 251.96,457.69 252.11,457.94 252.26,457.56 252.41,456.60 252.56,455.13 252.71,453.29 252.86,451.25 253.01,449.19 253.16,447.28 253.31,445.71 253.46,444.61 253.61,444.08 253.77,444.16 253.92,444.84 254.07,446.06 254.22,447.71 254.37,449.64 254.52,451.67 254.67,453.62 254.82,455.31 254.97,456.59 255.12,457.35 255.27,457.52 255.42,457.08 255.57,456.08 255.73,454.59 255.88,452.77 256.03,450.77 256.18,448.76 256.33,446.94 256.48,445.45 256.63,444.44 256.78,443.99 256.93,444.14 257.08,444.87 257.23,446.12 257.38,447.77 257.53,449.67 257.69,451.64 257.84,453.52 257.99,455.13 258.14,456.33 258.29,457.00 258.44,457.09 258.59,456.60 258.74,455.56 258.89,454.06 259.04,452.26 259.19,450.29 259.34,448.35 259.49,446.61 259.64,445.21 259.80,444.28 259.95,443.91 260.10,444.13 260.25,444.90 260.40,446.17 260.55,447.82 260.70,449.68 260.85,451.61 261.00,453.42 261.15,454.94 261.30,456.05 261.45,456.64 261.60,456.67 261.76,456.12 261.91,455.05 262.06,453.55 262.21,451.76 262.36,449.84 262.51,447.96 262.66,446.29 262.81,444.98 262.96,444.14 263.11,443.84 263.26,444.12 263.41,444.94 263.56,446.22 263.71,447.86 263.87,449.70 264.02,451.57 264.17,453.31 264.32,454.76 264.47,455.79 264.62,456.30 264.77,456.25 264.92,455.65 265.07,454.55 265.22,453.05 265.37,451.28 265.52,449.40 265.67,447.59 265.83,445.99 265.98,444.76 266.13,444.00 266.28,443.78 266.43,444.11 266.58,444.97 266.73,446.27 266.88,447.90 267.03,449.70 267.18,451.52 267.33,453.19 267.48,454.56 267.63,455.51 267.79,455.95 267.94,455.84 268.09,455.19 268.24,454.06 268.39,452.56 268.54,450.81 268.69,448.98 268.84,447.22 268.99,445.70 269.14,444.55 269.29,443.87 269.44,443.72 269.59,444.11 269.75,445.00 269.90,446.31 270.05,447.93 270.20,449.70 270.35,451.46 270.50,453.06 270.65,454.35 270.80,455.22 270.95,455.58 271.10,455.41 271.25,454.72 271.40,453.57 271.55,452.07 271.70,450.35 271.86,448.57 272.01,446.88 272.16,445.43 272.31,444.36 272.46,443.75 272.61,443.67 272.76,444.11 272.91,445.03 273.06,446.35 273.21,447.95 273.36,449.68 273.51,451.39 273.66,452.92 273.82,454.13 273.97,454.92 274.12,455.21 274.27,454.98 274.42,454.25 274.57,453.09 274.72,451.59 274.87,449.90 275.02,448.17 275.17,446.54 275.32,445.17 275.47,444.17 275.62,443.64 275.77,443.62 275.93,444.11 276.08,445.06 276.23,446.38 276.38,447.96 276.53,449.65 276.68,451.30 276.83,452.76 276.98,453.90 277.13,454.61 277.28,454.83 277.43,454.55 277.58,453.78 277.73,452.61 277.89,451.12 278.04,449.46 278.19,447.78 278.34,446.22 278.49,444.92 278.64,444.00 278.79,443.54 278.94,443.58 279.09,444.11 279.24,445.09 279.39,446.41 279.54,447.97 279.69,449.61 279.85,451.20 280.00,452.59 280.15,453.65 280.30,454.29 280.45,454.45 280.60,454.11 280.75,453.32 280.90,452.13 281.05,450.66 281.20,449.03 281.35,447.40 281.50,445.91 281.65,444.69 281.80,443.84 281.96,443.45 282.11,443.55 282.26,444.12 282.41,445.11 282.56,446.43 282.71,447.96 282.86,449.56 283.01,451.09 283.16,452.40 283.31,453.39 283.46,453.96 283.61,454.05 283.76,453.67 283.92,452.85 284.07,451.66 284.22,450.20 284.37,448.61 284.52,447.04 284.67,445.61 284.82,444.46 284.97,443.70 285.12,443.37 285.27,443.52 285.42,444.12 285.57,445.13 285.72,446.44 285.88,447.94 286.03,449.50 286.18,450.96 286.33,452.21 286.48,453.12 286.63,453.62 286.78,453.65 286.93,453.23 287.08,452.38 287.23,451.19 287.38,449.75 287.53,448.21 287.68,446.69 287.83,445.33 287.99,444.25 288.14,443.56 288.29,443.30 288.44,443.49 288.59,444.13 288.74,445.15 288.89,446.45 289.04,447.92 289.19,449.42 289.34,450.82 289.49,452.00 289.64,452.84 289.79,453.27 289.95,453.25 290.10,452.79 290.25,451.92 290.40,450.73 290.55,449.32 290.70,447.81 290.85,446.35 291.00,445.06 291.15,444.06 291.30,443.43 291.45,443.23 291.60,443.47 291.75,444.14 291.91,445.16 292.06,446.45 292.21,447.88 292.36,449.33 292.51,450.67 292.66,451.78 292.81,452.54 292.96,452.91 293.11,452.84 293.26,452.34 293.41,451.46 293.56,450.27 293.71,448.89 293.86,447.43 294.02,446.03 294.17,444.80 294.32,443.87 294.47,443.31 294.62,443.16 294.77,443.45 294.92,444.14 295.07,445.17 295.22,446.45 295.37,447.85 295.52,449.25 295.67,450.54 295.82,451.58 295.98,452.28 296.13,452.59 296.28,452.48 296.43,451.95 296.58,451.05 296.73,449.87 296.88,448.51 297.03,447.09 297.18,445.74 297.33,444.58 297.48,443.71 297.63,443.20 297.78,443.11 297.94,443.44 298.09,444.16 298.24,445.19 298.39,446.46 298.54,447.83 298.69,449.19 298.84,450.42 298.99,451.40 299.14,452.04 299.29,452.29 299.44,452.13 299.59,451.57 299.74,450.66 299.89,449.48 300.05,448.14 300.20,446.76 300.35,445.46 300.50,444.36 300.65,443.55 300.80,443.11 300.95,443.07 301.10,443.44 301.25,444.17 301.40,445.21 301.55,446.46 301.70,447.80 301.85,449.12 302.01,450.29 302.16,451.20 302.31,451.79 302.46,451.99 302.61,451.78 302.76,451.19 302.91,450.27 303.06,449.10 303.21,447.78 303.36,446.44 303.51,445.19 303.66,444.15 303.81,443.40 303.97,443.02 304.12,443.03 304.27,443.43 304.42,444.19 304.57,445.23 304.72,446.46 304.87,447.77 305.02,449.03 305.17,450.15 305.32,451.00 305.47,451.53 305.62,451.67 305.77,451.43 305.92,450.81 306.08,449.88 306.23,448.72 306.38,447.43 306.53,446.13 306.68,444.94 306.83,443.95 306.98,443.27 307.13,442.94 307.28,442.99 307.43,443.43 307.58,444.20 307.73,445.24 307.88,446.45 308.04,447.72 308.19,448.94 308.34,450.00 308.49,450.79 308.64,451.26 308.79,451.36 308.94,451.07 309.09,450.43 309.24,449.50 309.39,448.35 309.54,447.09 309.69,445.83 309.84,444.69 310.00,443.77 310.15,443.14 310.30,442.86 310.45,442.96 310.60,443.42 310.75,444.21 310.90,445.24 311.05,446.43 311.20,447.67 311.35,448.84 311.50,449.84 311.65,450.59 311.80,451.00 311.95,451.06 312.11,450.74 312.26,450.08 312.41,449.14 312.56,448.01 312.71,446.78 312.86,445.56 313.01,444.47 313.16,443.60 313.31,443.02 313.46,442.79 313.61,442.93 313.76,443.43 313.91,444.23 314.07,445.26 314.22,446.44 314.37,447.64 314.52,448.78 314.67,449.73 314.82,450.42 314.97,450.79 315.12,450.80 315.27,450.44 315.42,449.76 315.57,448.82 315.72,447.69 315.87,446.49 316.03,445.31 316.18,444.26 316.33,443.44 316.48,442.92 316.63,442.74 316.78,442.91 316.93,443.43 317.08,444.25 317.23,445.28 317.38,446.44 317.53,447.61 317.68,448.70 317.83,449.61 317.98,450.25 318.14,450.57 318.29,450.53 318.44,450.15 318.59,449.45 318.74,448.50 318.89,447.38 319.04,446.20 319.19,445.06 319.34,444.06 319.49,443.29 319.64,442.82 319.79,442.68 319.94,442.90 320.10,443.44 320.25,444.27 320.40,445.29 320.55,446.43 320.70,447.57 320.85,448.62 321.00,449.48 321.15,450.07 321.30,450.34 321.45,450.26 321.60,449.85 321.75,449.13 321.90,448.18 322.06,447.08 322.21,445.93 322.36,444.82 322.51,443.87 322.66,443.15 322.81,442.72 322.96,442.63 323.11,442.88 323.26,443.45 323.41,444.28 323.56,445.30 323.71,446.42 323.86,447.53 324.01,448.53 324.17,449.34 324.32,449.88 324.47,450.10 324.62,449.99 324.77,449.55 324.92,448.82 325.07,447.87 325.22,446.78 325.37,445.66 325.52,444.59 325.67,443.68 325.82,443.01 325.97,442.64 326.13,442.59 326.28,442.87 326.43,443.46 326.58,444.29 326.73,445.30 326.88,446.40 327.03,447.47 327.18,448.43 327.33,449.19 327.48,449.69 327.63,449.86 327.78,449.71 327.93,449.25 328.09,448.51 328.24,447.56 328.39,446.49 328.54,445.40 328.69,444.37 328.84,443.51 328.99,442.88 329.14,442.55 329.29,442.55 329.44,442.86 329.59,443.46 329.74,444.30 329.89,445.30 330.04,446.37 330.20,447.41 330.35,448.33 330.50,449.04 330.65,449.48 330.80,449.62 330.95,449.44 331.10,448.95 331.25,448.20 331.40,447.26 331.55,446.21 331.70,445.14 331.85,444.16 332.00,443.34 332.16,442.76 332.31,442.48 332.46,442.51 332.61,442.85 332.76,443.47 332.91,444.31 333.06,445.29 333.21,446.34 333.36,447.34 333.51,448.21 333.66,448.88 333.81,449.28 333.96,449.37 334.12,449.15 334.27,448.65 334.42,447.89 334.57,446.96 334.72,445.93 334.87,444.89 335.02,443.95 335.17,443.18 335.32,442.65 335.47,442.41 335.62,442.47 335.77,442.84 335.92,443.47 336.07,444.31 336.23,445.28 336.38,446.29 336.53,447.26 336.68,448.09 336.83,448.71 336.98,449.07 337.13,449.12 337.28,448.88 337.43,448.35 337.58,447.59 337.73,446.67 337.88,445.66 338.03,444.66 338.19,443.76 338.34,443.03 338.49,442.55 338.64,442.35 338.79,442.45 338.94,442.84 339.09,443.48 339.24,444.32 339.39,445.27 339.54,446.26 339.69,447.20 339.84,447.99 339.99,448.56 340.15,448.88 340.30,448.90 340.45,448.62 340.60,448.08 340.75,447.31 340.90,446.40 341.05,445.41 341.20,444.44 341.35,443.58 341.50,442.90 341.65,442.46 341.80,442.29 341.95,442.43 342.10,442.84 342.26,443.49 342.41,444.33 342.56,445.27 342.71,446.23 342.86,447.12 343.01,447.87 343.16,448.41 343.31,448.68 343.46,448.66 343.61,448.36 343.76,447.80 343.91,447.04 344.06,446.13 344.22,445.17 344.37,444.23 344.52,443.41 344.67,442.77 344.82,442.37 344.97,442.25 345.12,442.41 345.27,442.84 345.42,443.50 345.57,444.33 345.72,445.25 345.87,446.19 346.02,447.04 346.18,447.75 346.33,448.24 346.48,448.48 346.63,448.43 346.78,448.10 346.93,447.53 347.08,446.77 347.23,445.87 347.38,444.93 347.53,444.03 347.68,443.24 347.83,442.65 347.98,442.29 348.13,442.20 348.29,442.39 348.44,442.84 348.59,443.50 348.74,444.33 348.89,445.23 349.04,446.14 349.19,446.96 349.34,447.63 349.49,448.08 349.64,448.27 349.79,448.19 349.94,447.84 350.09,447.26 350.25,446.50 350.40,445.62 350.55,444.70 350.70,443.83 350.85,443.09 351.00,442.53 351.15,442.21 351.30,442.16 351.45,442.37 351.60,442.84 351.75,443.51 351.90,444.32 352.05,445.21 352.21,446.08 352.36,446.87 352.51,447.49 352.66,447.90 352.81,448.06 352.96,447.95 353.11,447.58 353.26,446.99 353.41,446.23 353.56,445.37 353.71,444.48 353.86,443.64 354.01,442.94 354.16,442.42 354.32,442.14 354.47,442.12 354.62,442.36 354.77,442.84 354.92,443.51 355.07,444.31 355.22,445.17 355.37,446.02 355.52,446.77 355.67,447.35 355.82,447.72 355.97,447.84 356.12,447.71 356.28,447.32 356.43,446.72 356.58,445.97 356.73,445.12 356.88,444.26 357.03,443.46 357.18,442.79 357.33,442.32 357.48,442.07 357.63,442.08 357.78,442.35 357.93,442.84 358.08,443.51 358.24,444.30 358.39,445.14 358.54,445.95 358.69,446.66 358.84,447.20 358.99,447.54 359.14,447.62 359.29,447.46 359.44,447.06 359.59,446.46 359.74,445.71 359.89,444.88 360.04,444.05 360.19,443.29 360.35,442.66 360.50,442.22 360.65,442.01 360.80,442.05 360.95,442.33 361.10,442.83 361.25,443.50 361.40,444.28 361.55,445.09 361.70,445.87 361.85,446.54 362.00,447.05 362.15,447.35 362.31,447.40 362.46,447.22 362.61,446.80 362.76,446.20 362.91,445.46 363.06,444.65 363.21,443.85 363.36,443.12 363.51,442.53 363.66,442.13 363.81,441.95 363.96,442.02 364.11,442.32 364.27,442.83 364.42,443.49 364.57,444.25 364.72,445.04 364.87,445.79 365.02,446.42 365.17,446.89 365.32,447.15 365.47,447.18 365.62,446.97 365.77,446.54 365.92,445.94 366.07,445.21 366.22,444.43 366.38,443.65 366.53,442.96 366.68,442.40 366.83,442.04 366.98,441.90 367.13,441.99 367.28,442.31 367.43,442.82 367.58,443.48 367.73,444.22 367.88,444.98 368.03,445.70 368.18,446.30 368.34,446.73 368.49,446.95 368.64,446.95 368.79,446.72 368.94,446.29 369.09,445.68 369.24,444.97 369.39,444.21 369.54,443.46 369.69,442.80 369.84,442.29 369.99,441.96 370.14,441.85 370.30,441.97 370.45,442.30 370.60,442.81 370.75,443.46 370.90,444.19 371.05,444.93 371.20,445.61 371.35,446.18 371.50,446.58 371.65,446.77 371.80,446.75 371.95,446.50 372.10,446.06 372.25,445.46 372.41,444.76 372.56,444.01 372.71,443.29 372.86,442.67 373.01,442.18 373.16,441.89 373.31,441.81 373.46,441.95 373.61,442.29 373.76,442.81 373.91,443.46 374.06,444.18 374.21,444.90 374.37,445.56 374.52,446.09 374.67,446.46 374.82,446.63 374.97,446.57 375.12,446.31 375.27,445.86 375.42,445.26 375.57,444.56 375.72,443.83 375.87,443.14 376.02,442.54 376.17,442.09 376.33,441.82 376.48,441.77 376.63,441.93 376.78,442.29 376.93,442.82 377.08,443.46 377.23,444.16 377.38,444.86 377.53,445.49 377.68,446.00 377.83,446.34 377.98,446.48 378.13,446.40 378.28,446.12 378.44,445.66 378.59,445.05 378.74,444.37 378.89,443.66 379.04,442.99 379.19,442.42 379.34,441.99 379.49,441.76 379.64,441.73 379.79,441.91 379.94,442.29 380.09,442.82 380.24,443.46 380.40,444.15 380.55,444.82 380.70,445.43 380.85,445.91 381.00,446.21 381.15,446.32 381.30,446.22 381.45,445.92 381.60,445.45 381.75,444.85 381.90,444.18 382.05,443.49 382.20,442.84 382.36,442.30 382.51,441.91 382.66,441.70 382.81,441.70 382.96,441.90 383.11,442.28 383.26,442.82 383.41,443.45 383.56,444.12 383.71,444.78 383.86,445.36 384.01,445.80 384.16,446.08 384.31,446.16 384.47,446.04 384.62,445.73 384.77,445.25 384.92,444.66 385.07,443.99 385.22,443.32 385.37,442.70 385.52,442.18 385.67,441.82 385.82,441.65 385.97,441.67 386.12,441.89 386.27,442.28 386.43,442.81 386.58,443.44 386.73,444.10 386.88,444.73 387.03,445.28 387.18,445.70 387.33,445.95 387.48,446.00 387.63,445.86 387.78,445.54 387.93,445.06 388.08,444.46 388.23,443.81 388.39,443.16 388.54,442.56 388.69,442.08 388.84,441.74 388.99,441.59 389.14,441.64 389.29,441.87 389.44,442.27 389.59,442.81 389.74,443.42 389.89,444.06 390.04,444.67 390.19,445.20 390.34,445.59 390.50,445.81 390.65,445.84 390.80,445.68 390.95,445.34 391.10,444.86 391.25,444.27 391.40,443.63 391.55,443.00 391.70,442.43 391.85,441.97 392.00,441.67 392.15,441.54 392.30,441.61 392.46,441.86 392.61,442.27 392.76,442.80 392.91,443.40 393.06,444.03 393.21,444.62 393.36,445.11 393.51,445.47 393.66,445.67 393.81,445.68 393.96,445.50 394.11,445.15 394.26,444.67 394.42,444.08 394.57,443.46 394.72,442.85 394.87,442.30 395.02,441.87 395.17,441.60 395.32,441.50 395.47,441.58 395.62,441.85 395.77,442.26 395.92,442.79 396.07,443.38 396.22,443.99 396.38,444.55 396.53,445.02 396.68,445.35 396.83,445.52 396.98,445.51 397.13,445.31 397.28,444.96 397.43,444.47 397.58,443.90 397.73,443.29 397.88,442.70 398.03,442.18 398.18,441.78 398.33,441.53 398.49,441.46 398.64,441.56 398.79,441.83 398.94,442.25 399.09,442.78 399.24,443.36 399.39,443.94 399.54,444.48 399.69,444.93 399.84,445.23 399.99,445.37 400.14,445.34 400.29,445.13 400.45,444.77 400.60,444.28 400.75,443.72 400.90,443.13 401.05,442.56 401.20,442.06 401.35,441.69 401.50,441.47 401.65,441.41 401.80,441.54 401.95,441.82 402.10,442.24 402.25,442.76 402.40,443.33 402.56,443.89 402.71,444.41 402.86,444.82 403.01,445.10 403.16,445.22 403.31,445.17 403.46,444.95 403.61,444.58 403.76,444.10 403.91,443.54 404.06,442.97 404.21,442.42 404.36,441.96 404.52,441.61 404.67,441.41 404.82,441.38 404.97,441.52 405.12,441.81 405.27,442.24 405.42,442.75 405.57,443.31 405.72,443.86 405.87,444.35 406.02,444.74 406.17,445.00 406.32,445.10 406.48,445.03 406.63,444.79 406.78,444.42 406.93,443.94 407.08,443.39 407.23,442.83 407.38,442.30 407.53,441.86 407.68,441.53 407.83,441.36 407.98,441.35 408.13,441.50 408.28,441.81 408.44,442.23 408.59,442.74 408.74,443.29 408.89,443.82 409.04,444.30 409.19,444.67 409.34,444.90 409.49,444.97 409.64,444.88 409.79,444.64 409.94,444.26 410.09,443.78 410.24,443.24 410.39,442.69 410.55,442.19 410.70,441.76 410.85,441.46 411.00,441.31 411.15,441.32 411.30,441.49 411.45,441.80 411.60,442.23 411.75,442.73 411.90,443.27 412.05,443.79 412.20,444.24 412.35,444.58 412.51,444.79 412.66,444.85 412.81,444.74 412.96,444.48 413.11,444.10 413.26,443.62 413.41,443.09 413.56,442.56 413.71,442.07 413.86,441.67 414.01,441.40 414.16,441.27 414.31,441.29 414.46,441.48 414.62,441.80 414.77,442.23 414.92,442.72 415.07,443.25 415.22,443.74 415.37,444.18 415.52,444.50 415.67,444.69 415.82,444.72 415.97,444.60 416.12,444.33 416.27,443.94 416.42,443.47 416.58,442.95 416.73,442.43 416.88,441.96 417.03,441.59 417.18,441.33 417.33,441.22 417.48,441.27 417.63,441.46 417.78,441.79 417.93,442.22 418.08,442.71 418.23,443.22 418.38,443.70 418.54,444.11 418.69,444.41 418.84,444.57 418.99,444.59 419.14,444.45 419.29,444.18 419.44,443.79 419.59,443.31 419.74,442.81 419.89,442.31 420.04,441.86 420.19,441.50 420.34,441.27 420.49,441.18 420.65,441.24 420.80,441.45 420.95,441.78 421.10,442.21 421.25,442.69 421.40,443.19 421.55,443.65 421.70,444.04 421.85,444.32 422.00,444.46 422.15,444.46 422.30,444.31 422.45,444.02 422.61,443.63 422.76,443.17 422.91,442.67 423.06,442.19 423.21,441.76 423.36,441.42 423.51,441.21 423.66,441.14 423.81,441.22 423.96,441.44 424.11,441.78 424.26,442.20 424.41,442.67 424.57,443.15 424.72,443.60 424.87,443.96 425.02,444.22 425.17,444.34 425.32,444.32 425.47,444.16 425.62,443.87 425.77,443.48 425.92,443.02 426.07,442.53 426.22,442.07 426.37,441.66 426.52,441.35 426.68,441.16 426.83,441.11 426.98,441.20 427.13,441.43 427.28,441.77 427.43,442.19 427.58,442.65 427.73,443.12 427.88,443.54 428.03,443.89 428.18,444.12 428.33,444.23 428.48,444.19 428.64,444.01 428.79,443.72 428.94,443.33 429.09,442.87 429.24,442.40 429.39,441.95 429.54,441.57 429.69,441.28 429.84,441.11 429.99,441.07 430.14,441.18 430.29,441.41 430.44,441.76 430.60,442.17 430.75,442.63 430.90,443.08 431.05,443.48 431.20,443.81 431.35,444.02 431.50,444.10 431.65,444.05 431.80,443.87 431.95,443.57 432.10,443.18 432.25,442.73 432.40,442.27 432.55,441.84 432.71,441.48 432.86,441.21 433.01,441.06 433.16,441.04 433.31,441.16 433.46,441.40 433.61,441.74 433.76,442.15 433.91,442.60 434.06,443.03 434.21,443.42 434.36,443.72 434.51,443.91 434.67,443.98 434.82,443.91 434.97,443.72 435.12,443.42 435.27,443.03 435.42,442.59 435.57,442.15 435.72,441.74 435.87,441.39 436.02,441.14 436.17,441.01 436.32,441.01 436.47,441.14 436.63,441.39 436.78,441.73 436.93,442.13 437.08,442.57 437.23,442.98 437.38,443.35 437.53,443.63 437.68,443.80 437.83,443.85 437.98,443.77 438.13,443.57 438.28,443.26 438.43,442.88 438.58,442.46 438.74,442.03 438.89,441.64 439.04,441.31 439.19,441.09 439.34,440.98 439.49,440.99 439.64,441.13 439.79,441.38 439.94,441.72 440.09,442.11 440.24,442.53 440.39,442.93 440.54,443.27 440.70,443.53 440.85,443.68 441.00,443.71 441.15,443.62 441.30,443.41 441.45,443.11 441.60,442.74 441.75,442.33 441.90,441.92 442.05,441.55 442.20,441.24 442.35,441.04 442.50,440.95 442.66,440.98 442.81,441.13 442.96,441.38 443.11,441.71 443.26,442.09 443.41,442.49 443.56,442.87 443.71,443.19 443.86,443.42 444.01,443.56 444.16,443.57 444.31,443.47 444.46,443.26 444.61,442.96 444.77,442.59 444.92,442.20 445.07,441.81 445.22,441.46 445.37,441.18 445.52,440.99 445.67,440.92 445.82,440.96 445.97,441.12 446.12,441.37 446.27,441.69 446.42,442.06 446.57,442.44 446.73,442.80 446.88,443.10 447.03,443.32 447.18,443.43 447.33,443.43 447.48,443.32 447.63,443.11 447.78,442.81 447.93,442.45 448.08,442.07 448.23,441.70 448.38,441.38 448.53,441.12 448.69,440.95 448.84,440.90 448.99,440.95 449.14,441.11 449.29,441.36 449.44,441.68 449.59,442.03 449.74,442.39 449.89,442.73 450.04,443.01 450.19,443.20 450.34,443.30 450.49,443.29 450.64,443.17 450.80,442.95 450.95,442.66 451.10,442.32 451.25,441.96 451.40,441.60 451.55,441.30 451.70,441.06 451.85,440.91 452.00,440.87 452.15,440.94 452.30,441.10 452.45,441.35 452.60,441.66 452.76,442.00 452.91,442.34 453.06,442.66 453.21,442.91 453.36,443.09 453.51,443.17 453.66,443.14 453.81,443.02 453.96,442.81 454.11,442.52" stroke="#00f" stroke-width="1.25"/>
<path d="M79.50,438.90 79.65,438.98 79.80,439.05 79.95,439.10 80.10,439.13 80.25,439.14 80.40,439.13 80.56,439.09 80.71,439.04 80.86,438.97 81.01,438.89 81.16,438.81 81.31,438.74 81.46,438.68 81.61,438.64 81.76,438.62 81.91,438.63 82.06,438.66 82.21,438.70 82.36,438.77 82.52,438.84 82.67,438.92 82.82,438.99 82.97,439.06 83.12,439.11 83.27,439.14 83.42,439.14 83.57,439.13 83.72,439.09 83.87,439.03 84.02,438.96 84.17,438.89 84.32,438.81 84.47,438.74 84.63,438.69 84.78,438.65 84.93,438.64 85.08,438.64 85.23,438.67 85.38,438.72 85.53,438.79 85.68,438.86 85.83,438.94 85.98,439.01 86.13,439.07 86.28,439.11 86.43,439.14 86.59,439.14 86.74,439.13 86.89,439.09 87.04,439.03 87.19,438.96 87.34,438.89 87.49,438.81 87.64,438.75 87.79,438.69 87.94,438.66 88.09,438.65 88.24,438.66 88.39,438.69 88.55,438.74 88.70,438.80 88.85,438.88 89.00,438.95 89.15,439.02 89.30,439.08 89.45,439.12 89.60,439.14 89.75,439.15 89.90,439.12 90.05,439.08 90.20,439.03 90.35,438.96 90.50,438.88 90.66,438.81 90.81,438.75 90.96,438.70 91.11,438.67 91.26,438.66 91.41,438.67 91.56,438.70 91.71,438.76 91.86,438.82 92.01,438.89 92.16,438.96 92.31,439.03 92.46,439.09 92.62,439.13 92.77,439.15 92.92,439.15 93.07,439.12 93.22,439.08 93.37,439.02 93.52,438.96 93.67,438.88 93.82,438.81 93.97,438.75 94.12,438.71 94.27,438.68 94.42,438.67 94.58,438.69 94.73,438.72 94.88,438.77 95.03,438.84 95.18,438.91 95.33,438.98 95.48,439.04 95.63,439.10 95.78,439.13 95.93,439.15 96.08,439.15 96.23,439.12 96.38,439.08 96.53,439.02 96.69,438.95 96.84,438.88 96.99,438.82 97.14,438.76 97.29,438.71 97.44,438.69 97.59,438.68 97.74,438.70 97.89,438.74 98.04,438.79 98.19,438.85 98.34,438.92 98.49,438.99 98.65,439.05 98.80,439.10 98.95,439.14 99.10,439.15 99.25,439.15 99.40,439.12 99.55,439.07 99.70,439.02 99.85,438.95 100.00,438.88 100.15,438.82 100.30,438.76 100.45,438.72 100.60,438.70 100.76,438.70 100.91,438.71 101.06,438.75 101.21,438.80 101.36,438.87 101.51,438.94 101.66,439.00 101.81,439.06 101.96,439.11 102.11,439.14 102.26,439.15 102.41,439.15 102.56,439.12 102.72,439.07 102.87,439.01 103.02,438.95 103.17,438.88 103.32,438.82 103.47,438.77 103.62,438.73 103.77,438.71 103.92,438.71 104.07,438.73 104.22,438.77 104.37,438.82 104.52,438.88 104.68,438.95 104.83,439.02 104.98,439.07 105.13,439.12 105.28,439.15 105.43,439.16 105.58,439.15 105.73,439.12 105.88,439.07 106.03,439.01 106.18,438.95 106.33,438.88 106.48,438.82 106.63,438.77 106.79,438.74 106.94,438.72 107.09,438.72 107.24,438.74 107.39,438.78 107.54,438.84 107.69,438.90 107.84,438.96 107.99,439.03 108.14,439.08 108.29,439.13 108.44,439.15 108.59,439.16 108.75,439.14 108.90,439.11 109.05,439.07 109.20,439.01 109.35,438.94 109.50,438.88 109.65,438.82 109.80,438.78 109.95,438.74 110.10,438.73 110.25,438.73 110.40,438.76 110.55,438.80 110.71,438.85 110.86,438.91 111.01,438.98 111.16,439.04 111.31,439.09 111.46,439.13 111.61,439.15 111.76,439.16 111.91,439.14 112.06,439.11 112.21,439.06 112.36,439.01 112.51,438.94 112.66,438.88 112.82,438.82 112.97,438.78 113.12,438.75 113.27,438.74 113.42,438.75 113.57,438.77 113.72,438.81 113.87,438.87 114.02,438.93 114.17,438.99 114.32,439.05 114.47,439.10 114.62,439.14 114.78,439.16 114.93,439.16 115.08,439.14 115.23,439.11 115.38,439.06 115.53,439.00 115.68,438.94 115.83,438.88 115.98,438.83 116.13,438.79 116.28,438.76 116.43,438.75 116.58,438.76 116.74,438.79 116.89,438.83 117.04,438.88 117.19,438.94 117.34,439.00 117.49,439.06 117.64,439.11 117.79,439.14 117.94,439.16 118.09,439.16 118.24,439.14 118.39,439.11 118.54,439.06 118.69,439.00 118.85,438.94 119.00,438.88 119.15,438.83 119.30,438.79 119.45,438.77 119.60,438.76 119.75,438.77 119.90,438.80 120.05,438.84 120.20,438.90 120.35,438.96 120.50,439.02 120.65,439.07 120.81,439.12 120.96,439.15 121.11,439.16 121.26,439.16 121.41,439.14 121.56,439.10 121.71,439.06 121.86,439.00 122.01,438.94 122.16,438.88 122.31,438.83 122.46,438.80 122.61,438.77 122.77,438.77 122.92,438.78 123.07,438.81 123.22,438.86 123.37,438.91 123.52,438.97 123.67,439.03 123.82,439.08 123.97,439.12 124.12,439.15 124.27,439.17 124.42,439.16 124.57,439.14 124.72,439.10 124.88,439.05 125.03,439.00 125.18,438.94 125.33,438.88 125.48,438.84 125.63,438.80 125.78,438.78 125.93,438.78 126.08,438.79 126.23,438.83 126.38,438.87 126.53,438.92 126.68,438.98 126.84,439.04 126.99,439.09 127.14,439.13 127.29,439.16 127.44,439.17 127.59,439.16 127.74,439.14 127.89,439.10 128.04,439.05 128.19,439.00 128.34,438.94 128.49,438.89 128.64,438.84 128.80,438.81 128.95,438.79 129.10,438.79 129.25,438.81 129.40,438.84 129.55,438.88 129.70,438.94 129.85,438.99 130.00,439.05 130.15,439.10 130.30,439.14 130.45,439.16 130.60,439.17 130.75,439.16 130.91,439.14 131.06,439.10 131.21,439.05 131.36,439.00 131.51,438.94 131.66,438.89 131.81,438.85 131.96,438.81 132.11,438.80 132.26,438.80 132.41,438.82 132.56,438.85 132.71,438.90 132.87,438.95 133.02,439.01 133.17,439.06 133.32,439.11 133.47,439.14 133.62,439.17 133.77,439.17 133.92,439.16 134.07,439.14 134.22,439.10 134.37,439.05 134.52,438.99 134.67,438.94 134.83,438.89 134.98,438.85 135.13,438.82 135.28,438.81 135.43,438.81 135.58,438.83 135.73,438.87 135.88,438.91 136.03,438.96 136.18,439.02 136.33,439.07 136.48,439.11 136.63,439.15 136.78,439.17 136.94,439.17 137.09,439.16 137.24,439.13 137.39,439.09 137.54,439.05 137.69,438.99 137.84,438.94 137.99,438.89 138.14,438.85 138.29,438.83 138.44,438.82 138.59,438.82 138.74,438.84 138.90,438.88 139.05,438.92 139.20,438.97 139.35,439.03 139.50,439.08 139.65,439.12 139.80,439.15 139.95,439.17 140.10,439.17 140.25,439.16 140.40,439.13 140.55,439.09 140.70,439.04 140.86,438.99 141.01,438.94 141.16,438.89 141.31,438.86 141.46,438.83 141.61,438.83 141.76,438.83 141.91,438.86 142.06,438.89 142.21,438.94 142.36,438.99 142.51,439.04 142.66,439.09 142.81,439.13 142.97,439.16 143.12,439.17 143.27,439.17 143.42,439.16 143.57,439.13 143.72,439.09 143.87,439.04 144.02,438.99 144.17,438.94 144.32,438.90 144.47,438.86 144.62,438.84 144.77,438.83 144.93,438.84 145.08,438.87 145.23,438.90 145.38,438.95 145.53,439.00 145.68,439.05 145.83,439.10 145.98,439.14 146.13,439.16 146.28,439.18 146.43,439.18 146.58,439.16 146.73,439.13 146.89,439.09 147.04,439.04 147.19,438.99 147.34,438.94 147.49,438.90 147.64,438.87 147.79,438.85 147.94,438.84 148.09,438.85 148.24,438.88 148.39,438.91 148.54,438.96 148.69,439.01 148.84,439.06 149.00,439.10 149.15,439.14 149.30,439.17 149.45,439.18 149.60,439.18 149.75,439.16 149.90,439.13 150.05,439.09 150.20,439.04 150.35,438.99 150.50,438.94 150.65,438.90 150.80,438.87 150.96,438.86 151.11,438.85 151.26,438.86 151.41,438.89 151.56,438.93 151.71,438.97 151.86,439.02 152.01,439.07 152.16,439.11 152.31,439.15 152.46,439.17 152.61,439.18 152.76,439.18 152.92,439.16 153.07,439.13 153.22,439.09 153.37,439.04 153.52,438.99 153.67,438.95 153.82,438.91 153.97,438.88 154.12,438.86 154.27,438.86 154.42,438.88 154.57,438.90 154.72,438.94 154.88,438.98 155.03,439.03 155.18,439.08 155.33,439.12 155.48,439.15 155.63,439.18 155.78,439.18 155.93,439.18 156.08,439.16 156.23,439.12 156.38,439.08 156.53,439.04 156.68,438.99 156.83,438.95 156.99,438.91 157.14,438.88 157.29,438.87 157.44,438.87 157.59,438.89 157.74,438.91 157.89,438.95 158.04,438.99 158.19,439.04 158.34,439.09 158.49,439.13 158.64,439.16 158.79,439.18 158.95,439.18 159.10,439.18 159.25,439.16 159.40,439.12 159.55,439.08 159.70,439.04 159.85,438.99 160.00,438.95 160.15,438.91 160.30,438.89 160.45,438.88 160.60,438.88 160.75,438.90 160.90,438.92 161.06,438.96 161.21,439.01 161.36,439.05 161.51,439.10 161.66,439.13 161.81,439.16 161.96,439.18 162.11,439.19 162.26,439.18 162.41,439.15 162.56,439.12 162.71,439.08 162.86,439.04 163.02,438.99 163.17,438.95 163.32,438.92 163.47,438.90 163.62,438.89 163.77,438.89 163.92,438.91 164.07,438.93 164.22,438.97 164.37,439.02 164.52,439.06 164.67,439.10 164.82,439.14 164.98,439.17 165.13,439.18 165.28,439.19 165.43,439.18 165.58,439.15 165.73,439.12 165.88,439.08 166.03,439.04 166.18,438.99 166.33,438.95 166.48,438.92 166.63,438.90 166.78,438.89 166.94,438.90 167.09,438.92 167.24,438.95 167.39,438.98 167.54,439.03 167.69,439.07 167.84,439.11 167.99,439.15 168.14,439.17 168.29,439.19 168.44,439.19 168.59,439.18 168.74,439.15 168.89,439.12 169.05,439.08 169.20,439.04 169.35,438.99 169.50,438.96 169.65,438.93 169.80,438.91 169.95,438.90 170.10,438.91 170.25,438.93 170.40,438.96 170.55,438.99 170.70,439.04 170.85,439.08 171.01,439.12 171.16,439.15 171.31,439.18 171.46,439.19 171.61,439.19 171.76,439.18 171.91,439.15 172.06,439.12 172.21,439.08 172.36,439.03 172.51,438.99 172.66,438.96 172.81,438.93 172.96,438.91 173.12,438.91 173.27,438.92 173.42,438.94 173.57,438.97 173.72,439.00 173.87,439.05 174.02,439.09 174.17,439.13 174.32,439.16 174.47,439.18 174.62,439.19 174.77,439.19 174.92,439.18 175.08,439.15 175.23,439.12 175.38,439.08 175.53,439.03 175.68,438.99 175.83,438.96 175.98,438.93 176.13,438.92 176.28,438.92 176.43,438.93 176.58,438.95 176.73,438.98 176.88,439.01 177.04,439.06 177.19,439.10 177.34,439.13 177.49,439.16 177.64,439.19 177.79,439.19 177.94,439.19 178.09,439.18 178.24,439.15 178.39,439.11 178.54,439.08 178.69,439.03 178.84,439.00 179.00,438.96 179.15,438.94 179.30,438.93 179.45,438.92 179.60,438.93 179.75,438.96 179.90,438.99 180.05,439.02 180.20,439.07 180.35,439.11 180.50,439.14 180.65,439.17 180.80,439.19 180.95,439.20 181.11,439.19 181.26,439.17 181.41,439.15 181.56,439.11 181.71,439.07 181.86,439.04 182.01,439.00 182.16,438.97 182.31,438.94 182.46,438.93 182.61,438.93 182.76,438.94 182.91,438.97 183.07,439.00 183.22,439.03 183.37,439.07 183.52,439.11 183.67,439.15 183.82,439.17 183.97,439.19 184.12,439.20 184.27,439.19 184.42,439.17 184.57,439.15 184.72,439.11 184.87,439.07 185.02,439.04 185.18,439.00 185.33,438.97 185.48,438.95 185.63,438.94 185.78,438.94 185.93,438.95 186.08,438.98 186.23,439.01 186.38,439.04 186.53,439.08 186.68,439.12 186.83,439.15 186.98,439.18 187.14,439.19 187.29,439.20 187.44,439.19 187.59,439.17 187.74,439.15 187.89,439.11 188.04,439.07 188.19,439.04 188.34,439.00 188.49,438.97 188.64,438.95 188.79,438.94 188.94,438.95 189.10,438.96 189.25,438.98 189.40,439.02 189.55,439.05 189.70,439.09 189.85,439.13 190.00,439.16 190.15,439.18 190.30,439.20 190.45,439.20 190.60,439.19 190.75,439.17 190.90,439.14 191.06,439.11 191.21,439.07 191.36,439.04 191.51,439.00 191.66,438.98 191.81,438.96 191.96,438.95 192.11,438.95 192.26,438.97 192.41,438.99 192.56,439.03 192.71,439.06 192.86,439.10 193.01,439.13 193.17,439.17 193.32,439.19 193.47,439.20 193.62,439.20 193.77,439.19 193.92,439.17 194.07,439.14 194.22,439.11 194.37,439.07 194.52,439.04 194.67,439.01 194.82,438.98 194.97,438.96 195.13,438.96 195.28,438.96 195.43,438.98 195.58,439.00 195.73,439.03 195.88,439.07 196.03,439.11 196.18,439.14 196.33,439.17 196.48,439.19 196.63,439.20 196.78,439.20 196.93,439.19 197.08,439.17 197.24,439.14 197.39,439.11 197.54,439.07 197.69,439.04 197.84,439.01 197.99,438.98 198.14,438.97 198.29,438.96 198.44,438.97 198.59,438.99 198.74,439.01 198.89,439.04 199.04,439.08 199.20,439.12 199.35,439.15 199.50,439.18 199.65,439.19 199.80,439.20 199.95,439.20 200.10,439.19 200.25,439.17 200.40,439.14 200.55,439.11 200.70,439.07 200.85,439.04 201.00,439.01 201.16,438.99 201.31,438.97 201.46,438.97 201.61,438.98 201.76,439.00 201.91,439.02 202.06,439.05 202.21,439.09 202.36,439.12 202.51,439.15 202.66,439.18 202.81,439.20 202.96,439.21 203.11,439.20 203.27,439.19 203.42,439.17 203.57,439.14 203.72,439.11 203.87,439.07 204.02,439.04 204.17,439.01 204.32,438.99 204.47,438.98 204.62,438.98 204.77,438.99 204.92,439.00 205.07,439.03 205.23,439.06 205.38,439.10 205.53,439.13 205.68,439.16 205.83,439.18 205.98,439.20 206.13,439.21 206.28,439.20 206.43,439.19 206.58,439.17 206.73,439.14 206.88,439.11 207.03,439.07 207.19,439.04 207.34,439.01 207.49,439.00 207.64,438.98 207.79,438.98 207.94,438.99 208.09,439.01 208.24,439.04 208.39,439.07 208.54,439.10 208.69,439.14 208.84,439.17 208.99,439.19 209.14,439.20 209.30,439.21 209.45,439.20 209.60,439.19 209.75,439.17 209.90,439.14 210.05,439.11 210.20,439.07 210.35,439.04 210.50,439.02 210.65,439.00 210.80,438.99 210.95,438.99 211.10,439.00 211.26,439.02 211.41,439.05 211.56,439.08 211.71,439.11 211.86,439.14 212.01,439.17 212.16,439.19 212.31,439.21 212.46,439.21 212.61,439.21 212.76,439.19 212.91,439.17 213.06,439.14 213.22,439.11 213.37,439.07 213.52,439.04 213.67,439.02 213.82,439.00 213.97,439.00 214.12,439.00 214.27,439.01 214.42,439.03 214.57,439.06 214.72,439.09 214.87,439.12 215.02,439.15 215.17,439.18 215.33,439.20 215.48,439.21 215.63,439.21 215.78,439.21 215.93,439.19 216.08,439.17 216.23,439.14 216.38,439.11 216.53,439.08 216.68,439.05 216.83,439.02 216.98,439.01 217.13,439.00 217.29,439.00 217.44,439.02 217.59,439.04 217.74,439.06 217.89,439.09 218.04,439.13 218.19,439.16 218.34,439.18 218.49,439.20 218.64,439.21 218.79,439.21 218.94,439.21 219.09,439.19 219.25,439.17 219.40,439.14 219.55,439.11 219.70,439.08 219.85,439.05 220.00,439.03 220.15,439.01 220.30,439.01 220.45,439.01 220.60,439.02 220.75,439.04 220.90,439.07 221.05,439.10 221.20,439.13 221.36,439.16 221.51,439.19 221.66,439.20 221.81,439.21 221.96,439.21 222.11,439.21 222.26,439.19 222.41,439.17 222.56,439.14 222.71,439.11 222.86,439.08 223.01,439.05 223.16,439.03 223.32,439.02 223.47,439.01 223.62,439.02 223.77,439.03 223.92,439.05 224.07,439.08 224.22,439.11 224.37,439.14 224.52,439.17 224.67,439.19 224.82,439.21 224.97,439.22 225.12,439.22 225.28,439.21 225.43,439.19 225.58,439.16 225.73,439.14 225.88,439.11 226.03,439.08 226.18,439.05 226.33,439.03 226.48,439.02 226.63,439.02 226.78,439.02 226.93,439.04 227.08,439.06 227.23,439.09 227.39,439.12 227.54,439.15 227.69,439.17 227.84,439.19 227.99,439.21 228.14,439.22 228.29,439.22 228.44,439.21 228.59,439.19 228.74,439.16 228.89,439.14 229.04,439.11 229.19,439.08 229.35,439.05 229.50,439.04 229.65,439.03 229.80,439.02 229.95,439.03 230.10,439.05 230.25,439.07 230.40,439.09 230.55,439.12 230.70,439.15 230.85,439.18 231.00,439.20 231.15,439.21 231.31,439.22 231.46,439.22 231.61,439.21 231.76,439.19 231.91,439.16 232.06,439.14 232.21,439.11 232.36,439.08 232.51,439.06 232.66,439.04 232.81,439.03 232.96,439.03 233.11,439.04 233.26,439.05 233.42,439.07 233.57,439.10 233.72,439.13 233.87,439.16 234.02,439.18 234.17,439.20 234.32,439.22 234.47,439.22 234.62,439.22 234.77,439.21 234.92,439.19 235.07,439.16 235.22,439.14 235.38,439.11 235.53,439.08 235.68,439.06 235.83,439.04 235.98,439.04 236.13,439.04 236.28,439.04 236.43,439.06 236.58,439.08 236.73,439.11 236.88,439.14 237.03,439.16 237.18,439.19 237.34,439.21 237.49,439.22 237.64,439.22 237.79,439.22 237.94,439.21 238.09,439.19 238.24,439.16 238.39,439.14 238.54,439.11 238.69,439.08 238.84,439.06 238.99,439.05 239.14,439.04 239.29,439.04 239.45,439.05 239.60,439.07 239.75,439.09 239.90,439.12 240.05,439.14 240.20,439.17 240.35,439.19 240.50,439.21 240.65,439.22 240.80,439.22 240.95,439.22 241.10,439.21 241.25,439.19 241.41,439.16 241.56,439.14 241.71,439.11 241.86,439.08 242.01,439.06 242.16,439.05 242.31,439.05 242.46,439.05 242.61,439.06 242.76,439.07 242.91,439.10 243.06,439.12 243.21,439.15 243.37,439.17 243.52,439.20 243.67,439.21 243.82,439.22 243.97,439.22 244.12,439.22 244.27,439.20 244.42,439.19 244.57,439.16 244.72,439.14 244.87,439.11 245.02,439.09 245.17,439.07 245.32,439.05 245.48,439.05 245.63,439.05 245.78,439.06 245.93,439.08 246.08,439.10 246.23,439.13 246.38,439.15 246.53,439.18 246.68,439.20 246.83,439.22 246.98,439.22 247.13,439.23 247.28,439.22 247.44,439.20 247.59,439.18 247.74,439.16 247.89,439.14 248.04,439.11 248.19,439.09 248.34,439.07 248.49,439.06 248.64,439.05 248.79,439.06 248.94,439.07 249.09,439.09 249.24,439.11 249.40,439.13 249.55,439.16 249.70,439.18 249.85,439.20 250.00,439.22 250.15,439.23 250.30,439.23 250.45,439.22 250.60,439.20 250.75,439.18 250.90,439.16 251.05,439.14 251.20,439.11 251.35,439.09 251.51,439.07 251.66,439.06 251.81,439.06 251.96,439.06 252.11,439.08 252.26,439.09 252.41,439.12 252.56,439.14 252.71,439.17 252.86,439.19 253.01,439.21 253.16,439.22 253.31,439.23 253.47,439.23 253.62,439.22 253.77,439.20 253.92,439.18 254.07,439.16 254.22,439.14 254.37,439.11 254.52,439.09 254.67,439.08 254.82,439.07 254.97,439.06 255.12,439.07 255.27,439.08 255.43,439.10 255.58,439.12 255.73,439.15 255.88,439.17 256.03,439.19 256.18,439.21 256.33,439.22 256.48,439.23 256.63,439.23 256.78,439.22 256.93,439.20 257.08,439.18 257.23,439.16 257.38,439.14 257.54,439.11 257.69,439.09 257.84,439.08 257.99,439.07 258.14,439.07 258.29,439.08 258.44,439.09 258.59,439.11 258.74,439.13 258.89,439.15 259.04,439.18 259.19,439.20 259.34,439.22 259.50,439.23 259.65,439.23 259.80,439.23 259.95,439.22 260.10,439.20 260.25,439.18 260.40,439.16 260.55,439.14 260.70,439.11 260.85,439.10 261.00,439.08 261.15,439.07 261.30,439.07 261.46,439.08 261.61,439.09 261.76,439.11 261.91,439.14 262.06,439.16 262.21,439.18 262.36,439.20 262.51,439.22 262.66,439.23 262.81,439.23 262.96,439.23 263.11,439.22 263.26,439.20 263.41,439.18 263.57,439.16 263.72,439.14 263.87,439.12 264.02,439.10 264.17,439.09 264.32,439.08 264.47,439.08 264.62,439.09 264.77,439.10 264.92,439.12 265.07,439.14 265.22,439.16 265.37,439.19 265.53,439.21 265.68,439.22 265.83,439.23 265.98,439.23 266.13,439.23 266.28,439.22 266.43,439.20 266.58,439.18 266.73,439.16 266.88,439.14 267.03,439.12 267.18,439.10 267.33,439.09 267.49,439.08 267.64,439.08 267.79,439.09 267.94,439.11 268.09,439.13 268.24,439.15 268.39,439.17 268.54,439.19 268.69,439.21 268.84,439.22 268.99,439.23 269.14,439.24 269.29,439.23 269.44,439.22 269.60,439.20 269.75,439.18 269.90,439.16 270.05,439.14 270.20,439.12 270.35,439.10 270.50,439.09 270.65,439.09 270.80,439.09 270.95,439.10 271.10,439.11 271.25,439.13 271.40,439.15 271.56,439.17 271.71,439.20 271.86,439.21 272.01,439.23 272.16,439.23 272.31,439.24 272.46,439.23 272.61,439.22 272.76,439.20 272.91,439.18 273.06,439.16 273.21,439.14 273.36,439.12 273.52,439.11 273.67,439.10 273.82,439.09 273.97,439.09 274.12,439.10 274.27,439.12 274.42,439.14 274.57,439.16 274.72,439.18 274.87,439.20 275.02,439.22 275.17,439.23 275.32,439.24 275.47,439.24 275.63,439.23 275.78,439.22 275.93,439.20 276.08,439.18 276.23,439.16 276.38,439.14 276.53,439.12 276.68,439.11 276.83,439.10 276.98,439.10 277.13,439.10 277.28,439.11 277.43,439.12 277.59,439.14 277.74,439.16 277.89,439.18 278.04,439.20 278.19,439.22 278.34,439.23 278.49,439.24 278.64,439.24 278.79,439.23 278.94,439.22 279.09,439.20 279.24,439.18 279.39,439.16 279.55,439.14 279.70,439.12 279.85,439.11 280.00,439.10 280.15,439.10 280.30,439.10 280.45,439.11 280.60,439.13 280.75,439.15 280.90,439.17 281.05,439.19 281.20,439.21 281.35,439.22 281.50,439.23 281.66,439.24 281.81,439.24 281.96,439.23 282.11,439.22 282.26,439.20 282.41,439.18 282.56,439.16 282.71,439.14 282.86,439.13 283.01,439.11 283.16,439.11 283.31,439.10 283.46,439.11 283.62,439.12 283.77,439.13 283.92,439.15 284.07,439.17 284.22,439.19 284.37,439.21 284.52,439.23 284.67,439.24 284.82,439.24 284.97,439.24 285.12,439.23 285.27,439.22 285.42,439.20 285.58,439.18 285.73,439.16 285.88,439.14 286.03,439.13 286.18,439.12 286.33,439.11 286.48,439.11 286.63,439.11 286.78,439.12 286.93,439.14 287.08,439.16 287.23,439.18 287.38,439.20 287.53,439.22 287.69,439.23 287.84,439.24 287.99,439.24 288.14,439.24 288.29,439.23 288.44,439.22 288.59,439.20 288.74,439.18 288.89,439.16 289.04,439.14 289.19,439.13 289.34,439.12 289.49,439.11 289.65,439.11 289.80,439.12 289.95,439.13 290.10,439.15 290.25,439.16 290.40,439.18 290.55,439.20 290.70,439.22 290.85,439.23 291.00,439.24 291.15,439.24 291.30,439.24 291.45,439.23 291.61,439.22 291.76,439.20 291.91,439.18 292.06,439.16 292.21,439.15 292.36,439.13 292.51,439.12 292.66,439.12 292.81,439.12 292.96,439.12 293.11,439.14 293.26,439.15 293.41,439.17 293.56,439.19 293.72,439.21 293.87,439.22 294.02,439.24 294.17,439.24 294.32,439.24 294.47,439.24 294.62,439.23 294.77,439.22 294.92,439.20 295.07,439.18 295.22,439.16 295.37,439.15 295.52,439.13 295.68,439.12 295.83,439.12 295.98,439.12 296.13,439.13 296.28,439.14 296.43,439.16 296.58,439.17 296.73,439.19 296.88,439.21 297.03,439.23 297.18,439.24 297.33,439.24 297.48,439.25 297.64,439.24 297.79,439.23 297.94,439.22 298.09,439.20 298.24,439.18 298.39,439.16 298.54,439.15 298.69,439.14 298.84,439.13 298.99,439.12 299.14,439.13 299.29,439.13 299.44,439.15 299.59,439.16 299.75,439.18 299.90,439.20 300.05,439.21 300.20,439.23 300.35,439.24 300.50,439.25 300.65,439.25 300.80,439.24 300.95,439.23 301.10,439.22 301.25,439.20 301.40,439.18 301.55,439.17 301.71,439.15 301.86,439.14 302.01,439.13 302.16,439.13 302.31,439.13 302.46,439.14 302.61,439.15 302.76,439.17 302.91,439.18 303.06,439.20 303.21,439.22 303.36,439.23 303.51,439.24 303.67,439.25 303.82,439.25 303.97,439.24 304.12,439.23 304.27,439.22 304.42,439.20 304.57,439.18 304.72,439.17 304.87,439.15 305.02,439.14 305.17,439.13 305.32,439.13 305.47,439.13 305.62,439.14 305.78,439.15 305.93,439.17 306.08,439.19 306.23,439.21 306.38,439.22 306.53,439.24 306.68,439.24 306.83,439.25 306.98,439.25 307.13,439.24 307.28,439.23 307.43,439.22 307.58,439.20 307.74,439.18 307.89,439.17 308.04,439.15 308.19,439.14 308.34,439.14 308.49,439.13 308.64,439.14 308.79,439.15 308.94,439.16 309.09,439.18 309.24,439.19 309.39,439.21 309.54,439.23 309.70,439.24 309.85,439.25 310.00,439.25 310.15,439.25 310.30,439.24 310.45,439.23 310.60,439.22 310.75,439.20 310.90,439.18 311.05,439.17 311.20,439.15 311.35,439.14 311.50,439.14 311.65,439.14 311.81,439.14 311.96,439.15 312.11,439.16 312.26,439.18 312.41,439.20 312.56,439.21 312.71,439.23 312.86,439.24 313.01,439.25 313.16,439.25 313.31,439.25 313.46,439.24 313.61,439.23 313.77,439.22 313.92,439.20 314.07,439.19 314.22,439.17 314.37,439.16 314.52,439.15 314.67,439.14 314.82,439.14 314.97,439.15 315.12,439.16 315.27,439.17 315.42,439.18 315.57,439.20 315.73,439.22 315.88,439.23 316.03,439.24 316.18,439.25 316.33,439.25 316.48,439.25 316.63,439.24 316.78,439.23 316.93,439.22 317.08,439.20 317.23,439.19 317.38,439.17 317.53,439.16 317.68,439.15 317.84,439.14 317.99,439.15 318.14,439.15 318.29,439.16 318.44,439.17 318.59,439.19 318.74,439.21 318.89,439.22 319.04,439.23 319.19,439.25 319.34,439.25 319.49,439.25 319.64,439.25 319.80,439.24 319.95,439.23 320.10,439.22 320.25,439.20 320.40,439.19 320.55,439.17 320.70,439.16 320.85,439.15 321.00,439.15 321.15,439.15 321.30,439.15 321.45,439.16 321.60,439.18 321.76,439.19 321.91,439.21 322.06,439.22 322.21,439.24 322.36,439.25 322.51,439.25 322.66,439.25 322.81,439.25 322.96,439.24 323.11,439.23 323.26,439.22 323.41,439.20 323.56,439.19 323.71,439.17 323.87,439.16 324.02,439.15 324.17,439.15 324.32,439.15 324.47,439.16 324.62,439.17 324.77,439.18 324.92,439.20 325.07,439.21 325.22,439.23 325.37,439.24 325.52,439.25 325.67,439.25 325.83,439.26 325.98,439.25 326.13,439.24 326.28,439.23 326.43,439.22 326.58,439.20 326.73,439.19 326.88,439.17 327.03,439.16 327.18,439.16 327.33,439.15 327.48,439.16 327.63,439.16 327.79,439.17 327.94,439.19 328.09,439.20 328.24,439.22 328.39,439.23 328.54,439.24 328.69,439.25 328.84,439.26 328.99,439.26 329.14,439.25 329.29,439.24 329.44,439.23 329.59,439.22 329.75,439.20 329.90,439.19 330.05,439.18 330.20,439.17 330.35,439.16 330.50,439.16 330.65,439.16 330.80,439.17 330.95,439.18 331.10,439.19 331.25,439.21 331.40,439.22 331.55,439.23 331.70,439.25 331.86,439.25 332.01,439.26 332.16,439.26 332.31,439.25 332.46,439.24 332.61,439.23 332.76,439.22 332.91,439.20 333.06,439.19 333.21,439.18 333.36,439.17 333.51,439.16 333.66,439.16 333.82,439.16 333.97,439.17 334.12,439.18 334.27,439.19 334.42,439.21 334.57,439.22 334.72,439.24 334.87,439.25 335.02,439.26 335.17,439.26 335.32,439.26 335.47,439.25 335.62,439.24 335.77,439.23 335.93,439.22 336.08,439.20 336.23,439.19 336.38,439.18 336.53,439.17 336.68,439.16 336.83,439.16 336.98,439.17 337.13,439.17 337.28,439.19 337.43,439.20 337.58,439.21 337.73,439.23 337.89,439.24 338.04,439.25 338.19,439.26 338.34,439.26 338.49,439.26 338.64,439.25 338.79,439.24 338.94,439.23 339.09,439.22 339.24,439.20 339.39,439.19 339.54,439.18 339.69,439.17 339.85,439.17 340.00,439.17 340.15,439.17 340.30,439.18 340.45,439.19 340.60,439.20 340.75,439.22 340.90,439.23 341.05,439.24 341.20,439.25 341.35,439.26 341.50,439.26 341.65,439.26 341.80,439.25 341.96,439.24 342.11,439.23 342.26,439.22 342.41,439.20 342.56,439.19 342.71,439.18 342.86,439.17 343.01,439.17 343.16,439.17 343.31,439.17 343.46,439.18 343.61,439.19 343.76,439.21 343.92,439.22 344.07,439.23 344.22,439.25 344.37,439.25 344.52,439.26 344.67,439.26 344.82,439.26 344.97,439.25 345.12,439.24 345.27,439.23 345.42,439.22 345.57,439.21 345.72,439.19 345.88,439.18 346.03,439.18 346.18,439.17 346.33,439.17 346.48,439.18 346.63,439.19 346.78,439.20 346.93,439.21 347.08,439.22 347.23,439.24 347.38,439.25 347.53,439.26 347.68,439.26 347.83,439.26 347.99,439.26 348.14,439.25 348.29,439.24 348.44,439.23 348.59,439.22 348.74,439.21 348.89,439.19 349.04,439.18 349.19,439.18 349.34,439.18 349.49,439.18 349.64,439.18 349.79,439.19 349.95,439.20 350.10,439.21 350.25,439.23 350.40,439.24 350.55,439.25 350.70,439.26 350.85,439.26 351.00,439.26 351.15,439.26 351.30,439.25 351.45,439.24 351.60,439.23 351.75,439.22 351.91,439.21 352.06,439.20 352.21,439.19 352.36,439.18 352.51,439.18 352.66,439.18 352.81,439.18 352.96,439.19 353.11,439.20 353.26,439.22 353.41,439.23 353.56,439.24 353.71,439.25 353.86,439.26 354.02,439.26 354.17,439.26 354.32,439.26 354.47,439.25 354.62,439.24 354.77,439.23 354.92,439.22 355.07,439.21 355.22,439.20 355.37,439.19 355.52,439.18 355.67,439.18 355.82,439.18 355.98,439.19 356.13,439.20 356.28,439.21 356.43,439.22 356.58,439.23 356.73,439.25 356.88,439.25 357.03,439.26 357.18,439.27 357.33,439.27 357.48,439.26 357.63,439.25 357.78,439.24 357.94,439.23 358.09,439.22 358.24,439.21 358.39,439.20 358.54,439.19 358.69,439.18 358.84,439.18 358.99,439.19 359.14,439.19 359.29,439.20 359.44,439.21 359.59,439.22 359.74,439.24 359.89,439.25 360.05,439.26 360.20,439.26 360.35,439.27 360.50,439.27 360.65,439.26 360.80,439.25 360.95,439.24 361.10,439.23 361.25,439.22 361.40,439.21 361.55,439.20 361.70,439.19 361.85,439.19 362.01,439.19 362.16,439.19 362.31,439.20 362.46,439.20 362.61,439.22 362.76,439.23 362.91,439.24 363.06,439.25 363.21,439.26 363.36,439.26 363.51,439.27 363.66,439.27 363.81,439.26 363.97,439.25 364.12,439.24 364.27,439.23 364.42,439.22 364.57,439.21 364.72,439.20 364.87,439.19 365.02,439.19 365.17,439.19 365.32,439.19 365.47,439.20 365.62,439.21 365.77,439.22 365.92,439.23 366.08,439.24 366.23,439.25 366.38,439.26 366.53,439.27 366.68,439.27 366.83,439.27 366.98,439.26 367.13,439.25 367.28,439.24 367.43,439.23 367.58,439.22 367.73,439.21 367.88,439.20 368.04,439.20 368.19,439.19 368.34,439.19 368.49,439.20 368.64,439.20 368.79,439.21 368.94,439.22 369.09,439.23 369.24,439.24 369.39,439.25 369.54,439.26 369.69,439.27 369.84,439.27 370.00,439.27 370.15,439.26 370.30,439.25 370.45,439.24 370.60,439.23 370.75,439.22 370.90,439.21 371.05,439.20 371.20,439.20 371.35,439.19 371.50,439.19 371.65,439.20 371.80,439.21 371.95,439.21 372.11,439.23 372.26,439.24 372.41,439.25 372.56,439.26 372.71,439.26 372.86,439.27 373.01,439.27 373.16,439.27 373.31,439.26 373.46,439.25 373.61,439.24 373.76,439.23 373.91,439.22 374.07,439.21 374.22,439.20 374.37,439.20 374.52,439.20 374.67,439.20 374.82,439.20 374.97,439.21 375.12,439.22 375.27,439.23 375.42,439.24 375.57,439.25 375.72,439.26 375.87,439.27 376.03,439.27 376.18,439.27 376.33,439.27 376.48,439.26 376.63,439.26 376.78,439.25 376.93,439.23 377.08,439.22 377.23,439.21 377.38,439.21 377.53,439.20 377.68,439.20 377.83,439.20 377.98,439.20 378.14,439.21 378.29,439.22 378.44,439.23 378.59,439.24 378.74,439.25 378.89,439.26 379.04,439.27 379.19,439.27 379.34,439.27 379.49,439.27 379.64,439.26 379.79,439.26 379.94,439.25 380.10,439.23 380.25,439.22 380.40,439.21 380.55,439.21 380.70,439.20 380.85,439.20 381.00,439.20 381.15,439.21 381.30,439.21 381.45,439.22 381.60,439.23 381.75,439.24 381.90,439.25 382.06,439.26 382.21,439.27 382.36,439.27 382.51,439.27 382.66,439.27 382.81,439.26 382.96,439.26 383.11,439.25 383.26,439.24 383.41,439.22 383.56,439.22 383.71,439.21 383.86,439.20 384.01,439.20 384.17,439.21 384.32,439.21 384.47,439.22 384.62,439.23 384.77,439.24 384.92,439.25 385.07,439.26 385.22,439.27 385.37,439.27 385.52,439.27 385.67,439.27 385.82,439.27 385.97,439.26 386.13,439.26 386.28,439.25 386.43,439.24 386.58,439.23 386.73,439.22 386.88,439.21 387.03,439.21 387.18,439.21 387.33,439.21 387.48,439.21 387.63,439.22 387.78,439.23 387.93,439.24 388.09,439.25 388.24,439.26 388.39,439.27 388.54,439.27 388.69,439.27 388.84,439.27 388.99,439.27 389.14,439.26 389.29,439.26 389.44,439.25 389.59,439.24 389.74,439.23 389.89,439.22 390.04,439.21 390.20,439.21 390.35,439.21 390.50,439.21 390.65,439.22 390.80,439.22 390.95,439.23 391.10,439.24 391.25,439.25 391.40,439.26 391.55,439.27 391.70,439.27 391.85,439.28 392.00,439.27 392.16,439.27 392.31,439.26 392.46,439.26 392.61,439.25 392.76,439.24 392.91,439.23 393.06,439.22 393.21,439.21 393.36,439.21 393.51,439.21 393.66,439.21 393.81,439.22 393.96,439.23 394.12,439.24 394.27,439.25 394.42,439.26 394.57,439.26 394.72,439.27 394.87,439.27 395.02,439.28 395.17,439.28 395.32,439.27 395.47,439.26 395.62,439.26 395.77,439.25 395.92,439.24 396.07,439.23 396.23,439.22 396.38,439.22 396.53,439.21 396.68,439.21 396.83,439.22 396.98,439.22 397.13,439.23 397.28,439.24 397.43,439.25 397.58,439.26 397.73,439.27 397.88,439.27 398.03,439.28 398.19,439.28 398.34,439.28 398.49,439.27 398.64,439.26 398.79,439.26 398.94,439.25 399.09,439.24 399.24,439.23 399.39,439.22 399.54,439.22 399.69,439.21 399.84,439.22 399.99,439.22 400.15,439.22 400.30,439.23 400.45,439.24 400.60,439.25 400.75,439.26 400.90,439.27 401.05,439.27 401.20,439.28 401.35,439.28 401.50,439.28 401.65,439.27 401.80,439.26 401.95,439.26 402.10,439.25 402.26,439.24 402.41,439.23 402.56,439.22 402.71,439.22 402.86,439.22 403.01,439.22 403.16,439.22 403.31,439.23 403.46,439.23 403.61,439.24 403.76,439.25 403.91,439.26 404.06,439.27 404.22,439.28 404.37,439.28 404.52,439.28 404.67,439.28 404.82,439.27 404.97,439.26 405.12,439.26 405.27,439.25 405.42,439.24 405.57,439.23 405.72,439.22 405.87,439.22 406.02,439.22 406.18,439.22 406.33,439.22 406.48,439.23 406.63,439.24 406.78,439.25 406.93,439.26 407.08,439.26 407.23,439.27 407.38,439.28 407.53,439.28 407.68,439.28 407.83,439.28 407.98,439.27 408.13,439.27 408.29,439.26 408.44,439.25 408.59,439.24 408.74,439.23 408.89,439.23 409.04,439.22 409.19,439.22 409.34,439.22 409.49,439.23 409.64,439.23 409.79,439.24 409.94,439.25 410.09,439.26 410.25,439.27 410.40,439.27 410.55,439.28 410.70,439.28 410.85,439.28 411.00,439.28 411.15,439.27 411.30,439.27 411.45,439.26 411.60,439.25 411.75,439.24 411.90,439.23 412.05,439.23 412.21,439.22 412.36,439.22 412.51,439.22 412.66,439.23 412.81,439.23 412.96,439.24 413.11,439.25 413.26,439.26 413.41,439.27 413.56,439.27 413.71,439.28 413.86,439.28 414.01,439.28 414.16,439.28 414.32,439.27 414.47,439.27 414.62,439.26 414.77,439.25 414.92,439.24 415.07,439.23 415.22,439.23 415.37,439.23 415.52,439.22 415.67,439.23 415.82,439.23 415.97,439.24 416.12,439.25 416.28,439.25 416.43,439.26 416.58,439.27 416.73,439.28 416.88,439.28 417.03,439.28 417.18,439.28 417.33,439.28 417.48,439.27 417.63,439.27 417.78,439.26 417.93,439.25 418.08,439.24 418.24,439.23 418.39,439.23 418.54,439.23 418.69,439.23 418.84,439.23 418.99,439.23 419.14,439.24 419.29,439.25 419.44,439.26 419.59,439.26 419.74,439.27 419.89,439.28 420.04,439.28 420.19,439.28 420.35,439.28 420.50,439.28 420.65,439.27 420.80,439.27 420.95,439.26 421.10,439.25 421.25,439.24 421.40,439.24 421.55,439.23 421.70,439.23 421.85,439.23 422.00,439.23 422.15,439.24 422.31,439.24 422.46,439.25 422.61,439.26 422.76,439.27 422.91,439.27 423.06,439.28 423.21,439.28 423.36,439.28 423.51,439.28 423.66,439.28 423.81,439.27 423.96,439.27 424.11,439.26 424.27,439.25 424.42,439.24 424.57,439.24 424.72,439.23 424.87,439.23 425.02,439.23 425.17,439.23 425.32,439.24 425.47,439.24 425.62,439.25 425.77,439.26 425.92,439.27 426.07,439.28 426.22,439.28 426.38,439.28 426.53,439.28 426.68,439.28 426.83,439.28 426.98,439.27 427.13,439.27 427.28,439.26 427.43,439.25 427.58,439.24 427.73,439.24 427.88,439.23 428.03,439.23 428.18,439.23 428.34,439.24 428.49,439.24 428.64,439.25 428.79,439.25 428.94,439.26 429.09,439.27 429.24,439.28 429.39,439.28 429.54,439.28 429.69,439.28 429.84,439.28 429.99,439.28 430.14,439.27 430.30,439.27 430.45,439.26 430.60,439.25 430.75,439.24 430.90,439.24 431.05,439.24 431.20,439.23 431.35,439.23 431.50,439.24 431.65,439.24 431.80,439.25 431.95,439.26 432.10,439.26 432.25,439.27 432.41,439.28 432.56,439.28 432.71,439.29 432.86,439.29 433.01,439.28 433.16,439.28 433.31,439.27 433.46,439.27 433.61,439.26 433.76,439.25 433.91,439.25 434.06,439.24 434.21,439.24 434.37,439.24 434.52,439.24 434.67,439.24 434.82,439.25 434.97,439.25 435.12,439.26 435.27,439.27 435.42,439.27 435.57,439.28 435.72,439.28 435.87,439.29 436.02,439.29 436.17,439.28 436.33,439.28 436.48,439.27 436.63,439.27 436.78,439.26 436.93,439.25 437.08,439.25 437.23,439.24 437.38,439.24 437.53,439.24 437.68,439.24 437.83,439.24 437.98,439.25 438.13,439.25 438.28,439.26 438.44,439.27 438.59,439.28 438.74,439.28 438.89,439.29 439.04,439.29 439.19,439.29 439.34,439.28 439.49,439.28 439.64,439.27 439.79,439.27 439.94,439.26 440.09,439.25 440.24,439.25 440.40,439.24 440.55,439.24 440.70,439.24 440.85,439.24 441.00,439.24 441.15,439.25 441.30,439.26 441.45,439.26 441.60,439.27 441.75,439.28 441.90,439.28 442.05,439.29 442.20,439.29 442.36,439.29 442.51,439.28 442.66,439.28 442.81,439.27 442.96,439.27 443.11,439.26 443.26,439.25 443.41,439.25 443.56,439.24 443.71,439.24 443.86,439.24 444.01,439.24 444.16,439.25 444.31,439.25 444.47,439.26 444.62,439.27 444.77,439.27 444.92,439.28 445.07,439.28 445.22,439.29 445.37,439.29 445.52,439.29 445.67,439.28 445.82,439.28 445.97,439.27 446.12,439.27 446.27,439.26 446.43,439.25 446.58,439.25 446.73,439.25 446.88,439.24 447.03,439.24 447.18,439.24 447.33,439.25 447.48,439.25 447.63,439.26 447.78,439.27 447.93,439.27 448.08,439.28 448.23,439.29 448.39,439.29 448.54,439.29 448.69,439.29 448.84,439.29 448.99,439.28 449.14,439.27 449.29,439.27 449.44,439.26 449.59,439.26 449.74,439.25 449.89,439.25 450.04,439.24 450.19,439.24 450.34,439.25 450.50,439.25 450.65,439.26 450.80,439.26 450.95,439.27 451.10,439.28 451.25,439.28 451.40,439.29 451.55,439.29 451.70,439.29 451.85,439.29 452.00,439.29 452.15,439.28 452.30,439.27 452.46,439.27 452.61,439.26 452.76,439.26 452.91,439.25 453.06,439.25 453.21,439.25 453.36,439.25 453.51,439.25 453.66,439.25 453.81,439.26" stroke="#f00" stroke-width="1.05"/>
<path d="M79.50,440.93 79.65,440.85 79.80,440.79 79.95,440.73 80.10,440.70 80.25,440.69 80.40,440.70 80.56,440.74 80.71,440.80 80.86,440.86 81.01,440.94 81.16,441.02 81.31,441.09 81.46,441.15 81.61,441.19 81.76,441.21 81.91,441.20 82.06,441.17 82.21,441.12 82.36,441.06 82.52,440.99 82.67,440.91 82.82,440.83 82.97,440.77 83.12,440.72 83.27,440.69 83.42,440.68 83.57,440.70 83.72,440.74 83.87,440.79 84.02,440.86 84.17,440.94 84.32,441.01 84.47,441.08 84.63,441.13 84.78,441.17 84.93,441.19 85.08,441.18 85.23,441.15 85.38,441.10 85.53,441.04 85.68,440.96 85.83,440.88 85.98,440.81 86.13,440.75 86.28,440.70 86.43,440.68 86.59,440.67 86.74,440.69 86.89,440.73 87.04,440.79 87.19,440.86 87.34,440.93 87.49,441.00 87.64,441.07 87.79,441.12 87.94,441.15 88.09,441.17 88.24,441.16 88.39,441.12 88.55,441.07 88.70,441.01 88.85,440.94 89.00,440.86 89.15,440.79 89.30,440.73 89.45,440.69 89.60,440.67 89.75,440.67 89.90,440.69 90.05,440.73 90.20,440.78 90.35,440.85 90.50,440.92 90.66,440.99 90.81,441.06 90.96,441.11 91.11,441.14 91.26,441.15 91.41,441.13 91.56,441.10 91.71,441.05 91.86,440.99 92.01,440.91 92.16,440.84 92.31,440.77 92.46,440.72 92.62,440.68 92.77,440.66 92.92,440.66 93.07,440.68 93.22,440.72 93.37,440.78 93.52,440.85 93.67,440.92 93.82,440.99 93.97,441.05 94.12,441.09 94.27,441.12 94.42,441.13 94.58,441.11 94.73,441.08 94.88,441.03 95.03,440.96 95.18,440.89 95.33,440.82 95.48,440.75 95.63,440.70 95.78,440.66 95.93,440.65 96.08,440.65 96.23,440.67 96.38,440.72 96.53,440.78 96.69,440.84 96.84,440.91 96.99,440.98 97.14,441.04 97.29,441.08 97.44,441.10 97.59,441.11 97.74,441.09 97.89,441.06 98.04,441.00 98.19,440.94 98.34,440.87 98.49,440.80 98.65,440.74 98.80,440.69 98.95,440.65 99.10,440.64 99.25,440.64 99.40,440.67 99.55,440.71 99.70,440.77 99.85,440.84 100.00,440.91 100.15,440.97 100.30,441.02 100.45,441.07 100.60,441.09 100.76,441.09 100.91,441.07 101.06,441.03 101.21,440.98 101.36,440.92 101.51,440.85 101.66,440.78 101.81,440.72 101.96,440.67 102.11,440.64 102.26,440.63 102.41,440.64 102.56,440.66 102.72,440.71 102.87,440.77 103.02,440.83 103.17,440.90 103.32,440.96 103.47,441.01 103.62,441.05 103.77,441.07 103.92,441.07 104.07,441.05 104.22,441.01 104.37,440.96 104.52,440.89 104.68,440.83 104.83,440.76 104.98,440.70 105.13,440.66 105.28,440.63 105.43,440.62 105.58,440.63 105.73,440.66 105.88,440.70 106.03,440.76 106.18,440.83 106.33,440.89 106.48,440.95 106.63,441.00 106.79,441.04 106.94,441.05 107.09,441.05 107.24,441.03 107.39,440.99 107.54,440.93 107.69,440.87 107.84,440.81 107.99,440.74 108.14,440.69 108.29,440.64 108.44,440.62 108.59,440.61 108.75,440.62 108.90,440.65 109.05,440.70 109.20,440.76 109.35,440.82 109.50,440.89 109.65,440.94 109.80,440.99 109.95,441.02 110.10,441.04 110.25,441.03 110.40,441.01 110.55,440.97 110.71,440.91 110.86,440.85 111.01,440.79 111.16,440.72 111.31,440.67 111.46,440.63 111.61,440.61 111.76,440.60 111.91,440.62 112.06,440.65 112.21,440.70 112.36,440.75 112.51,440.82 112.66,440.88 112.82,440.93 112.97,440.98 113.12,441.01 113.27,441.02 113.42,441.01 113.57,440.99 113.72,440.94 113.87,440.89 114.02,440.83 114.17,440.77 114.32,440.71 114.47,440.66 114.62,440.62 114.78,440.60 114.93,440.60 115.08,440.61 115.23,440.65 115.38,440.69 115.53,440.75 115.68,440.81 115.83,440.87 115.98,440.93 116.13,440.97 116.28,440.99 116.43,441.00 116.58,440.99 116.74,440.97 116.89,440.92 117.04,440.87 117.19,440.81 117.34,440.75 117.49,440.69 117.64,440.64 117.79,440.61 117.94,440.59 118.09,440.59 118.24,440.61 118.39,440.64 118.54,440.69 118.69,440.75 118.85,440.81 119.00,440.86 119.15,440.92 119.30,440.96 119.45,440.98 119.60,440.99 119.75,440.97 119.90,440.95 120.05,440.90 120.20,440.85 120.35,440.79 120.50,440.73 120.65,440.67 120.81,440.63 120.96,440.59 121.11,440.58 121.26,440.58 121.41,440.60 121.56,440.64 121.71,440.68 121.86,440.74 122.01,440.80 122.16,440.86 122.31,440.91 122.46,440.94 122.61,440.96 122.77,440.97 122.92,440.96 123.07,440.93 123.22,440.88 123.37,440.83 123.52,440.77 123.67,440.71 123.82,440.66 123.97,440.61 124.12,440.58 124.27,440.57 124.42,440.57 124.57,440.60 124.72,440.63 124.88,440.68 125.03,440.74 125.18,440.79 125.33,440.85 125.48,440.90 125.63,440.93 125.78,440.95 125.93,440.95 126.08,440.94 126.23,440.91 126.38,440.86 126.53,440.81 126.68,440.75 126.84,440.69 126.99,440.64 127.14,440.60 127.29,440.57 127.44,440.56 127.59,440.57 127.74,440.59 127.89,440.63 128.04,440.68 128.19,440.73 128.34,440.79 128.49,440.84 128.64,440.89 128.80,440.92 128.95,440.94 129.10,440.94 129.25,440.92 129.40,440.89 129.55,440.84 129.70,440.79 129.85,440.73 130.00,440.68 130.15,440.63 130.30,440.59 130.45,440.56 130.60,440.55 130.75,440.56 130.91,440.59 131.06,440.62 131.21,440.67 131.36,440.73 131.51,440.78 131.66,440.83 131.81,440.88 131.96,440.91 132.11,440.92 132.26,440.92 132.41,440.90 132.56,440.87 132.71,440.82 132.87,440.77 133.02,440.71 133.17,440.66 133.32,440.61 133.47,440.58 133.62,440.55 133.77,440.55 133.92,440.56 134.07,440.58 134.22,440.62 134.37,440.67 134.52,440.72 134.67,440.78 134.83,440.83 134.98,440.87 135.13,440.89 135.28,440.91 135.43,440.90 135.58,440.88 135.73,440.85 135.88,440.80 136.03,440.75 136.18,440.70 136.33,440.64 136.48,440.60 136.63,440.56 136.78,440.54 136.94,440.54 137.09,440.55 137.24,440.58 137.39,440.62 137.54,440.66 137.69,440.72 137.84,440.77 137.99,440.82 138.14,440.86 138.29,440.88 138.44,440.89 138.59,440.89 138.74,440.87 138.90,440.83 139.05,440.79 139.20,440.73 139.35,440.68 139.50,440.63 139.65,440.59 139.80,440.55 139.95,440.53 140.10,440.53 140.25,440.55 140.40,440.57 140.55,440.61 140.70,440.66 140.86,440.71 141.01,440.76 141.16,440.81 141.31,440.85 141.46,440.87 141.61,440.88 141.76,440.87 141.91,440.85 142.06,440.81 142.21,440.77 142.36,440.72 142.51,440.66 142.66,440.61 142.81,440.57 142.97,440.54 143.12,440.53 143.27,440.53 143.42,440.54 143.57,440.57 143.72,440.61 143.87,440.66 144.02,440.71 144.17,440.76 144.32,440.80 144.47,440.84 144.62,440.86 144.77,440.86 144.93,440.85 145.08,440.83 145.23,440.79 145.38,440.75 145.53,440.70 145.68,440.65 145.83,440.60 145.98,440.56 146.13,440.53 146.28,440.52 146.43,440.52 146.58,440.54 146.73,440.56 146.89,440.61 147.04,440.65 147.19,440.70 147.34,440.75 147.49,440.79 147.64,440.82 147.79,440.84 147.94,440.85 148.09,440.84 148.24,440.81 148.39,440.78 148.54,440.73 148.69,440.68 148.84,440.63 149.00,440.59 149.15,440.55 149.30,440.52 149.45,440.51 149.60,440.51 149.75,440.53 149.90,440.56 150.05,440.60 150.20,440.65 150.35,440.70 150.50,440.74 150.65,440.78 150.80,440.81 150.96,440.83 151.11,440.83 151.26,440.82 151.41,440.80 151.56,440.76 151.71,440.71 151.86,440.66 152.01,440.62 152.16,440.57 152.31,440.54 152.46,440.51 152.61,440.50 152.76,440.51 152.92,440.53 153.07,440.56 153.22,440.60 153.37,440.64 153.52,440.69 153.67,440.74 153.82,440.78 153.97,440.80 154.12,440.82 154.27,440.82 154.42,440.81 154.57,440.78 154.72,440.74 154.88,440.70 155.03,440.65 155.18,440.60 155.33,440.56 155.48,440.53 155.63,440.50 155.78,440.50 155.93,440.50 156.08,440.52 156.23,440.55 156.38,440.59 156.53,440.64 156.68,440.69 156.83,440.73 156.99,440.77 157.14,440.79 157.29,440.81 157.44,440.80 157.59,440.79 157.74,440.76 157.89,440.73 158.04,440.68 158.19,440.63 158.34,440.59 158.49,440.55 158.64,440.51 158.79,440.50 158.95,440.49 159.10,440.50 159.25,440.52 159.40,440.55 159.55,440.59 159.70,440.64 159.85,440.68 160.00,440.72 160.15,440.76 160.30,440.78 160.45,440.79 160.60,440.79 160.75,440.77 160.90,440.75 161.06,440.71 161.21,440.66 161.36,440.62 161.51,440.57 161.66,440.53 161.81,440.50 161.96,440.49 162.11,440.48 162.26,440.49 162.41,440.51 162.56,440.55 162.71,440.59 162.86,440.63 163.02,440.68 163.17,440.72 163.32,440.75 163.47,440.77 163.62,440.78 163.77,440.78 163.92,440.76 164.07,440.73 164.22,440.69 164.37,440.65 164.52,440.60 164.67,440.56 164.82,440.52 164.98,440.49 165.13,440.48 165.28,440.48 165.43,440.49 165.58,440.51 165.73,440.54 165.88,440.58 166.03,440.63 166.18,440.67 166.33,440.71 166.48,440.74 166.63,440.76 166.78,440.77 166.94,440.76 167.09,440.74 167.24,440.71 167.39,440.68 167.54,440.63 167.69,440.59 167.84,440.55 167.99,440.51 168.14,440.49 168.29,440.47 168.44,440.47 168.59,440.48 168.74,440.51 168.89,440.54 169.05,440.58 169.20,440.62 169.35,440.66 169.50,440.70 169.65,440.73 169.80,440.75 169.95,440.76 170.10,440.75 170.25,440.73 170.40,440.70 170.55,440.66 170.70,440.62 170.85,440.57 171.01,440.53 171.16,440.50 171.31,440.48 171.46,440.46 171.61,440.46 171.76,440.48 171.91,440.50 172.06,440.53 172.21,440.57 172.36,440.62 172.51,440.66 172.66,440.69 172.81,440.72 172.96,440.74 173.12,440.74 173.27,440.73 173.42,440.71 173.57,440.68 173.72,440.65 173.87,440.60 174.02,440.56 174.17,440.52 174.32,440.49 174.47,440.47 174.62,440.46 174.77,440.46 174.92,440.47 175.08,440.50 175.23,440.53 175.38,440.57 175.53,440.61 175.68,440.65 175.83,440.69 175.98,440.71 176.13,440.73 176.28,440.73 176.43,440.72 176.58,440.70 176.73,440.67 176.88,440.63 177.04,440.59 177.19,440.55 177.34,440.51 177.49,440.48 177.64,440.46 177.79,440.45 177.94,440.45 178.09,440.47 178.24,440.49 178.39,440.53 178.54,440.57 178.69,440.61 178.84,440.65 179.00,440.68 179.15,440.70 179.30,440.72 179.45,440.72 179.60,440.71 179.75,440.68 179.90,440.65 180.05,440.62 180.20,440.57 180.35,440.53 180.50,440.50 180.65,440.47 180.80,440.45 180.95,440.44 181.11,440.45 181.26,440.46 181.41,440.49 181.56,440.52 181.71,440.56 181.86,440.60 182.01,440.64 182.16,440.67 182.31,440.69 182.46,440.70 182.61,440.70 182.76,440.69 182.91,440.67 183.07,440.64 183.22,440.60 183.37,440.56 183.52,440.52 183.67,440.49 183.82,440.46 183.97,440.44 184.12,440.44 184.27,440.44 184.42,440.46 184.57,440.49 184.72,440.52 184.87,440.56 185.02,440.60 185.18,440.63 185.33,440.66 185.48,440.68 185.63,440.69 185.78,440.69 185.93,440.68 186.08,440.66 186.23,440.62 186.38,440.59 186.53,440.55 186.68,440.51 186.83,440.48 186.98,440.45 187.14,440.44 187.29,440.43 187.44,440.44 187.59,440.46 187.74,440.48 187.89,440.52 188.04,440.55 188.19,440.59 188.34,440.63 188.49,440.66 188.64,440.67 188.79,440.68 188.94,440.68 189.10,440.67 189.25,440.64 189.40,440.61 189.55,440.57 189.70,440.53 189.85,440.50 190.00,440.47 190.15,440.44 190.30,440.43 190.45,440.42 190.60,440.43 190.75,440.45 190.90,440.48 191.06,440.51 191.21,440.55 191.36,440.59 191.51,440.62 191.66,440.65 191.81,440.66 191.96,440.67 192.11,440.67 192.26,440.65 192.41,440.63 192.56,440.60 192.71,440.56 192.86,440.52 193.01,440.49 193.17,440.46 193.32,440.43 193.47,440.42 193.62,440.42 193.77,440.43 193.92,440.45 194.07,440.48 194.22,440.51 194.37,440.55 194.52,440.58 194.67,440.61 194.82,440.64 194.97,440.66 195.13,440.66 195.28,440.66 195.43,440.64 195.58,440.61 195.73,440.58 195.88,440.55 196.03,440.51 196.18,440.48 196.33,440.45 196.48,440.43 196.63,440.41 196.78,440.41 196.93,440.42 197.08,440.44 197.24,440.47 197.39,440.51 197.54,440.54 197.69,440.58 197.84,440.61 197.99,440.63 198.14,440.65 198.29,440.65 198.44,440.64 198.59,440.63 198.74,440.60 198.89,440.57 199.04,440.53 199.20,440.50 199.35,440.46 199.50,440.44 199.65,440.42 199.80,440.41 199.95,440.41 200.10,440.42 200.25,440.44 200.40,440.47 200.55,440.50 200.70,440.54 200.85,440.57 201.00,440.60 201.16,440.62 201.31,440.64 201.46,440.64 201.61,440.63 201.76,440.61 201.91,440.59 202.06,440.56 202.21,440.52 202.36,440.49 202.51,440.45 202.66,440.43 202.81,440.41 202.96,440.40 203.11,440.40 203.27,440.42 203.42,440.44 203.57,440.47 203.72,440.50 203.87,440.53 204.02,440.57 204.17,440.59 204.32,440.61 204.47,440.63 204.62,440.63 204.77,440.62 204.92,440.60 205.07,440.58 205.23,440.54 205.38,440.51 205.53,440.47 205.68,440.44 205.83,440.42 205.98,440.40 206.13,440.40 206.28,440.40 206.43,440.41 206.58,440.43 206.73,440.46 206.88,440.50 207.03,440.53 207.19,440.56 207.34,440.59 207.49,440.61 207.64,440.62 207.79,440.62 207.94,440.61 208.09,440.59 208.24,440.56 208.39,440.53 208.54,440.50 208.69,440.46 208.84,440.43 208.99,440.41 209.14,440.40 209.30,440.39 209.45,440.39 209.60,440.41 209.75,440.43 209.90,440.46 210.05,440.49 210.20,440.52 210.35,440.55 210.50,440.58 210.65,440.60 210.80,440.61 210.95,440.61 211.10,440.60 211.26,440.58 211.41,440.55 211.56,440.52 211.71,440.49 211.86,440.45 212.01,440.42 212.16,440.40 212.31,440.39 212.46,440.38 212.61,440.39 212.76,440.40 212.91,440.43 213.06,440.46 213.22,440.49 213.37,440.52 213.52,440.55 213.67,440.57 213.82,440.59 213.97,440.60 214.12,440.60 214.27,440.58 214.42,440.56 214.57,440.54 214.72,440.51 214.87,440.47 215.02,440.44 215.17,440.42 215.33,440.39 215.48,440.38 215.63,440.38 215.78,440.39 215.93,440.40 216.08,440.42 216.23,440.45 216.38,440.48 216.53,440.52 216.68,440.54 216.83,440.57 216.98,440.58 217.13,440.59 217.29,440.59 217.44,440.57 217.59,440.55 217.74,440.53 217.89,440.50 218.04,440.46 218.19,440.43 218.34,440.41 218.49,440.39 218.64,440.38 218.79,440.37 218.94,440.38 219.09,440.40 219.25,440.42 219.40,440.45 219.55,440.48 219.70,440.51 219.85,440.54 220.00,440.56 220.15,440.57 220.30,440.58 220.45,440.57 220.60,440.56 220.75,440.54 220.90,440.51 221.05,440.48 221.20,440.45 221.36,440.42 221.51,440.40 221.66,440.38 221.81,440.37 221.96,440.37 222.11,440.38 222.26,440.39 222.41,440.42 222.56,440.45 222.71,440.48 222.86,440.51 223.01,440.53 223.16,440.55 223.32,440.57 223.47,440.57 223.62,440.56 223.77,440.55 223.92,440.53 224.07,440.50 224.22,440.47 224.37,440.44 224.52,440.41 224.67,440.39 224.82,440.37 224.97,440.36 225.12,440.36 225.28,440.37 225.43,440.39 225.58,440.41 225.73,440.44 225.88,440.47 226.03,440.50 226.18,440.53 226.33,440.55 226.48,440.56 226.63,440.56 226.78,440.55 226.93,440.54 227.08,440.52 227.23,440.49 227.39,440.46 227.54,440.43 227.69,440.40 227.84,440.38 227.99,440.37 228.14,440.36 228.29,440.36 228.44,440.37 228.59,440.39 228.74,440.41 228.89,440.44 229.04,440.47 229.19,440.50 229.35,440.52 229.50,440.54 229.65,440.55 229.80,440.55 229.95,440.54 230.10,440.53 230.25,440.51 230.40,440.48 230.55,440.45 230.70,440.42 230.85,440.40 231.00,440.37 231.15,440.36 231.31,440.35 231.46,440.36 231.61,440.37 231.76,440.38 231.91,440.41 232.06,440.44 232.21,440.46 232.36,440.49 232.51,440.51 232.66,440.53 232.81,440.54 232.96,440.54 233.11,440.53 233.26,440.52 233.42,440.50 233.57,440.47 233.72,440.44 233.87,440.41 234.02,440.39 234.17,440.37 234.32,440.35 234.47,440.35 234.62,440.35 234.77,440.36 234.92,440.38 235.07,440.41 235.22,440.43 235.38,440.46 235.53,440.49 235.68,440.51 235.83,440.52 235.98,440.53 236.13,440.53 236.28,440.52 236.43,440.51 236.58,440.48 236.73,440.46 236.88,440.43 237.03,440.40 237.18,440.38 237.34,440.36 237.49,440.35 237.64,440.34 237.79,440.35 237.94,440.36 238.09,440.38 238.24,440.40 238.39,440.43 238.54,440.46 238.69,440.48 238.84,440.50 238.99,440.52 239.14,440.52 239.29,440.52 239.45,440.51 239.60,440.50 239.75,440.47 239.90,440.45 240.05,440.42 240.20,440.39 240.35,440.37 240.50,440.35 240.65,440.34 240.80,440.34 240.95,440.34 241.10,440.36 241.25,440.38 241.41,440.40 241.56,440.43 241.71,440.45 241.86,440.48 242.01,440.50 242.16,440.51 242.31,440.52 242.46,440.51 242.61,440.50 242.76,440.49 242.91,440.46 243.06,440.44 243.21,440.41 243.37,440.38 243.52,440.36 243.67,440.35 243.82,440.34 243.97,440.33 244.12,440.34 244.27,440.35 244.42,440.37 244.57,440.40 244.72,440.42 244.87,440.45 245.02,440.47 245.17,440.49 245.32,440.50 245.48,440.51 245.63,440.50 245.78,440.49 245.93,440.48 246.08,440.45 246.23,440.43 246.38,440.40 246.53,440.38 246.68,440.35 246.83,440.34 246.98,440.33 247.13,440.33 247.28,440.34 247.44,440.35 247.59,440.37 247.74,440.39 247.89,440.42 248.04,440.44 248.19,440.47 248.34,440.48 248.49,440.49 248.64,440.50 248.79,440.49 248.94,440.48 249.09,440.47 249.24,440.44 249.40,440.42 249.55,440.39 249.70,440.37 249.85,440.35 250.00,440.33 250.15,440.33 250.30,440.33 250.45,440.33 250.60,440.35 250.75,440.37 250.90,440.39 251.05,440.42 251.20,440.44 251.35,440.46 251.51,440.48 251.66,440.49 251.81,440.49 251.96,440.49 252.11,440.47 252.26,440.46 252.41,440.43 252.56,440.41 252.71,440.38 252.86,440.36 253.01,440.34 253.16,440.33 253.31,440.32 253.47,440.32 253.62,440.33 253.77,440.34 253.92,440.36 254.07,440.39 254.22,440.41 254.37,440.44 254.52,440.46 254.67,440.47 254.82,440.48 254.97,440.48 255.12,440.48 255.27,440.46 255.43,440.45 255.58,440.42 255.73,440.40 255.88,440.37 256.03,440.35 256.18,440.33 256.33,440.32 256.48,440.32 256.63,440.32 256.78,440.33 256.93,440.34 257.08,440.36 257.23,440.38 257.38,440.41 257.54,440.43 257.69,440.45 257.84,440.46 257.99,440.47 258.14,440.47 258.29,440.47 258.44,440.45 258.59,440.44 258.74,440.41 258.89,440.39 259.04,440.37 259.19,440.34 259.34,440.33 259.50,440.32 259.65,440.31 259.80,440.31 259.95,440.32 260.10,440.34 260.25,440.36 260.40,440.38 260.55,440.40 260.70,440.43 260.85,440.44 261.00,440.46 261.15,440.47 261.30,440.47 261.46,440.46 261.61,440.45 261.76,440.43 261.91,440.40 262.06,440.38 262.21,440.36 262.36,440.34 262.51,440.32 262.66,440.31 262.81,440.31 262.96,440.31 263.11,440.32 263.26,440.34 263.41,440.36 263.57,440.38 263.72,440.40 263.87,440.42 264.02,440.44 264.17,440.45 264.32,440.46 264.47,440.46 264.62,440.45 264.77,440.44 264.92,440.42 265.07,440.40 265.22,440.37 265.37,440.35 265.53,440.33 265.68,440.31 265.83,440.30 265.98,440.30 266.13,440.31 266.28,440.32 266.43,440.33 266.58,440.35 266.73,440.37 266.88,440.40 267.03,440.42 267.18,440.43 267.33,440.45 267.49,440.45 267.64,440.45 267.79,440.44 267.94,440.43 268.09,440.41 268.24,440.39 268.39,440.36 268.54,440.34 268.69,440.32 268.84,440.31 268.99,440.30 269.14,440.30 269.29,440.30 269.44,440.31 269.60,440.33 269.75,440.35 269.90,440.37 270.05,440.39 270.20,440.41 270.35,440.43 270.50,440.44 270.65,440.44 270.80,440.44 270.95,440.43 271.10,440.42 271.25,440.40 271.40,440.38 271.56,440.36 271.71,440.33 271.86,440.32 272.01,440.30 272.16,440.29 272.31,440.29 272.46,440.30 272.61,440.31 272.76,440.33 272.91,440.35 273.06,440.37 273.21,440.39 273.36,440.41 273.52,440.42 273.67,440.43 273.82,440.44 273.97,440.43 274.12,440.42 274.27,440.41 274.42,440.39 274.57,440.37 274.72,440.35 274.87,440.33 275.02,440.31 275.17,440.30 275.32,440.29 275.47,440.29 275.63,440.30 275.78,440.31 275.93,440.32 276.08,440.34 276.23,440.36 276.38,440.39 276.53,440.40 276.68,440.42 276.83,440.43 276.98,440.43 277.13,440.43 277.28,440.42 277.43,440.40 277.59,440.38 277.74,440.36 277.89,440.34 278.04,440.32 278.19,440.30 278.34,440.29 278.49,440.29 278.64,440.29 278.79,440.29 278.94,440.30 279.09,440.32 279.24,440.34 279.39,440.36 279.55,440.38 279.70,440.40 279.85,440.41 280.00,440.42 280.15,440.42 280.30,440.42 280.45,440.41 280.60,440.39 280.75,440.37 280.90,440.35 281.05,440.33 281.20,440.31 281.35,440.30 281.50,440.29 281.66,440.28 281.81,440.28 281.96,440.29 282.11,440.30 282.26,440.32 282.41,440.34 282.56,440.36 282.71,440.38 282.86,440.39 283.01,440.41 283.16,440.41 283.31,440.42 283.46,440.41 283.62,440.40 283.77,440.38 283.92,440.37 284.07,440.35 284.22,440.32 284.37,440.31 284.52,440.29 284.67,440.28 284.82,440.28 284.97,440.28 285.12,440.29 285.27,440.30 285.42,440.32 285.58,440.34 285.73,440.36 285.88,440.37 286.03,440.39 286.18,440.40 286.33,440.41 286.48,440.41 286.63,440.40 286.78,440.39 286.93,440.38 287.08,440.36 287.23,440.34 287.38,440.32 287.53,440.30 287.69,440.29 287.84,440.28 287.99,440.27 288.14,440.28 288.29,440.28 288.44,440.30 288.59,440.31 288.74,440.33 288.89,440.35 289.04,440.37 289.19,440.39 289.34,440.40 289.49,440.40 289.65,440.40 289.80,440.40 289.95,440.38 290.10,440.37 290.25,440.35 290.40,440.33 290.55,440.31 290.70,440.29 290.85,440.28 291.00,440.27 291.15,440.27 291.30,440.27 291.45,440.28 291.61,440.29 291.76,440.31 291.91,440.33 292.06,440.35 292.21,440.37 292.36,440.38 292.51,440.39 292.66,440.40 292.81,440.39 292.96,440.39 293.11,440.38 293.26,440.36 293.41,440.34 293.56,440.32 293.72,440.30 293.87,440.29 294.02,440.27 294.17,440.27 294.32,440.27 294.47,440.27 294.62,440.28 294.77,440.29 294.92,440.31 295.07,440.33 295.22,440.35 295.37,440.36 295.52,440.38 295.68,440.38 295.83,440.39 295.98,440.39 296.13,440.38 296.28,440.37 296.43,440.35 296.58,440.33 296.73,440.32 296.88,440.30 297.03,440.28 297.18,440.27 297.33,440.26 297.48,440.26 297.64,440.27 297.79,440.28 297.94,440.29 298.09,440.31 298.24,440.32 298.39,440.34 298.54,440.36 298.69,440.37 298.84,440.38 298.99,440.38 299.14,440.38 299.29,440.37 299.44,440.36 299.59,440.34 299.75,440.33 299.90,440.31 300.05,440.29 300.20,440.28 300.35,440.26 300.50,440.26 300.65,440.26 300.80,440.26 300.95,440.27 301.10,440.29 301.25,440.30 301.40,440.32 301.55,440.34 301.71,440.35 301.86,440.37 302.01,440.37 302.16,440.38 302.31,440.37 302.46,440.37 302.61,440.35 302.76,440.34 302.91,440.32 303.06,440.30 303.21,440.28 303.36,440.27 303.51,440.26 303.67,440.25 303.82,440.25 303.97,440.26 304.12,440.27 304.27,440.28 304.42,440.30 304.57,440.32 304.72,440.33 304.87,440.35 305.02,440.36 305.17,440.37 305.32,440.37 305.47,440.37 305.62,440.36 305.78,440.35 305.93,440.33 306.08,440.31 306.23,440.29 306.38,440.28 306.53,440.26 306.68,440.26 306.83,440.25 306.98,440.25 307.13,440.26 307.28,440.27 307.43,440.28 307.58,440.30 307.74,440.31 307.89,440.33 308.04,440.35 308.19,440.36 308.34,440.36 308.49,440.36 308.64,440.36 308.79,440.35 308.94,440.34 309.09,440.32 309.24,440.31 309.39,440.29 309.54,440.27 309.70,440.26 309.85,440.25 310.00,440.25 310.15,440.25 310.30,440.25 310.45,440.26 310.60,440.28 310.75,440.30 310.90,440.31 311.05,440.33 311.20,440.34 311.35,440.35 311.50,440.36 311.65,440.36 311.81,440.35 311.96,440.34 312.11,440.33 312.26,440.32 312.41,440.30 312.56,440.28 312.71,440.27 312.86,440.25 313.01,440.25 313.16,440.24 313.31,440.25 313.46,440.25 313.61,440.26 313.77,440.28 313.92,440.29 314.07,440.31 314.22,440.32 314.37,440.34 314.52,440.35 314.67,440.35 314.82,440.35 314.97,440.35 315.12,440.34 315.27,440.32 315.42,440.31 315.57,440.29 315.73,440.28 315.88,440.26 316.03,440.25 316.18,440.24 316.33,440.24 316.48,440.24 316.63,440.25 316.78,440.26 316.93,440.27 317.08,440.29 317.23,440.31 317.38,440.32 317.53,440.33 317.68,440.34 317.84,440.35 317.99,440.35 318.14,440.34 318.29,440.33 318.44,440.32 318.59,440.30 318.74,440.29 318.89,440.27 319.04,440.26 319.19,440.24 319.34,440.24 319.49,440.24 319.64,440.24 319.80,440.25 319.95,440.26 320.10,440.27 320.25,440.29 320.40,440.30 320.55,440.32 320.70,440.33 320.85,440.34 321.00,440.34 321.15,440.34 321.30,440.33 321.45,440.32 321.60,440.31 321.76,440.30 321.91,440.28 322.06,440.26 322.21,440.25 322.36,440.24 322.51,440.23 322.66,440.23 322.81,440.24 322.96,440.24 323.11,440.26 323.26,440.27 323.41,440.28 323.56,440.30 323.71,440.31 323.87,440.32 324.02,440.33 324.17,440.34 324.32,440.33 324.47,440.33 324.62,440.32 324.77,440.30 324.92,440.29 325.07,440.27 325.22,440.26 325.37,440.25 325.52,440.24 325.67,440.23 325.83,440.23 325.98,440.23 326.13,440.24 326.28,440.25 326.43,440.27 326.58,440.28 326.73,440.30 326.88,440.31 327.03,440.32 327.18,440.33 327.33,440.33 327.48,440.33 327.63,440.32 327.79,440.31 327.94,440.30 328.09,440.28 328.24,440.27 328.39,440.25 328.54,440.24 328.69,440.23 328.84,440.23 328.99,440.23 329.14,440.23 329.29,440.24 329.44,440.25 329.59,440.26 329.75,440.28 329.90,440.29 330.05,440.31 330.20,440.32 330.35,440.32 330.50,440.32 330.65,440.32 330.80,440.31 330.95,440.30 331.10,440.29 331.25,440.28 331.40,440.26 331.55,440.25 331.70,440.24 331.86,440.23 332.01,440.22 332.16,440.22 332.31,440.23 332.46,440.24 332.61,440.25 332.76,440.26 332.91,440.28 333.06,440.29 333.21,440.30 333.36,440.31 333.51,440.32 333.66,440.32 333.82,440.32 333.97,440.31 334.12,440.30 334.27,440.28 334.42,440.27 334.57,440.26 334.72,440.24 334.87,440.23 335.02,440.22 335.17,440.22 335.32,440.22 335.47,440.23 335.62,440.23 335.77,440.25 335.93,440.26 336.08,440.27 336.23,440.29 336.38,440.30 336.53,440.31 336.68,440.31 336.83,440.31 336.98,440.31 337.13,440.30 337.28,440.29 337.43,440.28 337.58,440.26 337.73,440.25 337.89,440.24 338.04,440.23 338.19,440.22 338.34,440.22 338.49,440.22 338.64,440.22 338.79,440.23 338.94,440.24 339.09,440.26 339.24,440.27 339.39,440.28 339.54,440.30 339.69,440.30 339.85,440.31 340.00,440.31 340.15,440.30 340.30,440.30 340.45,440.29 340.60,440.27 340.75,440.26 340.90,440.24 341.05,440.23 341.20,440.22 341.35,440.22 341.50,440.21 341.65,440.22 341.80,440.22 341.96,440.23 342.11,440.24 342.26,440.26 342.41,440.27 342.56,440.28 342.71,440.29 342.86,440.30 343.01,440.30 343.16,440.30 343.31,440.30 343.46,440.29 343.61,440.28 343.76,440.27 343.92,440.25 344.07,440.24 344.22,440.23 344.37,440.22 344.52,440.21 344.67,440.21 344.82,440.21 344.97,440.22 345.12,440.23 345.27,440.24 345.42,440.25 345.57,440.27 345.72,440.28 345.88,440.29 346.03,440.30 346.18,440.30 346.33,440.30 346.48,440.29 346.63,440.28 346.78,440.27 346.93,440.26 347.08,440.25 347.23,440.23 347.38,440.22 347.53,440.21 347.68,440.21 347.83,440.21 347.99,440.21 348.14,440.22 348.29,440.23 348.44,440.24 348.59,440.25 348.74,440.26 348.89,440.28 349.04,440.28 349.19,440.29 349.34,440.29 349.49,440.29 349.64,440.29 349.79,440.28 349.95,440.27 350.10,440.26 350.25,440.24 350.40,440.23 350.55,440.22 350.70,440.21 350.85,440.21 351.00,440.20 351.15,440.21 351.30,440.21 351.45,440.22 351.60,440.24 351.75,440.25 351.91,440.26 352.06,440.27 352.21,440.28 352.36,440.29 352.51,440.29 352.66,440.29 352.81,440.28 352.96,440.27 353.11,440.26 353.26,440.25 353.41,440.24 353.56,440.22 353.71,440.21 353.86,440.21 354.02,440.20 354.17,440.20 354.32,440.21 354.47,440.21 354.62,440.22 354.77,440.23 354.92,440.25 355.07,440.26 355.22,440.27 355.37,440.28 355.52,440.28 355.67,440.28 355.82,440.28 355.98,440.28 356.13,440.27 356.28,440.26 356.43,440.24 356.58,440.23 356.73,440.22 356.88,440.21 357.03,440.20 357.18,440.20 357.33,440.20 357.48,440.20 357.63,440.21 357.78,440.22 357.94,440.23 358.09,440.24 358.24,440.26 358.39,440.27 358.54,440.27 358.69,440.28 358.84,440.28 358.99,440.28 359.14,440.27 359.29,440.26 359.44,440.25 359.59,440.24 359.74,440.23 359.89,440.22 360.05,440.21 360.20,440.20 360.35,440.20 360.50,440.20 360.65,440.20 360.80,440.21 360.95,440.22 361.10,440.23 361.25,440.24 361.40,440.25 361.55,440.26 361.70,440.27 361.85,440.27 362.01,440.28 362.16,440.27 362.31,440.27 362.46,440.26 362.61,440.25 362.76,440.23 362.91,440.22 363.06,440.21 363.21,440.20 363.36,440.20 363.51,440.19 363.66,440.19 363.81,440.20 363.97,440.21 364.12,440.22 364.27,440.23 364.42,440.24 364.57,440.25 364.72,440.26 364.87,440.27 365.02,440.27 365.17,440.27 365.32,440.27 365.47,440.26 365.62,440.25 365.77,440.24 365.92,440.23 366.08,440.22 366.23,440.21 366.38,440.20 366.53,440.19 366.68,440.19 366.83,440.19 366.98,440.20 367.13,440.20 367.28,440.21 367.43,440.22 367.58,440.24 367.73,440.25 367.88,440.26 368.04,440.26 368.19,440.27 368.34,440.27 368.49,440.26 368.64,440.26 368.79,440.25 368.94,440.24 369.09,440.22 369.24,440.21 369.39,440.20 369.54,440.19 369.69,440.19 369.84,440.19 370.00,440.19 370.15,440.19 370.30,440.20 370.45,440.21 370.60,440.22 370.75,440.23 370.90,440.24 371.05,440.25 371.20,440.26 371.35,440.26 371.50,440.26 371.65,440.26 371.80,440.25 371.95,440.24 372.11,440.23 372.26,440.22 372.41,440.21 372.56,440.20 372.71,440.19 372.86,440.19 373.01,440.18 373.16,440.19 373.31,440.19 373.46,440.20 373.61,440.21 373.76,440.22 373.91,440.23 374.07,440.24 374.22,440.25 374.37,440.26 374.52,440.26 374.67,440.26 374.82,440.25 374.97,440.25 375.12,440.24 375.27,440.23 375.42,440.21 375.57,440.20 375.72,440.19 375.87,440.19 376.03,440.18 376.18,440.18 376.33,440.18 376.48,440.19 376.63,440.20 376.78,440.21 376.93,440.22 377.08,440.23 377.23,440.24 377.38,440.25 377.53,440.25 377.68,440.25 377.83,440.25 377.98,440.25 378.14,440.24 378.29,440.23 378.44,440.22 378.59,440.21 378.74,440.20 378.89,440.19 379.04,440.18 379.19,440.18 379.34,440.18 379.49,440.18 379.64,440.19 379.79,440.20 379.94,440.21 380.10,440.22 380.25,440.23 380.40,440.24 380.55,440.24 380.70,440.25 380.85,440.25 381.00,440.25 381.15,440.24 381.30,440.24 381.45,440.23 381.60,440.22 381.75,440.21 381.90,440.20 382.06,440.19 382.21,440.18 382.36,440.18 382.51,440.18 382.66,440.18 382.81,440.19 382.96,440.19 383.11,440.20 383.26,440.21 383.41,440.22 383.56,440.23 383.71,440.24 383.86,440.24 384.01,440.25 384.17,440.24 384.32,440.24 384.47,440.23 384.62,440.22 384.77,440.21 384.92,440.20 385.07,440.19 385.22,440.18 385.37,440.18 385.52,440.17 385.67,440.17 385.82,440.18 385.97,440.18 386.13,440.19 386.28,440.20 386.43,440.21 386.58,440.22 386.73,440.23 386.88,440.24 387.03,440.24 387.18,440.24 387.33,440.24 387.48,440.23 387.63,440.23 387.78,440.22 387.93,440.21 388.09,440.20 388.24,440.19 388.39,440.18 388.54,440.17 388.69,440.17 388.84,440.17 388.99,440.18 389.14,440.18 389.29,440.19 389.44,440.20 389.59,440.21 389.74,440.22 389.89,440.23 390.04,440.23 390.20,440.24 390.35,440.24 390.50,440.23 390.65,440.23 390.80,440.22 390.95,440.21 391.10,440.20 391.25,440.19 391.40,440.18 391.55,440.18 391.70,440.17 391.85,440.17 392.00,440.17 392.16,440.17 392.31,440.18 392.46,440.19 392.61,440.20 392.76,440.21 392.91,440.22 393.06,440.22 393.21,440.23 393.36,440.23 393.51,440.23 393.66,440.23 393.81,440.22 393.96,440.22 394.12,440.21 394.27,440.20 394.42,440.19 394.57,440.18 394.72,440.17 394.87,440.17 395.02,440.17 395.17,440.17 395.32,440.17 395.47,440.18 395.62,440.19 395.77,440.20 395.92,440.21 396.07,440.21 396.23,440.22 396.38,440.23 396.53,440.23 396.68,440.23 396.83,440.23 396.98,440.22 397.13,440.21 397.28,440.20 397.43,440.19 397.58,440.18 397.73,440.18 397.88,440.17 398.03,440.17 398.19,440.16 398.34,440.17 398.49,440.17 398.64,440.18 398.79,440.18 398.94,440.19 399.09,440.20 399.24,440.21 399.39,440.22 399.54,440.22 399.69,440.23 399.84,440.23 399.99,440.22 400.15,440.22 400.30,440.21 400.45,440.20 400.60,440.19 400.75,440.18 400.90,440.17 401.05,440.17 401.20,440.16 401.35,440.16 401.50,440.16 401.65,440.17 401.80,440.17 401.95,440.18 402.10,440.19 402.26,440.20 402.41,440.21 402.56,440.22 402.71,440.22 402.86,440.22 403.01,440.22 403.16,440.22 403.31,440.21 403.46,440.20 403.61,440.19 403.76,440.19 403.91,440.18 404.06,440.17 404.22,440.16 404.37,440.16 404.52,440.16 404.67,440.16 404.82,440.17 404.97,440.17 405.12,440.18 405.27,440.19 405.42,440.20 405.57,440.21 405.72,440.21 405.87,440.22 406.02,440.22 406.18,440.22 406.33,440.21 406.48,440.21 406.63,440.20 406.78,440.19 406.93,440.18 407.08,440.17 407.23,440.17 407.38,440.16 407.53,440.16 407.68,440.16 407.83,440.16 407.98,440.16 408.13,440.17 408.29,440.18 408.44,440.19 408.59,440.20 408.74,440.20 408.89,440.21 409.04,440.21 409.19,440.22 409.34,440.21 409.49,440.21 409.64,440.20 409.79,440.20 409.94,440.19 410.09,440.18 410.25,440.17 410.40,440.16 410.55,440.16 410.70,440.16 410.85,440.16 411.00,440.16 411.15,440.16 411.30,440.17 411.45,440.18 411.60,440.19 411.75,440.19 411.90,440.20 412.05,440.21 412.21,440.21 412.36,440.21 412.51,440.21 412.66,440.21 412.81,440.20 412.96,440.19 413.11,440.18 413.26,440.17 413.41,440.17 413.56,440.16 413.71,440.15 413.86,440.15 414.01,440.15 414.16,440.16 414.32,440.16 414.47,440.17 414.62,440.18 414.77,440.18 414.92,440.19 415.07,440.20 415.22,440.20 415.37,440.21 415.52,440.21 415.67,440.21 415.82,440.20 415.97,440.20 416.12,440.19 416.28,440.18 416.43,440.17 416.58,440.16 416.73,440.16 416.88,440.15 417.03,440.15 417.18,440.15 417.33,440.15 417.48,440.16 417.63,440.17 417.78,440.17 417.93,440.18 418.08,440.19 418.24,440.20 418.39,440.20 418.54,440.20 418.69,440.20 418.84,440.20 418.99,440.20 419.14,440.19 419.29,440.18 419.44,440.18 419.59,440.17 419.74,440.16 419.89,440.15 420.04,440.15 420.19,440.15 420.35,440.15 420.50,440.15 420.65,440.16 420.80,440.16 420.95,440.17 421.10,440.18 421.25,440.19 421.40,440.19 421.55,440.20 421.70,440.20 421.85,440.20 422.00,440.20 422.15,440.19 422.31,440.19 422.46,440.18 422.61,440.17 422.76,440.16 422.91,440.16 423.06,440.15 423.21,440.15 423.36,440.15 423.51,440.15 423.66,440.15 423.81,440.16 423.96,440.16 424.11,440.17 424.27,440.18 424.42,440.19 424.57,440.19 424.72,440.20 424.87,440.20 425.02,440.20 425.17,440.20 425.32,440.19 425.47,440.18 425.62,440.18 425.77,440.17 425.92,440.16 426.07,440.15 426.22,440.15 426.38,440.14 426.53,440.14 426.68,440.15 426.83,440.15 426.98,440.15 427.13,440.16 427.28,440.17 427.43,440.18 427.58,440.18 427.73,440.19 427.88,440.19 428.03,440.20 428.18,440.19 428.34,440.19 428.49,440.19 428.64,440.18 428.79,440.17 428.94,440.16 429.09,440.16 429.24,440.15 429.39,440.15 429.54,440.14 429.69,440.14 429.84,440.14 429.99,440.15 430.14,440.15 430.30,440.16 430.45,440.17 430.60,440.17 430.75,440.18 430.90,440.19 431.05,440.19 431.20,440.19 431.35,440.19 431.50,440.19 431.65,440.18 431.80,440.18 431.95,440.17 432.10,440.16 432.25,440.15 432.41,440.15 432.56,440.14 432.71,440.14 432.86,440.14 433.01,440.14 433.16,440.15 433.31,440.15 433.46,440.16 433.61,440.17 433.76,440.17 433.91,440.18 434.06,440.18 434.21,440.19 434.37,440.19 434.52,440.19 434.67,440.18 434.82,440.18 434.97,440.17 435.12,440.17 435.27,440.16 435.42,440.15 435.57,440.14 435.72,440.14 435.87,440.14 436.02,440.14 436.17,440.14 436.33,440.14 436.48,440.15 436.63,440.16 436.78,440.16 436.93,440.17 437.08,440.18 437.23,440.18 437.38,440.18 437.53,440.19 437.68,440.18 437.83,440.18 437.98,440.18 438.13,440.17 438.28,440.16 438.44,440.15 438.59,440.15 438.74,440.14 438.89,440.14 439.04,440.14 439.19,440.14 439.34,440.14 439.49,440.14 439.64,440.15 439.79,440.16 439.94,440.16 440.09,440.17 440.24,440.18 440.40,440.18 440.55,440.18 440.70,440.18 440.85,440.18 441.00,440.18 441.15,440.17 441.30,440.17 441.45,440.16 441.60,440.15 441.75,440.14 441.90,440.14 442.05,440.14 442.20,440.13 442.36,440.13 442.51,440.14 442.66,440.14 442.81,440.15 442.96,440.15 443.11,440.16 443.26,440.17 443.41,440.17 443.56,440.18 443.71,440.18 443.86,440.18 444.01,440.18 444.16,440.17 444.31,440.17 444.47,440.16 444.62,440.15 444.77,440.15 444.92,440.14 445.07,440.14 445.22,440.13 445.37,440.13 445.52,440.13 445.67,440.14 445.82,440.14 445.97,440.15 446.12,440.15 446.27,440.16 446.43,440.17 446.58,440.17 446.73,440.17 446.88,440.18 447.03,440.18 447.18,440.17 447.33,440.17 447.48,440.17 447.63,440.16 447.78,440.15 447.93,440.14 448.08,440.14 448.23,440.13 448.39,440.13 448.54,440.13 448.69,440.13 448.84,440.13 448.99,440.14 449.14,440.14 449.29,440.15 449.44,440.16 449.59,440.16 449.74,440.17 449.89,440.17 450.04,440.17 450.19,440.17 450.34,440.17 450.50,440.17 450.65,440.16 450.80,440.16 450.95,440.15 451.10,440.14 451.25,440.14 451.40,440.13 451.55,440.13 451.70,440.13 451.85,440.13 452.00,440.13 452.15,440.14 452.30,440.14 452.46,440.15 452.61,440.16 452.76,440.16 452.91,440.17 453.06,440.17 453.21,440.17 453.36,440.17 453.51,440.17 453.66,440.16 453.81,440.16" stroke="#0f0" stroke-width="1.3"/>
</g>
<path d="M457,143.65 H74.6 V309.35 H457" fill="none" stroke="#000" stroke-width="2.8" stroke-linejoin="round"/>
<path d="M74.6,293.05 h6.8 M74.6,276.48 h3.2 M74.6,259.90 h6.8 M74.6,243.32 h3.2 M74.6,226.75 h6.8 M74.6,210.18 h3.2 M74.6,193.60 h6.8 M74.6,177.03 h3.2 M74.6,160.45 h6.8" stroke="#000" stroke-width="2.4" stroke-linecap="round" fill="none"/>
<path d="M84.60,309.35 v-6.5 M184.30,309.35 v-6.5 M284.00,309.35 v-6.5 M383.70,309.35 v-6.5 M134.45,309.35 v-3.1 M234.15,309.35 v-3.1 M333.85,309.35 v-3.1 M433.55,309.35 v-3.1" stroke="#000" stroke-width="2.4" stroke-linecap="round" fill="none"/>
<path d="M457,357.6 H74.6 V523.2 H457" fill="none" stroke="#000" stroke-width="2.8" stroke-linejoin="round"/>
<path d="M74.6,506.45 h6.8 M74.6,489.85 h3.2 M74.6,473.25 h6.8 M74.6,456.65 h3.2 M74.6,440.05 h6.8 M74.6,423.45 h3.2 M74.6,406.85 h6.8 M74.6,390.25 h3.2 M74.6,373.65 h6.8" stroke="#000" stroke-width="2.4" stroke-linecap="round" fill="none"/>
<path d="M79.75,523.2 v-6.5 M180.45,523.2 v-6.5 M281.15,523.2 v-6.5 M381.85,523.2 v-6.5 M130.10,523.2 v-3.1 M230.80,523.2 v-3.1 M331.50,523.2 v-3.1 M432.20,523.2 v-3.1" stroke="#000" stroke-width="2.4" stroke-linecap="round" fill="none"/>
<g font-family="Liberation Sans, sans-serif" font-size="15.2" fill="#000">
<text transform="translate(67.2,164.75) scale(0.86,1)" letter-spacing="0.3" text-anchor="end">1.0</text><text transform="translate(67.2,197.90) scale(0.86,1)" letter-spacing="0.3" text-anchor="end">0.5</text><text transform="translate(67.2,231.05) scale(0.86,1)" letter-spacing="0.3" text-anchor="end">0.0</text><text transform="translate(67.2,264.20) scale(0.86,1)" letter-spacing="0.3" text-anchor="end">-0.5</text><text transform="translate(67.2,297.35) scale(0.86,1)" letter-spacing="0.3" text-anchor="end">-1.0</text>
<text transform="translate(84.70,327.95000000000005) scale(0.83,1)" letter-spacing="0.75" text-anchor="middle">0</text><text transform="translate(184.40,327.95000000000005) scale(0.83,1)" letter-spacing="0.75" text-anchor="middle">100</text><text transform="translate(284.10,327.95000000000005) scale(0.83,1)" letter-spacing="0.75" text-anchor="middle">200</text><text transform="translate(383.80,327.95000000000005) scale(0.83,1)" letter-spacing="0.75" text-anchor="middle">300</text>
<text transform="translate(67.2,378.10) scale(0.86,1)" letter-spacing="0.3" text-anchor="end">1.0</text><text transform="translate(67.2,411.30) scale(0.86,1)" letter-spacing="0.3" text-anchor="end">0.5</text><text transform="translate(67.2,444.50) scale(0.86,1)" letter-spacing="0.3" text-anchor="end">0.0</text><text transform="translate(67.2,477.70) scale(0.86,1)" letter-spacing="0.3" text-anchor="end">-0.5</text><text transform="translate(67.2,510.90) scale(0.86,1)" letter-spacing="0.3" text-anchor="end">-1.0</text>
<text transform="translate(80.00,541.9000000000001) scale(0.83,1)" letter-spacing="0.75" text-anchor="middle">0</text><text transform="translate(180.70,541.9000000000001) scale(0.83,1)" letter-spacing="0.75" text-anchor="middle">200</text><text transform="translate(281.40,541.9000000000001) scale(0.83,1)" letter-spacing="0.75" text-anchor="middle">400</text><text transform="translate(382.10,541.9000000000001) scale(0.83,1)" letter-spacing="0.75" text-anchor="middle">600</text>
</g>
<g font-family="Liberation Sans, sans-serif" font-size="28" fill="#000">
<text transform="translate(26.7,244.5) rotate(-90)" text-anchor="middle">m(t)</text>
<text transform="translate(26.6,458.0) rotate(-90)" text-anchor="middle">m(t)</text>
<text x="328.8" y="577.7" text-anchor="middle">t</text>
</g>
</svg>
</body></html>
